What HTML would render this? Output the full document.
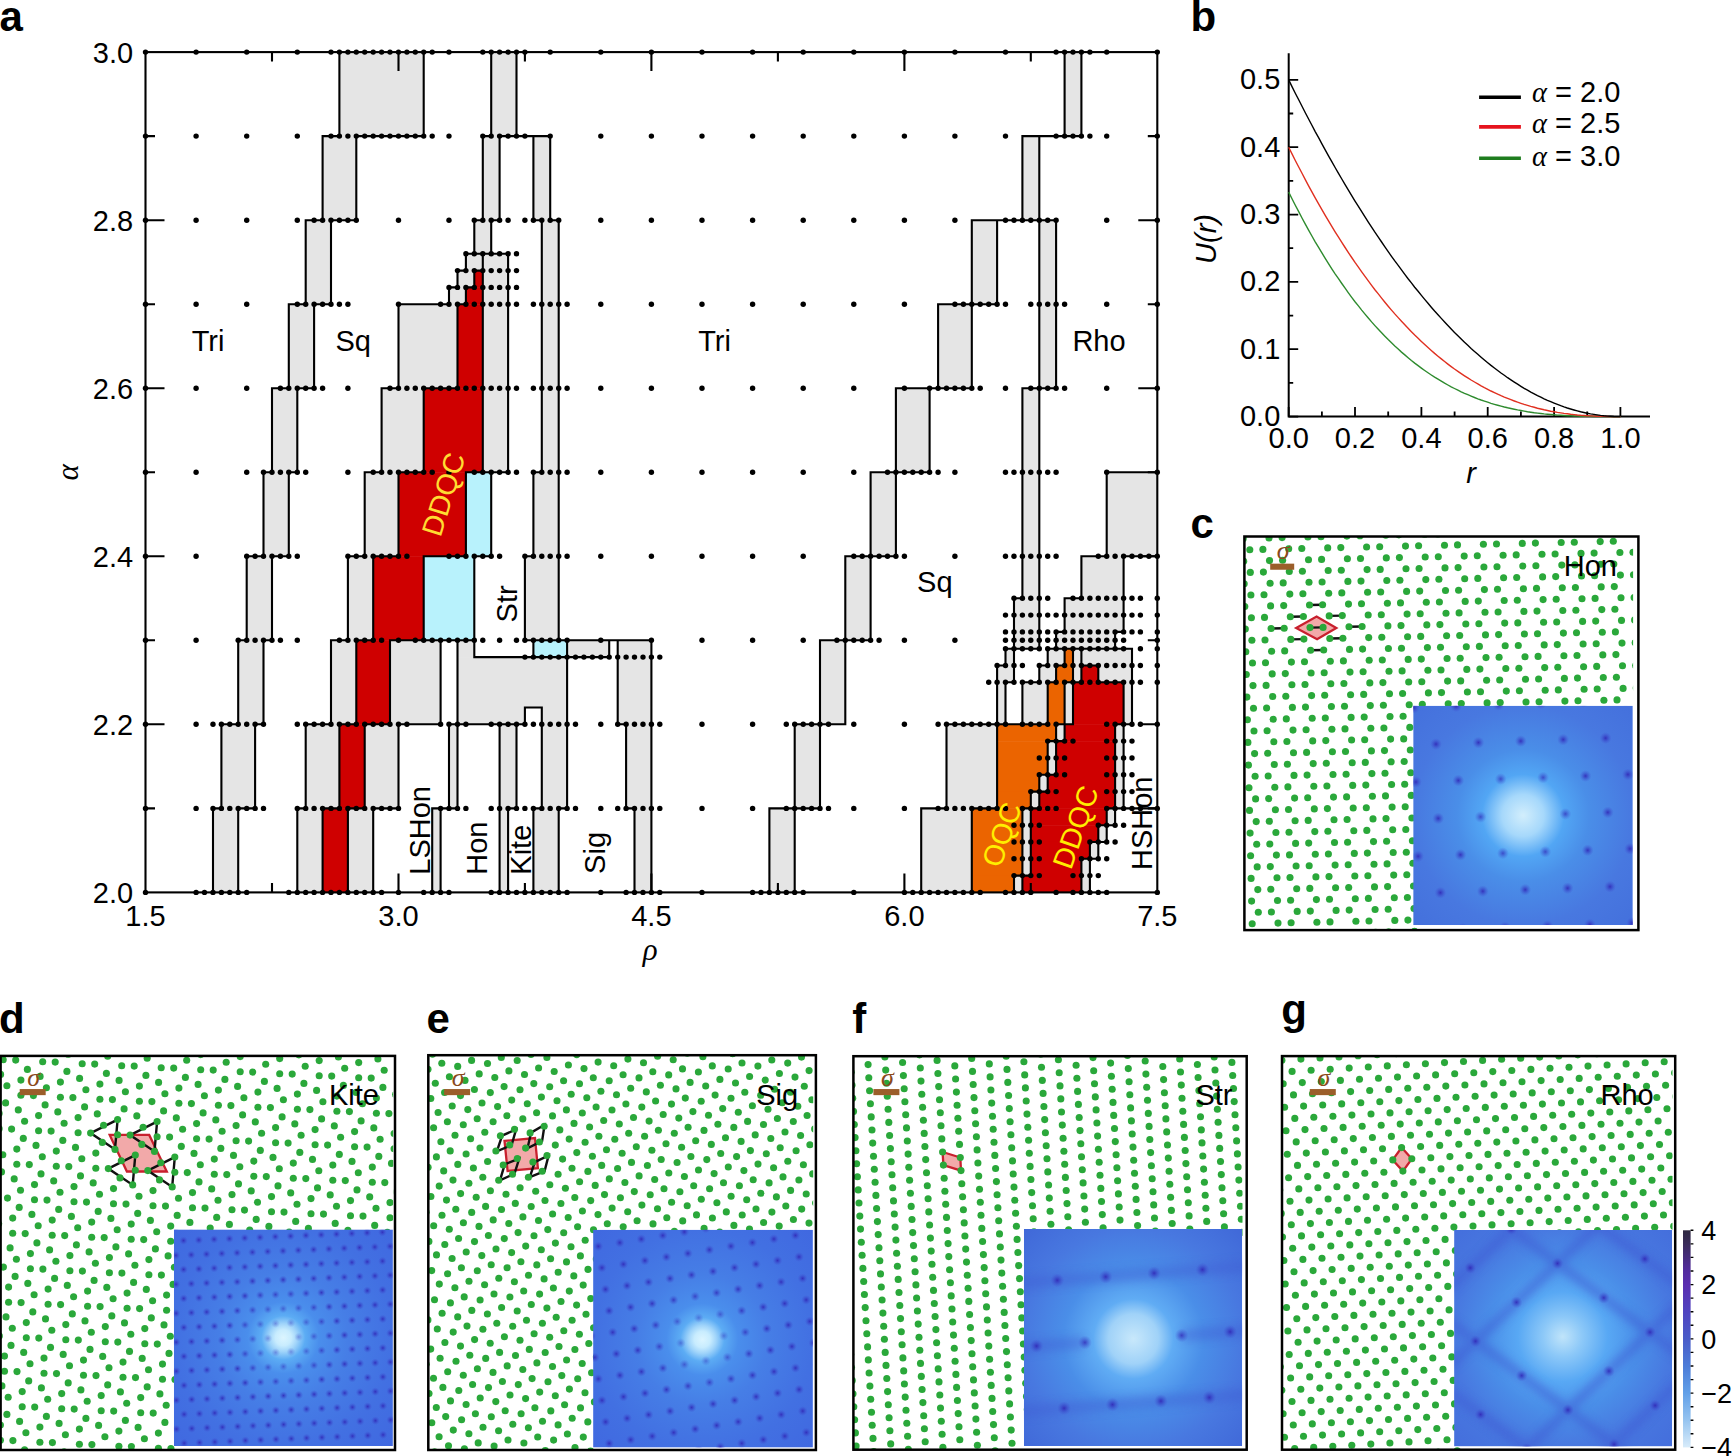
<!DOCTYPE html>
<html><head><meta charset="utf-8"><title>Figure</title>
<style>html,body{margin:0;padding:0;background:#fff;}body{width:1733px;height:1456px;overflow:hidden;}svg{display:block;}text{white-space:pre;}</style>
</head><body>
<svg width="1733" height="1456" viewBox="0 0 1733 1456"><defs><radialGradient id="spot"><stop offset="0" stop-color="#3024b4" stop-opacity="0.85"/><stop offset="0.4" stop-color="#3434c0" stop-opacity="0.5"/><stop offset="1" stop-color="#4050d0" stop-opacity="0"/></radialGradient><filter id="bl" x="-20%" y="-20%" width="140%" height="140%"><feGaussianBlur stdDeviation="4"/></filter><radialGradient id="rgc" gradientUnits="userSpaceOnUse" cx="1523" cy="815.4" r="155"><stop offset="0.000" stop-color="#d2eefc"/><stop offset="0.135" stop-color="#a6d8fb"/><stop offset="0.265" stop-color="#52a6f4"/><stop offset="0.426" stop-color="#4a8ee8"/><stop offset="0.710" stop-color="#4878e0"/><stop offset="1.000" stop-color="#4470dc"/></radialGradient><clipPath id="clc"><rect x="1244.4" y="536.5" width="388.6999999999998" height="393.6"/></clipPath><clipPath id="cic"><rect x="1413.2" y="705.7" width="219.5999999999999" height="219.29999999999995"/></clipPath><radialGradient id="rgd" gradientUnits="userSpaceOnUse" cx="283.3" cy="1337.7" r="155"><stop offset="0.000" stop-color="#dcf5ff"/><stop offset="0.052" stop-color="#c8ecfe"/><stop offset="0.090" stop-color="#a0d4fa"/><stop offset="0.142" stop-color="#5cacf4"/><stop offset="0.232" stop-color="#4a8eec"/><stop offset="0.419" stop-color="#467ee6"/><stop offset="0.710" stop-color="#4270e2"/><stop offset="1.000" stop-color="#4068e0"/></radialGradient><clipPath id="cld"><rect x="0.6" y="1055.9" width="392.59999999999997" height="394.0999999999999"/></clipPath><clipPath id="cid"><rect x="173.9" y="1229.4" width="218.99999999999997" height="216.5999999999999"/></clipPath><radialGradient id="rge" gradientUnits="userSpaceOnUse" cx="702.3" cy="1339.4" r="155"><stop offset="0.000" stop-color="#dcf5ff"/><stop offset="0.052" stop-color="#c8ecfe"/><stop offset="0.090" stop-color="#a0d4fa"/><stop offset="0.142" stop-color="#5cacf4"/><stop offset="0.232" stop-color="#4a8eec"/><stop offset="0.419" stop-color="#467ee6"/><stop offset="0.710" stop-color="#4270e2"/><stop offset="1.000" stop-color="#4068e0"/></radialGradient><clipPath id="cle"><rect x="428.3" y="1055.2" width="384.8999999999999" height="394.79999999999995"/></clipPath><clipPath id="cie"><rect x="593.1" y="1229.7" width="219.79999999999995" height="217.89999999999986"/></clipPath><radialGradient id="rgf" gradientUnits="userSpaceOnUse" cx="1133.3" cy="1338.9" r="155"><stop offset="0.000" stop-color="#c8e8fb"/><stop offset="0.161" stop-color="#a0d2f8"/><stop offset="0.258" stop-color="#60acf4"/><stop offset="0.452" stop-color="#4a8ee8"/><stop offset="0.710" stop-color="#4878e0"/><stop offset="1.000" stop-color="#4068d8"/></radialGradient><clipPath id="clf"><rect x="853.4" y="1056.2" width="389.1" height="393.5"/></clipPath><clipPath id="cif"><rect x="1023.9" y="1228.9" width="218.30000000000007" height="217.0999999999999"/></clipPath><radialGradient id="rgg" gradientUnits="userSpaceOnUse" cx="1562.7" cy="1336.7" r="155"><stop offset="0.000" stop-color="#c0e4fa"/><stop offset="0.129" stop-color="#8cc8f8"/><stop offset="0.290" stop-color="#58a8f4"/><stop offset="0.484" stop-color="#4a8ee8"/><stop offset="0.710" stop-color="#4878e0"/><stop offset="1.000" stop-color="#446edc"/></radialGradient><clipPath id="clg"><rect x="1282.0" y="1056.1" width="390.5" height="393.60000000000014"/></clipPath><clipPath id="cig"><rect x="1454.1" y="1230" width="218.10000000000014" height="216.4000000000001"/></clipPath><linearGradient id="cb" x1="0" y1="0" x2="0" y2="1"><stop offset="0" stop-color="#2e2840"/><stop offset="0.0625" stop-color="#3a2c5a"/><stop offset="0.18" stop-color="#522c9c"/><stop offset="0.25" stop-color="#5a2eb0"/><stop offset="0.375" stop-color="#5044c0"/><stop offset="0.5" stop-color="#4a5cc8"/><stop offset="0.625" stop-color="#4c7cd8"/><stop offset="0.75" stop-color="#62a0e8"/><stop offset="0.875" stop-color="#96c4f0"/><stop offset="1" stop-color="#d8ecfa"/></linearGradient></defs>
<g id="pa">
<rect x="339.43" y="52.10" width="84.32" height="84.53" fill="#e5e5e5"/>
<rect x="491.20" y="52.10" width="25.30" height="84.53" fill="#e5e5e5"/>
<rect x="1064.56" y="52.10" width="16.86" height="84.53" fill="#e5e5e5"/>
<rect x="322.57" y="136.13" width="33.73" height="84.53" fill="#e5e5e5"/>
<rect x="482.77" y="136.13" width="16.86" height="84.53" fill="#e5e5e5"/>
<rect x="533.36" y="136.13" width="16.86" height="84.53" fill="#e5e5e5"/>
<rect x="1022.40" y="136.13" width="16.86" height="84.53" fill="#e5e5e5"/>
<rect x="305.70" y="220.16" width="25.30" height="84.53" fill="#e5e5e5"/>
<rect x="474.34" y="220.16" width="16.86" height="34.11" fill="#e5e5e5"/>
<rect x="541.79" y="220.16" width="16.86" height="252.59" fill="#e5e5e5"/>
<rect x="971.81" y="220.16" width="25.30" height="84.53" fill="#e5e5e5"/>
<rect x="1039.26" y="220.16" width="16.86" height="168.56" fill="#e5e5e5"/>
<rect x="465.90" y="253.77" width="42.16" height="17.31" fill="#e5e5e5"/>
<rect x="457.47" y="270.58" width="16.86" height="17.31" fill="#e5e5e5"/>
<rect x="474.34" y="270.58" width="8.43" height="17.31" fill="#cf0000"/>
<rect x="482.77" y="270.58" width="25.30" height="202.17" fill="#e5e5e5"/>
<rect x="449.04" y="287.38" width="16.86" height="17.31" fill="#e5e5e5"/>
<rect x="465.90" y="287.38" width="16.86" height="17.31" fill="#cf0000"/>
<rect x="288.84" y="304.19" width="25.30" height="84.53" fill="#e5e5e5"/>
<rect x="398.45" y="304.19" width="59.02" height="84.53" fill="#e5e5e5"/>
<rect x="457.47" y="304.19" width="25.30" height="84.53" fill="#cf0000"/>
<rect x="938.08" y="304.19" width="33.73" height="84.53" fill="#e5e5e5"/>
<rect x="271.98" y="388.22" width="25.30" height="84.53" fill="#e5e5e5"/>
<rect x="381.59" y="388.22" width="42.16" height="84.53" fill="#e5e5e5"/>
<rect x="423.75" y="388.22" width="59.02" height="84.53" fill="#cf0000"/>
<rect x="895.92" y="388.22" width="33.73" height="84.53" fill="#e5e5e5"/>
<rect x="1022.40" y="388.22" width="16.86" height="210.58" fill="#e5e5e5"/>
<rect x="263.54" y="472.25" width="25.30" height="84.53" fill="#e5e5e5"/>
<rect x="364.72" y="472.25" width="33.73" height="84.53" fill="#e5e5e5"/>
<rect x="398.45" y="472.25" width="67.45" height="84.53" fill="#cf0000"/>
<rect x="465.90" y="472.25" width="25.30" height="84.53" fill="#b8f2fc"/>
<rect x="533.36" y="472.25" width="25.30" height="84.53" fill="#e5e5e5"/>
<rect x="870.63" y="472.25" width="25.30" height="84.53" fill="#e5e5e5"/>
<rect x="1106.71" y="472.25" width="50.59" height="84.53" fill="#e5e5e5"/>
<rect x="246.68" y="556.28" width="25.30" height="84.53" fill="#e5e5e5"/>
<rect x="347.86" y="556.28" width="25.30" height="84.53" fill="#e5e5e5"/>
<rect x="373.16" y="556.28" width="50.59" height="84.53" fill="#cf0000"/>
<rect x="423.75" y="556.28" width="50.59" height="84.53" fill="#b8f2fc"/>
<rect x="524.93" y="556.28" width="33.73" height="84.53" fill="#e5e5e5"/>
<rect x="845.33" y="556.28" width="25.30" height="84.53" fill="#e5e5e5"/>
<rect x="1081.42" y="556.28" width="42.16" height="42.52" fill="#e5e5e5"/>
<rect x="1013.97" y="598.30" width="25.30" height="50.92" fill="#e5e5e5"/>
<rect x="1064.56" y="598.30" width="59.02" height="34.11" fill="#e5e5e5"/>
<rect x="1056.12" y="631.91" width="59.02" height="17.31" fill="#e5e5e5"/>
<rect x="238.25" y="640.31" width="25.30" height="84.53" fill="#e5e5e5"/>
<rect x="331.00" y="640.31" width="25.30" height="84.53" fill="#e5e5e5"/>
<rect x="356.29" y="640.31" width="33.73" height="84.53" fill="#cf0000"/>
<rect x="390.02" y="640.31" width="50.59" height="84.53" fill="#e5e5e5"/>
<rect x="457.47" y="640.31" width="16.86" height="17.31" fill="#e5e5e5"/>
<rect x="533.36" y="640.31" width="33.73" height="17.31" fill="#b8f2fc"/>
<rect x="567.09" y="640.31" width="42.16" height="17.31" fill="#e5e5e5"/>
<rect x="617.68" y="640.31" width="33.73" height="84.53" fill="#e5e5e5"/>
<rect x="820.04" y="640.31" width="25.30" height="84.53" fill="#e5e5e5"/>
<rect x="1005.53" y="648.71" width="8.43" height="17.31" fill="#e5e5e5"/>
<rect x="1047.69" y="648.71" width="16.86" height="17.31" fill="#e5e5e5"/>
<rect x="1064.56" y="648.71" width="8.43" height="17.31" fill="#eb6400"/>
<rect x="1072.99" y="648.71" width="59.02" height="17.31" fill="#e5e5e5"/>
<rect x="457.47" y="657.12" width="109.61" height="50.92" fill="#e5e5e5"/>
<rect x="997.10" y="665.52" width="16.86" height="17.31" fill="#e5e5e5"/>
<rect x="1039.26" y="665.52" width="16.86" height="17.31" fill="#e5e5e5"/>
<rect x="1056.12" y="665.52" width="16.86" height="17.31" fill="#eb6400"/>
<rect x="1072.99" y="665.52" width="8.43" height="17.31" fill="#e5e5e5"/>
<rect x="1081.42" y="665.52" width="16.86" height="17.31" fill="#cf0000"/>
<rect x="1098.28" y="665.52" width="33.73" height="17.31" fill="#e5e5e5"/>
<rect x="997.10" y="682.33" width="8.43" height="42.52" fill="#e5e5e5"/>
<rect x="1022.40" y="682.33" width="25.30" height="42.52" fill="#e5e5e5"/>
<rect x="1047.69" y="682.33" width="16.86" height="42.52" fill="#eb6400"/>
<rect x="1064.56" y="682.33" width="8.43" height="42.52" fill="#e5e5e5"/>
<rect x="1072.99" y="682.33" width="50.59" height="42.52" fill="#cf0000"/>
<rect x="1123.58" y="682.33" width="8.43" height="42.52" fill="#e5e5e5"/>
<rect x="457.47" y="707.53" width="67.45" height="17.31" fill="#e5e5e5"/>
<rect x="541.79" y="707.53" width="25.30" height="101.34" fill="#e5e5e5"/>
<rect x="221.39" y="724.34" width="33.73" height="84.53" fill="#e5e5e5"/>
<rect x="305.70" y="724.34" width="33.73" height="84.53" fill="#e5e5e5"/>
<rect x="339.43" y="724.34" width="25.30" height="84.53" fill="#cf0000"/>
<rect x="364.72" y="724.34" width="33.73" height="84.53" fill="#e5e5e5"/>
<rect x="449.04" y="724.34" width="8.43" height="84.53" fill="#e5e5e5"/>
<rect x="499.63" y="724.34" width="16.86" height="84.53" fill="#e5e5e5"/>
<rect x="626.11" y="724.34" width="25.30" height="84.53" fill="#e5e5e5"/>
<rect x="794.74" y="724.34" width="25.30" height="84.53" fill="#e5e5e5"/>
<rect x="946.51" y="724.34" width="50.59" height="84.53" fill="#e5e5e5"/>
<rect x="997.10" y="724.34" width="59.02" height="17.31" fill="#eb6400"/>
<rect x="1056.12" y="724.34" width="8.43" height="17.31" fill="#e5e5e5"/>
<rect x="1064.56" y="724.34" width="50.59" height="17.31" fill="#cf0000"/>
<rect x="1115.15" y="724.34" width="8.43" height="84.53" fill="#e5e5e5"/>
<rect x="997.10" y="741.15" width="50.59" height="34.11" fill="#eb6400"/>
<rect x="1047.69" y="741.15" width="8.43" height="34.11" fill="#e5e5e5"/>
<rect x="1056.12" y="741.15" width="59.02" height="34.11" fill="#cf0000"/>
<rect x="997.10" y="774.76" width="42.16" height="17.31" fill="#eb6400"/>
<rect x="1039.26" y="774.76" width="8.43" height="17.31" fill="#e5e5e5"/>
<rect x="1047.69" y="774.76" width="67.45" height="17.31" fill="#cf0000"/>
<rect x="997.10" y="791.56" width="33.73" height="17.31" fill="#eb6400"/>
<rect x="1030.83" y="791.56" width="8.43" height="17.31" fill="#e5e5e5"/>
<rect x="1039.26" y="791.56" width="75.89" height="17.31" fill="#cf0000"/>
<rect x="212.95" y="808.37" width="25.30" height="84.53" fill="#e5e5e5"/>
<rect x="297.27" y="808.37" width="25.30" height="84.53" fill="#e5e5e5"/>
<rect x="322.57" y="808.37" width="25.30" height="84.53" fill="#cf0000"/>
<rect x="347.86" y="808.37" width="25.30" height="84.53" fill="#e5e5e5"/>
<rect x="432.18" y="808.37" width="8.43" height="84.53" fill="#e5e5e5"/>
<rect x="499.63" y="808.37" width="8.43" height="84.53" fill="#e5e5e5"/>
<rect x="533.36" y="808.37" width="25.30" height="84.53" fill="#e5e5e5"/>
<rect x="634.54" y="808.37" width="16.86" height="84.53" fill="#e5e5e5"/>
<rect x="769.45" y="808.37" width="25.30" height="84.53" fill="#e5e5e5"/>
<rect x="921.22" y="808.37" width="50.59" height="84.53" fill="#e5e5e5"/>
<rect x="971.81" y="808.37" width="50.59" height="67.72" fill="#eb6400"/>
<rect x="1022.40" y="808.37" width="8.43" height="67.72" fill="#e5e5e5"/>
<rect x="1030.83" y="808.37" width="75.89" height="17.31" fill="#cf0000"/>
<rect x="1106.71" y="808.37" width="8.43" height="17.31" fill="#e5e5e5"/>
<rect x="1030.83" y="825.18" width="67.45" height="17.31" fill="#cf0000"/>
<rect x="1098.28" y="825.18" width="8.43" height="17.31" fill="#e5e5e5"/>
<rect x="1030.83" y="841.98" width="59.02" height="17.31" fill="#cf0000"/>
<rect x="1089.85" y="841.98" width="8.43" height="17.31" fill="#e5e5e5"/>
<rect x="1030.83" y="858.79" width="50.59" height="17.31" fill="#cf0000"/>
<rect x="1081.42" y="858.79" width="8.43" height="34.11" fill="#e5e5e5"/>
<rect x="971.81" y="875.59" width="42.16" height="17.31" fill="#eb6400"/>
<rect x="1013.97" y="875.59" width="8.43" height="17.31" fill="#e5e5e5"/>
<rect x="1022.40" y="875.59" width="59.02" height="17.31" fill="#cf0000"/>
<path d="M213.0 808.4L213.0 892.4M221.4 724.3L221.4 808.4M238.2 640.3L238.2 724.3M238.2 808.4L238.2 892.4M246.7 556.3L246.7 640.3M255.1 724.3L255.1 808.4M263.5 472.3L263.5 556.3M263.5 640.3L263.5 724.3M272.0 388.2L272.0 472.3M272.0 556.3L272.0 640.3M288.8 304.2L288.8 388.2M288.8 472.3L288.8 556.3M297.3 388.2L297.3 472.3M297.3 808.4L297.3 892.4M305.7 220.2L305.7 304.2M305.7 724.3L305.7 808.4M314.1 304.2L314.1 388.2M322.6 136.1L322.6 220.2M322.6 808.4L322.6 892.4M331.0 220.2L331.0 304.2M331.0 640.3L331.0 724.3M339.4 52.1L339.4 136.1M339.4 724.3L339.4 808.4M347.9 556.3L347.9 640.3M347.9 808.4L347.9 892.4M356.3 136.1L356.3 220.2M356.3 640.3L356.3 724.3M364.7 472.3L364.7 556.3M364.7 724.3L364.7 808.4M373.2 556.3L373.2 640.3M373.2 808.4L373.2 892.4M381.6 388.2L381.6 472.3M390.0 640.3L390.0 724.3M398.5 304.2L398.5 388.2M398.5 472.3L398.5 556.3M398.5 724.3L398.5 808.4M423.7 52.1L423.7 136.1M423.7 388.2L423.7 472.3M423.7 556.3L423.7 640.3M432.2 808.4L432.2 892.4M440.6 640.3L440.6 724.3M440.6 808.4L440.6 892.4M449.0 287.4L449.0 304.2M449.0 724.3L449.0 808.4M457.5 270.6L457.5 287.4M457.5 304.2L457.5 388.2M457.5 640.3L457.5 808.4M465.9 253.8L465.9 270.6M465.9 287.4L465.9 304.2M465.9 472.3L465.9 556.3M474.3 220.2L474.3 253.8M474.3 270.6L474.3 287.4M474.3 556.3L474.3 657.1M482.8 136.1L482.8 220.2M482.8 253.8L482.8 472.3M491.2 52.1L491.2 136.1M491.2 220.2L491.2 253.8M491.2 472.3L491.2 556.3M499.6 136.1L499.6 220.2M499.6 724.3L499.6 892.4M508.1 253.8L508.1 472.3M508.1 808.4L508.1 892.4M516.5 52.1L516.5 136.1M516.5 724.3L516.5 808.4M524.9 556.3L524.9 640.3M524.9 707.5L524.9 724.3M533.4 136.1L533.4 220.2M533.4 472.3L533.4 556.3M533.4 640.3L533.4 657.1M533.4 808.4L533.4 892.4M541.8 220.2L541.8 472.3M541.8 707.5L541.8 808.4M550.2 136.1L550.2 220.2M558.7 220.2L558.7 640.3M558.7 808.4L558.7 892.4M567.1 640.3L567.1 808.4M609.2 640.3L609.2 657.1M617.7 640.3L617.7 724.3M626.1 724.3L626.1 808.4M634.5 808.4L634.5 892.4M651.4 640.3L651.4 892.4M769.4 808.4L769.4 892.4M794.7 724.3L794.7 892.4M820.0 640.3L820.0 808.4M845.3 556.3L845.3 724.3M870.6 472.3L870.6 640.3M895.9 388.2L895.9 556.3M921.2 808.4L921.2 892.4M929.6 388.2L929.6 472.3M938.1 304.2L938.1 388.2M946.5 724.3L946.5 808.4M971.8 220.2L971.8 388.2M971.8 808.4L971.8 892.4M997.1 220.2L997.1 304.2M997.1 665.5L997.1 808.4M1005.5 648.7L1005.5 665.5M1005.5 682.3L1005.5 724.3M1014.0 598.3L1014.0 682.3M1014.0 875.6L1014.0 892.4M1022.4 136.1L1022.4 220.2M1022.4 388.2L1022.4 598.3M1022.4 682.3L1022.4 724.3M1022.4 808.4L1022.4 892.4M1030.8 791.6L1030.8 875.6M1039.3 136.1L1039.3 648.7M1039.3 665.5L1039.3 682.3M1039.3 774.8L1039.3 808.4M1047.7 648.7L1047.7 665.5M1047.7 682.3L1047.7 724.3M1047.7 741.1L1047.7 791.6M1056.1 220.2L1056.1 388.2M1056.1 631.9L1056.1 648.7M1056.1 665.5L1056.1 682.3M1056.1 724.3L1056.1 774.8M1064.6 52.1L1064.6 136.1M1064.6 598.3L1064.6 631.9M1064.6 648.7L1064.6 665.5M1064.6 682.3L1064.6 741.1M1073.0 648.7L1073.0 724.3M1081.4 52.1L1081.4 136.1M1081.4 556.3L1081.4 598.3M1081.4 648.7L1081.4 682.3M1081.4 858.8L1081.4 892.4M1089.9 842.0L1089.9 892.4M1098.3 665.5L1098.3 682.3M1098.3 825.2L1098.3 858.8M1106.7 472.3L1106.7 556.3M1106.7 808.4L1106.7 842.0M1115.1 631.9L1115.1 648.7M1115.1 724.3L1115.1 825.2M1123.6 556.3L1123.6 631.9M1123.6 682.3L1123.6 808.4M1132.0 648.7L1132.0 724.3M322.6 136.1L339.4 136.1M356.3 136.1L423.7 136.1M482.8 136.1L491.2 136.1M499.6 136.1L550.2 136.1M1022.4 136.1L1081.4 136.1M305.7 220.2L322.6 220.2M331.0 220.2L356.3 220.2M474.3 220.2L482.8 220.2M491.2 220.2L499.6 220.2M533.4 220.2L541.8 220.2M550.2 220.2L558.7 220.2M971.8 220.2L1056.1 220.2M465.9 253.8L508.1 253.8M457.5 270.6L465.9 270.6M474.3 270.6L482.8 270.6M449.0 287.4L457.5 287.4M465.9 287.4L474.3 287.4M288.8 304.2L305.7 304.2M314.1 304.2L331.0 304.2M398.5 304.2L449.0 304.2M457.5 304.2L465.9 304.2M938.1 304.2L997.1 304.2M272.0 388.2L288.8 388.2M297.3 388.2L314.1 388.2M381.6 388.2L398.5 388.2M423.7 388.2L457.5 388.2M895.9 388.2L971.8 388.2M1022.4 388.2L1056.1 388.2M263.5 472.3L272.0 472.3M288.8 472.3L297.3 472.3M364.7 472.3L381.6 472.3M398.5 472.3L423.7 472.3M465.9 472.3L508.1 472.3M533.4 472.3L541.8 472.3M870.6 472.3L929.6 472.3M1106.7 472.3L1157.3 472.3M246.7 556.3L263.5 556.3M272.0 556.3L288.8 556.3M347.9 556.3L364.7 556.3M373.2 556.3L398.5 556.3M423.7 556.3L465.9 556.3M474.3 556.3L491.2 556.3M524.9 556.3L533.4 556.3M845.3 556.3L895.9 556.3M1081.4 556.3L1106.7 556.3M1123.6 556.3L1157.3 556.3M1014.0 598.3L1022.4 598.3M1064.6 598.3L1081.4 598.3M1056.1 631.9L1064.6 631.9M1115.1 631.9L1123.6 631.9M238.2 640.3L246.7 640.3M263.5 640.3L272.0 640.3M331.0 640.3L347.9 640.3M356.3 640.3L373.2 640.3M390.0 640.3L474.3 640.3M524.9 640.3L651.4 640.3M820.0 640.3L870.6 640.3M1005.5 648.7L1039.3 648.7M1047.7 648.7L1132.0 648.7M474.3 657.1L609.2 657.1M997.1 665.5L1005.5 665.5M1039.3 665.5L1047.7 665.5M1056.1 665.5L1064.6 665.5M1081.4 665.5L1098.3 665.5M1005.5 682.3L1014.0 682.3M1022.4 682.3L1039.3 682.3M1047.7 682.3L1056.1 682.3M1064.6 682.3L1081.4 682.3M1098.3 682.3L1123.6 682.3M524.9 707.5L541.8 707.5M221.4 724.3L238.2 724.3M255.1 724.3L263.5 724.3M305.7 724.3L331.0 724.3M339.4 724.3L356.3 724.3M364.7 724.3L390.0 724.3M398.5 724.3L440.6 724.3M449.0 724.3L524.9 724.3M617.7 724.3L626.1 724.3M794.7 724.3L845.3 724.3M946.5 724.3L1047.7 724.3M1056.1 724.3L1073.0 724.3M1115.1 724.3L1132.0 724.3M1047.7 741.1L1064.6 741.1M1039.3 774.8L1056.1 774.8M1030.8 791.6L1047.7 791.6M213.0 808.4L221.4 808.4M238.2 808.4L255.1 808.4M297.3 808.4L305.7 808.4M322.6 808.4L339.4 808.4M347.9 808.4L364.7 808.4M373.2 808.4L398.5 808.4M432.2 808.4L457.5 808.4M508.1 808.4L516.5 808.4M533.4 808.4L541.8 808.4M558.7 808.4L567.1 808.4M626.1 808.4L634.5 808.4M769.4 808.4L820.0 808.4M921.2 808.4L946.5 808.4M971.8 808.4L997.1 808.4M1022.4 808.4L1039.3 808.4M1106.7 808.4L1157.3 808.4M1098.3 825.2L1115.1 825.2M1089.9 842.0L1106.7 842.0M1081.4 858.8L1098.3 858.8M1014.0 875.6L1030.8 875.6" stroke="#000" stroke-width="2.1" fill="none" stroke-linecap="square"/>
<rect x="145.5" y="52.1" width="1011.8" height="840.3" fill="none" stroke="#000" stroke-width="2.1"/>
<path d="M272.0 52.1v9.5M272.0 892.4v-9.5M398.5 52.1v19M398.5 892.4v-19M524.9 52.1v9.5M524.9 892.4v-9.5M651.4 52.1v19M651.4 892.4v-19M777.9 52.1v9.5M777.9 892.4v-9.5M904.4 52.1v19M904.4 892.4v-19M1030.8 52.1v9.5M1030.8 892.4v-9.5M145.5 136.1h9.5M1157.3 136.1h-9.5M145.5 220.2h19M1157.3 220.2h-19M145.5 304.2h9.5M1157.3 304.2h-9.5M145.5 388.2h19M1157.3 388.2h-19M145.5 472.3h9.5M1157.3 472.3h-9.5M145.5 556.3h19M1157.3 556.3h-19M145.5 640.3h9.5M1157.3 640.3h-9.5M145.5 724.3h19M1157.3 724.3h-19M145.5 808.4h9.5M1157.3 808.4h-9.5" stroke="#000" stroke-width="2.1" fill="none"/>
<g fill="#000"><circle cx="145.5" cy="52.1" r="2.7"/><circle cx="196.1" cy="52.1" r="2.7"/><circle cx="246.7" cy="52.1" r="2.7"/><circle cx="297.3" cy="52.1" r="2.7"/><circle cx="331.0" cy="52.1" r="2.7"/><circle cx="339.4" cy="52.1" r="2.7"/><circle cx="347.9" cy="52.1" r="2.7"/><circle cx="356.3" cy="52.1" r="2.7"/><circle cx="364.7" cy="52.1" r="2.7"/><circle cx="373.2" cy="52.1" r="2.7"/><circle cx="381.6" cy="52.1" r="2.7"/><circle cx="390.0" cy="52.1" r="2.7"/><circle cx="398.5" cy="52.1" r="2.7"/><circle cx="406.9" cy="52.1" r="2.7"/><circle cx="415.3" cy="52.1" r="2.7"/><circle cx="423.7" cy="52.1" r="2.7"/><circle cx="432.2" cy="52.1" r="2.7"/><circle cx="449.0" cy="52.1" r="2.7"/><circle cx="482.8" cy="52.1" r="2.7"/><circle cx="491.2" cy="52.1" r="2.7"/><circle cx="499.6" cy="52.1" r="2.7"/><circle cx="508.1" cy="52.1" r="2.7"/><circle cx="516.5" cy="52.1" r="2.7"/><circle cx="524.9" cy="52.1" r="2.7"/><circle cx="550.2" cy="52.1" r="2.7"/><circle cx="600.8" cy="52.1" r="2.7"/><circle cx="651.4" cy="52.1" r="2.7"/><circle cx="702.0" cy="52.1" r="2.7"/><circle cx="752.6" cy="52.1" r="2.7"/><circle cx="803.2" cy="52.1" r="2.7"/><circle cx="853.8" cy="52.1" r="2.7"/><circle cx="904.4" cy="52.1" r="2.7"/><circle cx="954.9" cy="52.1" r="2.7"/><circle cx="1005.5" cy="52.1" r="2.7"/><circle cx="1056.1" cy="52.1" r="2.7"/><circle cx="1064.6" cy="52.1" r="2.7"/><circle cx="1073.0" cy="52.1" r="2.7"/><circle cx="1081.4" cy="52.1" r="2.7"/><circle cx="1089.9" cy="52.1" r="2.7"/><circle cx="1106.7" cy="52.1" r="2.7"/><circle cx="1157.3" cy="52.1" r="2.7"/><circle cx="145.5" cy="136.1" r="2.7"/><circle cx="196.1" cy="136.1" r="2.7"/><circle cx="246.7" cy="136.1" r="2.7"/><circle cx="297.3" cy="136.1" r="2.7"/><circle cx="331.0" cy="136.1" r="2.7"/><circle cx="339.4" cy="136.1" r="2.7"/><circle cx="347.9" cy="136.1" r="2.7"/><circle cx="356.3" cy="136.1" r="2.7"/><circle cx="364.7" cy="136.1" r="2.7"/><circle cx="373.2" cy="136.1" r="2.7"/><circle cx="381.6" cy="136.1" r="2.7"/><circle cx="390.0" cy="136.1" r="2.7"/><circle cx="398.5" cy="136.1" r="2.7"/><circle cx="406.9" cy="136.1" r="2.7"/><circle cx="415.3" cy="136.1" r="2.7"/><circle cx="423.7" cy="136.1" r="2.7"/><circle cx="432.2" cy="136.1" r="2.7"/><circle cx="449.0" cy="136.1" r="2.7"/><circle cx="482.8" cy="136.1" r="2.7"/><circle cx="491.2" cy="136.1" r="2.7"/><circle cx="499.6" cy="136.1" r="2.7"/><circle cx="508.1" cy="136.1" r="2.7"/><circle cx="516.5" cy="136.1" r="2.7"/><circle cx="524.9" cy="136.1" r="2.7"/><circle cx="550.2" cy="136.1" r="2.7"/><circle cx="600.8" cy="136.1" r="2.7"/><circle cx="651.4" cy="136.1" r="2.7"/><circle cx="702.0" cy="136.1" r="2.7"/><circle cx="752.6" cy="136.1" r="2.7"/><circle cx="803.2" cy="136.1" r="2.7"/><circle cx="853.8" cy="136.1" r="2.7"/><circle cx="904.4" cy="136.1" r="2.7"/><circle cx="954.9" cy="136.1" r="2.7"/><circle cx="1005.5" cy="136.1" r="2.7"/><circle cx="1056.1" cy="136.1" r="2.7"/><circle cx="1064.6" cy="136.1" r="2.7"/><circle cx="1073.0" cy="136.1" r="2.7"/><circle cx="1081.4" cy="136.1" r="2.7"/><circle cx="1089.9" cy="136.1" r="2.7"/><circle cx="1106.7" cy="136.1" r="2.7"/><circle cx="1157.3" cy="136.1" r="2.7"/><circle cx="145.5" cy="220.2" r="2.7"/><circle cx="196.1" cy="220.2" r="2.7"/><circle cx="246.7" cy="220.2" r="2.7"/><circle cx="297.3" cy="220.2" r="2.7"/><circle cx="314.1" cy="220.2" r="2.7"/><circle cx="322.6" cy="220.2" r="2.7"/><circle cx="331.0" cy="220.2" r="2.7"/><circle cx="339.4" cy="220.2" r="2.7"/><circle cx="347.9" cy="220.2" r="2.7"/><circle cx="356.3" cy="220.2" r="2.7"/><circle cx="398.5" cy="220.2" r="2.7"/><circle cx="449.0" cy="220.2" r="2.7"/><circle cx="474.3" cy="220.2" r="2.7"/><circle cx="482.8" cy="220.2" r="2.7"/><circle cx="491.2" cy="220.2" r="2.7"/><circle cx="499.6" cy="220.2" r="2.7"/><circle cx="508.1" cy="220.2" r="2.7"/><circle cx="524.9" cy="220.2" r="2.7"/><circle cx="533.4" cy="220.2" r="2.7"/><circle cx="541.8" cy="220.2" r="2.7"/><circle cx="550.2" cy="220.2" r="2.7"/><circle cx="558.7" cy="220.2" r="2.7"/><circle cx="600.8" cy="220.2" r="2.7"/><circle cx="651.4" cy="220.2" r="2.7"/><circle cx="702.0" cy="220.2" r="2.7"/><circle cx="752.6" cy="220.2" r="2.7"/><circle cx="803.2" cy="220.2" r="2.7"/><circle cx="853.8" cy="220.2" r="2.7"/><circle cx="904.4" cy="220.2" r="2.7"/><circle cx="954.9" cy="220.2" r="2.7"/><circle cx="1005.5" cy="220.2" r="2.7"/><circle cx="1014.0" cy="220.2" r="2.7"/><circle cx="1022.4" cy="220.2" r="2.7"/><circle cx="1030.8" cy="220.2" r="2.7"/><circle cx="1039.3" cy="220.2" r="2.7"/><circle cx="1047.7" cy="220.2" r="2.7"/><circle cx="1056.1" cy="220.2" r="2.7"/><circle cx="1106.7" cy="220.2" r="2.7"/><circle cx="1157.3" cy="220.2" r="2.7"/><circle cx="145.5" cy="304.2" r="2.7"/><circle cx="196.1" cy="304.2" r="2.7"/><circle cx="246.7" cy="304.2" r="2.7"/><circle cx="297.3" cy="304.2" r="2.7"/><circle cx="305.7" cy="304.2" r="2.7"/><circle cx="314.1" cy="304.2" r="2.7"/><circle cx="322.6" cy="304.2" r="2.7"/><circle cx="331.0" cy="304.2" r="2.7"/><circle cx="339.4" cy="304.2" r="2.7"/><circle cx="347.9" cy="304.2" r="2.7"/><circle cx="398.5" cy="304.2" r="2.7"/><circle cx="440.6" cy="304.2" r="2.7"/><circle cx="449.0" cy="304.2" r="2.7"/><circle cx="457.5" cy="304.2" r="2.7"/><circle cx="465.9" cy="304.2" r="2.7"/><circle cx="474.3" cy="304.2" r="2.7"/><circle cx="482.8" cy="304.2" r="2.7"/><circle cx="491.2" cy="304.2" r="2.7"/><circle cx="499.6" cy="304.2" r="2.7"/><circle cx="508.1" cy="304.2" r="2.7"/><circle cx="516.5" cy="304.2" r="2.7"/><circle cx="533.4" cy="304.2" r="2.7"/><circle cx="541.8" cy="304.2" r="2.7"/><circle cx="550.2" cy="304.2" r="2.7"/><circle cx="558.7" cy="304.2" r="2.7"/><circle cx="567.1" cy="304.2" r="2.7"/><circle cx="600.8" cy="304.2" r="2.7"/><circle cx="651.4" cy="304.2" r="2.7"/><circle cx="702.0" cy="304.2" r="2.7"/><circle cx="752.6" cy="304.2" r="2.7"/><circle cx="803.2" cy="304.2" r="2.7"/><circle cx="853.8" cy="304.2" r="2.7"/><circle cx="904.4" cy="304.2" r="2.7"/><circle cx="954.9" cy="304.2" r="2.7"/><circle cx="963.4" cy="304.2" r="2.7"/><circle cx="971.8" cy="304.2" r="2.7"/><circle cx="980.2" cy="304.2" r="2.7"/><circle cx="988.7" cy="304.2" r="2.7"/><circle cx="997.1" cy="304.2" r="2.7"/><circle cx="1005.5" cy="304.2" r="2.7"/><circle cx="1030.8" cy="304.2" r="2.7"/><circle cx="1039.3" cy="304.2" r="2.7"/><circle cx="1047.7" cy="304.2" r="2.7"/><circle cx="1056.1" cy="304.2" r="2.7"/><circle cx="1064.6" cy="304.2" r="2.7"/><circle cx="1106.7" cy="304.2" r="2.7"/><circle cx="1157.3" cy="304.2" r="2.7"/><circle cx="145.5" cy="388.2" r="2.7"/><circle cx="196.1" cy="388.2" r="2.7"/><circle cx="246.7" cy="388.2" r="2.7"/><circle cx="280.4" cy="388.2" r="2.7"/><circle cx="288.8" cy="388.2" r="2.7"/><circle cx="297.3" cy="388.2" r="2.7"/><circle cx="305.7" cy="388.2" r="2.7"/><circle cx="314.1" cy="388.2" r="2.7"/><circle cx="322.6" cy="388.2" r="2.7"/><circle cx="347.9" cy="388.2" r="2.7"/><circle cx="390.0" cy="388.2" r="2.7"/><circle cx="398.5" cy="388.2" r="2.7"/><circle cx="406.9" cy="388.2" r="2.7"/><circle cx="415.3" cy="388.2" r="2.7"/><circle cx="423.7" cy="388.2" r="2.7"/><circle cx="432.2" cy="388.2" r="2.7"/><circle cx="440.6" cy="388.2" r="2.7"/><circle cx="449.0" cy="388.2" r="2.7"/><circle cx="457.5" cy="388.2" r="2.7"/><circle cx="465.9" cy="388.2" r="2.7"/><circle cx="474.3" cy="388.2" r="2.7"/><circle cx="482.8" cy="388.2" r="2.7"/><circle cx="491.2" cy="388.2" r="2.7"/><circle cx="499.6" cy="388.2" r="2.7"/><circle cx="508.1" cy="388.2" r="2.7"/><circle cx="516.5" cy="388.2" r="2.7"/><circle cx="533.4" cy="388.2" r="2.7"/><circle cx="541.8" cy="388.2" r="2.7"/><circle cx="550.2" cy="388.2" r="2.7"/><circle cx="558.7" cy="388.2" r="2.7"/><circle cx="567.1" cy="388.2" r="2.7"/><circle cx="600.8" cy="388.2" r="2.7"/><circle cx="651.4" cy="388.2" r="2.7"/><circle cx="702.0" cy="388.2" r="2.7"/><circle cx="752.6" cy="388.2" r="2.7"/><circle cx="803.2" cy="388.2" r="2.7"/><circle cx="853.8" cy="388.2" r="2.7"/><circle cx="904.4" cy="388.2" r="2.7"/><circle cx="929.6" cy="388.2" r="2.7"/><circle cx="938.1" cy="388.2" r="2.7"/><circle cx="946.5" cy="388.2" r="2.7"/><circle cx="954.9" cy="388.2" r="2.7"/><circle cx="963.4" cy="388.2" r="2.7"/><circle cx="971.8" cy="388.2" r="2.7"/><circle cx="980.2" cy="388.2" r="2.7"/><circle cx="1005.5" cy="388.2" r="2.7"/><circle cx="1030.8" cy="388.2" r="2.7"/><circle cx="1039.3" cy="388.2" r="2.7"/><circle cx="1047.7" cy="388.2" r="2.7"/><circle cx="1056.1" cy="388.2" r="2.7"/><circle cx="1064.6" cy="388.2" r="2.7"/><circle cx="1106.7" cy="388.2" r="2.7"/><circle cx="1157.3" cy="388.2" r="2.7"/><circle cx="145.5" cy="472.3" r="2.7"/><circle cx="196.1" cy="472.3" r="2.7"/><circle cx="246.7" cy="472.3" r="2.7"/><circle cx="263.5" cy="472.3" r="2.7"/><circle cx="272.0" cy="472.3" r="2.7"/><circle cx="280.4" cy="472.3" r="2.7"/><circle cx="288.8" cy="472.3" r="2.7"/><circle cx="297.3" cy="472.3" r="2.7"/><circle cx="305.7" cy="472.3" r="2.7"/><circle cx="347.9" cy="472.3" r="2.7"/><circle cx="373.2" cy="472.3" r="2.7"/><circle cx="381.6" cy="472.3" r="2.7"/><circle cx="390.0" cy="472.3" r="2.7"/><circle cx="398.5" cy="472.3" r="2.7"/><circle cx="406.9" cy="472.3" r="2.7"/><circle cx="415.3" cy="472.3" r="2.7"/><circle cx="423.7" cy="472.3" r="2.7"/><circle cx="432.2" cy="472.3" r="2.7"/><circle cx="449.0" cy="472.3" r="2.7"/><circle cx="474.3" cy="472.3" r="2.7"/><circle cx="482.8" cy="472.3" r="2.7"/><circle cx="491.2" cy="472.3" r="2.7"/><circle cx="499.6" cy="472.3" r="2.7"/><circle cx="508.1" cy="472.3" r="2.7"/><circle cx="516.5" cy="472.3" r="2.7"/><circle cx="533.4" cy="472.3" r="2.7"/><circle cx="541.8" cy="472.3" r="2.7"/><circle cx="550.2" cy="472.3" r="2.7"/><circle cx="558.7" cy="472.3" r="2.7"/><circle cx="567.1" cy="472.3" r="2.7"/><circle cx="600.8" cy="472.3" r="2.7"/><circle cx="651.4" cy="472.3" r="2.7"/><circle cx="702.0" cy="472.3" r="2.7"/><circle cx="752.6" cy="472.3" r="2.7"/><circle cx="803.2" cy="472.3" r="2.7"/><circle cx="853.8" cy="472.3" r="2.7"/><circle cx="887.5" cy="472.3" r="2.7"/><circle cx="895.9" cy="472.3" r="2.7"/><circle cx="904.4" cy="472.3" r="2.7"/><circle cx="912.8" cy="472.3" r="2.7"/><circle cx="921.2" cy="472.3" r="2.7"/><circle cx="929.6" cy="472.3" r="2.7"/><circle cx="938.1" cy="472.3" r="2.7"/><circle cx="954.9" cy="472.3" r="2.7"/><circle cx="1005.5" cy="472.3" r="2.7"/><circle cx="1014.0" cy="472.3" r="2.7"/><circle cx="1022.4" cy="472.3" r="2.7"/><circle cx="1030.8" cy="472.3" r="2.7"/><circle cx="1039.3" cy="472.3" r="2.7"/><circle cx="1047.7" cy="472.3" r="2.7"/><circle cx="1056.1" cy="472.3" r="2.7"/><circle cx="1106.7" cy="472.3" r="2.7"/><circle cx="1157.3" cy="472.3" r="2.7"/><circle cx="145.5" cy="556.3" r="2.7"/><circle cx="196.1" cy="556.3" r="2.7"/><circle cx="246.7" cy="556.3" r="2.7"/><circle cx="255.1" cy="556.3" r="2.7"/><circle cx="263.5" cy="556.3" r="2.7"/><circle cx="272.0" cy="556.3" r="2.7"/><circle cx="280.4" cy="556.3" r="2.7"/><circle cx="288.8" cy="556.3" r="2.7"/><circle cx="297.3" cy="556.3" r="2.7"/><circle cx="347.9" cy="556.3" r="2.7"/><circle cx="356.3" cy="556.3" r="2.7"/><circle cx="364.7" cy="556.3" r="2.7"/><circle cx="373.2" cy="556.3" r="2.7"/><circle cx="381.6" cy="556.3" r="2.7"/><circle cx="390.0" cy="556.3" r="2.7"/><circle cx="398.5" cy="556.3" r="2.7"/><circle cx="406.9" cy="556.3" r="2.7"/><circle cx="449.0" cy="556.3" r="2.7"/><circle cx="457.5" cy="556.3" r="2.7"/><circle cx="465.9" cy="556.3" r="2.7"/><circle cx="474.3" cy="556.3" r="2.7"/><circle cx="482.8" cy="556.3" r="2.7"/><circle cx="491.2" cy="556.3" r="2.7"/><circle cx="499.6" cy="556.3" r="2.7"/><circle cx="524.9" cy="556.3" r="2.7"/><circle cx="533.4" cy="556.3" r="2.7"/><circle cx="541.8" cy="556.3" r="2.7"/><circle cx="550.2" cy="556.3" r="2.7"/><circle cx="558.7" cy="556.3" r="2.7"/><circle cx="567.1" cy="556.3" r="2.7"/><circle cx="600.8" cy="556.3" r="2.7"/><circle cx="651.4" cy="556.3" r="2.7"/><circle cx="702.0" cy="556.3" r="2.7"/><circle cx="752.6" cy="556.3" r="2.7"/><circle cx="803.2" cy="556.3" r="2.7"/><circle cx="853.8" cy="556.3" r="2.7"/><circle cx="862.2" cy="556.3" r="2.7"/><circle cx="870.6" cy="556.3" r="2.7"/><circle cx="879.1" cy="556.3" r="2.7"/><circle cx="887.5" cy="556.3" r="2.7"/><circle cx="895.9" cy="556.3" r="2.7"/><circle cx="904.4" cy="556.3" r="2.7"/><circle cx="954.9" cy="556.3" r="2.7"/><circle cx="1005.5" cy="556.3" r="2.7"/><circle cx="1014.0" cy="556.3" r="2.7"/><circle cx="1022.4" cy="556.3" r="2.7"/><circle cx="1030.8" cy="556.3" r="2.7"/><circle cx="1039.3" cy="556.3" r="2.7"/><circle cx="1047.7" cy="556.3" r="2.7"/><circle cx="1056.1" cy="556.3" r="2.7"/><circle cx="1098.3" cy="556.3" r="2.7"/><circle cx="1106.7" cy="556.3" r="2.7"/><circle cx="1115.1" cy="556.3" r="2.7"/><circle cx="1123.6" cy="556.3" r="2.7"/><circle cx="1132.0" cy="556.3" r="2.7"/><circle cx="1140.4" cy="556.3" r="2.7"/><circle cx="1148.9" cy="556.3" r="2.7"/><circle cx="1157.3" cy="556.3" r="2.7"/><circle cx="145.5" cy="640.3" r="2.7"/><circle cx="196.1" cy="640.3" r="2.7"/><circle cx="238.2" cy="640.3" r="2.7"/><circle cx="246.7" cy="640.3" r="2.7"/><circle cx="255.1" cy="640.3" r="2.7"/><circle cx="263.5" cy="640.3" r="2.7"/><circle cx="272.0" cy="640.3" r="2.7"/><circle cx="280.4" cy="640.3" r="2.7"/><circle cx="297.3" cy="640.3" r="2.7"/><circle cx="339.4" cy="640.3" r="2.7"/><circle cx="347.9" cy="640.3" r="2.7"/><circle cx="356.3" cy="640.3" r="2.7"/><circle cx="364.7" cy="640.3" r="2.7"/><circle cx="373.2" cy="640.3" r="2.7"/><circle cx="381.6" cy="640.3" r="2.7"/><circle cx="398.5" cy="640.3" r="2.7"/><circle cx="415.3" cy="640.3" r="2.7"/><circle cx="423.7" cy="640.3" r="2.7"/><circle cx="432.2" cy="640.3" r="2.7"/><circle cx="440.6" cy="640.3" r="2.7"/><circle cx="449.0" cy="640.3" r="2.7"/><circle cx="457.5" cy="640.3" r="2.7"/><circle cx="465.9" cy="640.3" r="2.7"/><circle cx="474.3" cy="640.3" r="2.7"/><circle cx="482.8" cy="640.3" r="2.7"/><circle cx="499.6" cy="640.3" r="2.7"/><circle cx="516.5" cy="640.3" r="2.7"/><circle cx="524.9" cy="640.3" r="2.7"/><circle cx="533.4" cy="640.3" r="2.7"/><circle cx="541.8" cy="640.3" r="2.7"/><circle cx="550.2" cy="640.3" r="2.7"/><circle cx="558.7" cy="640.3" r="2.7"/><circle cx="567.1" cy="640.3" r="2.7"/><circle cx="600.8" cy="640.3" r="2.7"/><circle cx="651.4" cy="640.3" r="2.7"/><circle cx="702.0" cy="640.3" r="2.7"/><circle cx="752.6" cy="640.3" r="2.7"/><circle cx="803.2" cy="640.3" r="2.7"/><circle cx="836.9" cy="640.3" r="2.7"/><circle cx="845.3" cy="640.3" r="2.7"/><circle cx="853.8" cy="640.3" r="2.7"/><circle cx="862.2" cy="640.3" r="2.7"/><circle cx="870.6" cy="640.3" r="2.7"/><circle cx="879.1" cy="640.3" r="2.7"/><circle cx="904.4" cy="640.3" r="2.7"/><circle cx="954.9" cy="640.3" r="2.7"/><circle cx="1005.5" cy="640.3" r="2.7"/><circle cx="1014.0" cy="640.3" r="2.7"/><circle cx="1022.4" cy="640.3" r="2.7"/><circle cx="1030.8" cy="640.3" r="2.7"/><circle cx="1039.3" cy="640.3" r="2.7"/><circle cx="1047.7" cy="640.3" r="2.7"/><circle cx="1056.1" cy="640.3" r="2.7"/><circle cx="1064.6" cy="640.3" r="2.7"/><circle cx="1073.0" cy="640.3" r="2.7"/><circle cx="1081.4" cy="640.3" r="2.7"/><circle cx="1089.9" cy="640.3" r="2.7"/><circle cx="1098.3" cy="640.3" r="2.7"/><circle cx="1106.7" cy="640.3" r="2.7"/><circle cx="1115.1" cy="640.3" r="2.7"/><circle cx="1123.6" cy="640.3" r="2.7"/><circle cx="1157.3" cy="640.3" r="2.7"/><circle cx="145.5" cy="724.3" r="2.7"/><circle cx="196.1" cy="724.3" r="2.7"/><circle cx="213.0" cy="724.3" r="2.7"/><circle cx="221.4" cy="724.3" r="2.7"/><circle cx="229.8" cy="724.3" r="2.7"/><circle cx="238.2" cy="724.3" r="2.7"/><circle cx="246.7" cy="724.3" r="2.7"/><circle cx="255.1" cy="724.3" r="2.7"/><circle cx="263.5" cy="724.3" r="2.7"/><circle cx="297.3" cy="724.3" r="2.7"/><circle cx="305.7" cy="724.3" r="2.7"/><circle cx="314.1" cy="724.3" r="2.7"/><circle cx="322.6" cy="724.3" r="2.7"/><circle cx="331.0" cy="724.3" r="2.7"/><circle cx="339.4" cy="724.3" r="2.7"/><circle cx="347.9" cy="724.3" r="2.7"/><circle cx="356.3" cy="724.3" r="2.7"/><circle cx="364.7" cy="724.3" r="2.7"/><circle cx="373.2" cy="724.3" r="2.7"/><circle cx="381.6" cy="724.3" r="2.7"/><circle cx="390.0" cy="724.3" r="2.7"/><circle cx="398.5" cy="724.3" r="2.7"/><circle cx="406.9" cy="724.3" r="2.7"/><circle cx="440.6" cy="724.3" r="2.7"/><circle cx="449.0" cy="724.3" r="2.7"/><circle cx="457.5" cy="724.3" r="2.7"/><circle cx="465.9" cy="724.3" r="2.7"/><circle cx="491.2" cy="724.3" r="2.7"/><circle cx="499.6" cy="724.3" r="2.7"/><circle cx="508.1" cy="724.3" r="2.7"/><circle cx="516.5" cy="724.3" r="2.7"/><circle cx="524.9" cy="724.3" r="2.7"/><circle cx="533.4" cy="724.3" r="2.7"/><circle cx="541.8" cy="724.3" r="2.7"/><circle cx="550.2" cy="724.3" r="2.7"/><circle cx="558.7" cy="724.3" r="2.7"/><circle cx="567.1" cy="724.3" r="2.7"/><circle cx="575.5" cy="724.3" r="2.7"/><circle cx="600.8" cy="724.3" r="2.7"/><circle cx="617.7" cy="724.3" r="2.7"/><circle cx="626.1" cy="724.3" r="2.7"/><circle cx="634.5" cy="724.3" r="2.7"/><circle cx="643.0" cy="724.3" r="2.7"/><circle cx="651.4" cy="724.3" r="2.7"/><circle cx="659.8" cy="724.3" r="2.7"/><circle cx="702.0" cy="724.3" r="2.7"/><circle cx="752.6" cy="724.3" r="2.7"/><circle cx="786.3" cy="724.3" r="2.7"/><circle cx="794.7" cy="724.3" r="2.7"/><circle cx="803.2" cy="724.3" r="2.7"/><circle cx="811.6" cy="724.3" r="2.7"/><circle cx="820.0" cy="724.3" r="2.7"/><circle cx="828.5" cy="724.3" r="2.7"/><circle cx="853.8" cy="724.3" r="2.7"/><circle cx="904.4" cy="724.3" r="2.7"/><circle cx="938.1" cy="724.3" r="2.7"/><circle cx="946.5" cy="724.3" r="2.7"/><circle cx="954.9" cy="724.3" r="2.7"/><circle cx="963.4" cy="724.3" r="2.7"/><circle cx="971.8" cy="724.3" r="2.7"/><circle cx="980.2" cy="724.3" r="2.7"/><circle cx="988.7" cy="724.3" r="2.7"/><circle cx="997.1" cy="724.3" r="2.7"/><circle cx="1005.5" cy="724.3" r="2.7"/><circle cx="1022.4" cy="724.3" r="2.7"/><circle cx="1030.8" cy="724.3" r="2.7"/><circle cx="1039.3" cy="724.3" r="2.7"/><circle cx="1047.7" cy="724.3" r="2.7"/><circle cx="1056.1" cy="724.3" r="2.7"/><circle cx="1106.7" cy="724.3" r="2.7"/><circle cx="1115.1" cy="724.3" r="2.7"/><circle cx="1123.6" cy="724.3" r="2.7"/><circle cx="1132.0" cy="724.3" r="2.7"/><circle cx="1140.4" cy="724.3" r="2.7"/><circle cx="1157.3" cy="724.3" r="2.7"/><circle cx="145.5" cy="808.4" r="2.7"/><circle cx="196.1" cy="808.4" r="2.7"/><circle cx="213.0" cy="808.4" r="2.7"/><circle cx="221.4" cy="808.4" r="2.7"/><circle cx="229.8" cy="808.4" r="2.7"/><circle cx="238.2" cy="808.4" r="2.7"/><circle cx="246.7" cy="808.4" r="2.7"/><circle cx="255.1" cy="808.4" r="2.7"/><circle cx="263.5" cy="808.4" r="2.7"/><circle cx="297.3" cy="808.4" r="2.7"/><circle cx="305.7" cy="808.4" r="2.7"/><circle cx="314.1" cy="808.4" r="2.7"/><circle cx="322.6" cy="808.4" r="2.7"/><circle cx="331.0" cy="808.4" r="2.7"/><circle cx="339.4" cy="808.4" r="2.7"/><circle cx="347.9" cy="808.4" r="2.7"/><circle cx="356.3" cy="808.4" r="2.7"/><circle cx="364.7" cy="808.4" r="2.7"/><circle cx="373.2" cy="808.4" r="2.7"/><circle cx="381.6" cy="808.4" r="2.7"/><circle cx="390.0" cy="808.4" r="2.7"/><circle cx="398.5" cy="808.4" r="2.7"/><circle cx="440.6" cy="808.4" r="2.7"/><circle cx="449.0" cy="808.4" r="2.7"/><circle cx="457.5" cy="808.4" r="2.7"/><circle cx="465.9" cy="808.4" r="2.7"/><circle cx="491.2" cy="808.4" r="2.7"/><circle cx="499.6" cy="808.4" r="2.7"/><circle cx="508.1" cy="808.4" r="2.7"/><circle cx="516.5" cy="808.4" r="2.7"/><circle cx="524.9" cy="808.4" r="2.7"/><circle cx="533.4" cy="808.4" r="2.7"/><circle cx="541.8" cy="808.4" r="2.7"/><circle cx="550.2" cy="808.4" r="2.7"/><circle cx="558.7" cy="808.4" r="2.7"/><circle cx="567.1" cy="808.4" r="2.7"/><circle cx="575.5" cy="808.4" r="2.7"/><circle cx="600.8" cy="808.4" r="2.7"/><circle cx="617.7" cy="808.4" r="2.7"/><circle cx="626.1" cy="808.4" r="2.7"/><circle cx="634.5" cy="808.4" r="2.7"/><circle cx="643.0" cy="808.4" r="2.7"/><circle cx="651.4" cy="808.4" r="2.7"/><circle cx="659.8" cy="808.4" r="2.7"/><circle cx="702.0" cy="808.4" r="2.7"/><circle cx="752.6" cy="808.4" r="2.7"/><circle cx="786.3" cy="808.4" r="2.7"/><circle cx="794.7" cy="808.4" r="2.7"/><circle cx="803.2" cy="808.4" r="2.7"/><circle cx="811.6" cy="808.4" r="2.7"/><circle cx="820.0" cy="808.4" r="2.7"/><circle cx="828.5" cy="808.4" r="2.7"/><circle cx="853.8" cy="808.4" r="2.7"/><circle cx="904.4" cy="808.4" r="2.7"/><circle cx="938.1" cy="808.4" r="2.7"/><circle cx="946.5" cy="808.4" r="2.7"/><circle cx="954.9" cy="808.4" r="2.7"/><circle cx="963.4" cy="808.4" r="2.7"/><circle cx="971.8" cy="808.4" r="2.7"/><circle cx="980.2" cy="808.4" r="2.7"/><circle cx="988.7" cy="808.4" r="2.7"/><circle cx="997.1" cy="808.4" r="2.7"/><circle cx="1005.5" cy="808.4" r="2.7"/><circle cx="1022.4" cy="808.4" r="2.7"/><circle cx="1030.8" cy="808.4" r="2.7"/><circle cx="1039.3" cy="808.4" r="2.7"/><circle cx="1047.7" cy="808.4" r="2.7"/><circle cx="1056.1" cy="808.4" r="2.7"/><circle cx="1106.7" cy="808.4" r="2.7"/><circle cx="1115.1" cy="808.4" r="2.7"/><circle cx="1123.6" cy="808.4" r="2.7"/><circle cx="1132.0" cy="808.4" r="2.7"/><circle cx="1140.4" cy="808.4" r="2.7"/><circle cx="1157.3" cy="808.4" r="2.7"/><circle cx="145.5" cy="892.4" r="2.7"/><circle cx="196.1" cy="892.4" r="2.7"/><circle cx="204.5" cy="892.4" r="2.7"/><circle cx="213.0" cy="892.4" r="2.7"/><circle cx="221.4" cy="892.4" r="2.7"/><circle cx="229.8" cy="892.4" r="2.7"/><circle cx="238.2" cy="892.4" r="2.7"/><circle cx="246.7" cy="892.4" r="2.7"/><circle cx="288.8" cy="892.4" r="2.7"/><circle cx="297.3" cy="892.4" r="2.7"/><circle cx="305.7" cy="892.4" r="2.7"/><circle cx="314.1" cy="892.4" r="2.7"/><circle cx="322.6" cy="892.4" r="2.7"/><circle cx="331.0" cy="892.4" r="2.7"/><circle cx="339.4" cy="892.4" r="2.7"/><circle cx="347.9" cy="892.4" r="2.7"/><circle cx="356.3" cy="892.4" r="2.7"/><circle cx="364.7" cy="892.4" r="2.7"/><circle cx="373.2" cy="892.4" r="2.7"/><circle cx="381.6" cy="892.4" r="2.7"/><circle cx="398.5" cy="892.4" r="2.7"/><circle cx="423.7" cy="892.4" r="2.7"/><circle cx="432.2" cy="892.4" r="2.7"/><circle cx="440.6" cy="892.4" r="2.7"/><circle cx="449.0" cy="892.4" r="2.7"/><circle cx="491.2" cy="892.4" r="2.7"/><circle cx="499.6" cy="892.4" r="2.7"/><circle cx="508.1" cy="892.4" r="2.7"/><circle cx="516.5" cy="892.4" r="2.7"/><circle cx="524.9" cy="892.4" r="2.7"/><circle cx="533.4" cy="892.4" r="2.7"/><circle cx="541.8" cy="892.4" r="2.7"/><circle cx="550.2" cy="892.4" r="2.7"/><circle cx="558.7" cy="892.4" r="2.7"/><circle cx="567.1" cy="892.4" r="2.7"/><circle cx="600.8" cy="892.4" r="2.7"/><circle cx="626.1" cy="892.4" r="2.7"/><circle cx="634.5" cy="892.4" r="2.7"/><circle cx="643.0" cy="892.4" r="2.7"/><circle cx="651.4" cy="892.4" r="2.7"/><circle cx="659.8" cy="892.4" r="2.7"/><circle cx="702.0" cy="892.4" r="2.7"/><circle cx="752.6" cy="892.4" r="2.7"/><circle cx="761.0" cy="892.4" r="2.7"/><circle cx="769.4" cy="892.4" r="2.7"/><circle cx="777.9" cy="892.4" r="2.7"/><circle cx="786.3" cy="892.4" r="2.7"/><circle cx="794.7" cy="892.4" r="2.7"/><circle cx="803.2" cy="892.4" r="2.7"/><circle cx="853.8" cy="892.4" r="2.7"/><circle cx="904.4" cy="892.4" r="2.7"/><circle cx="912.8" cy="892.4" r="2.7"/><circle cx="921.2" cy="892.4" r="2.7"/><circle cx="929.6" cy="892.4" r="2.7"/><circle cx="938.1" cy="892.4" r="2.7"/><circle cx="946.5" cy="892.4" r="2.7"/><circle cx="954.9" cy="892.4" r="2.7"/><circle cx="963.4" cy="892.4" r="2.7"/><circle cx="971.8" cy="892.4" r="2.7"/><circle cx="980.2" cy="892.4" r="2.7"/><circle cx="1005.5" cy="892.4" r="2.7"/><circle cx="1014.0" cy="892.4" r="2.7"/><circle cx="1022.4" cy="892.4" r="2.7"/><circle cx="1030.8" cy="892.4" r="2.7"/><circle cx="1056.1" cy="892.4" r="2.7"/><circle cx="1073.0" cy="892.4" r="2.7"/><circle cx="1081.4" cy="892.4" r="2.7"/><circle cx="1089.9" cy="892.4" r="2.7"/><circle cx="1098.3" cy="892.4" r="2.7"/><circle cx="1106.7" cy="892.4" r="2.7"/><circle cx="1157.3" cy="892.4" r="2.7"/><circle cx="465.9" cy="253.8" r="2.7"/><circle cx="474.3" cy="253.8" r="2.7"/><circle cx="482.8" cy="253.8" r="2.7"/><circle cx="491.2" cy="253.8" r="2.7"/><circle cx="499.6" cy="253.8" r="2.7"/><circle cx="508.1" cy="253.8" r="2.7"/><circle cx="516.5" cy="253.8" r="2.7"/><circle cx="457.5" cy="270.6" r="2.7"/><circle cx="465.9" cy="270.6" r="2.7"/><circle cx="474.3" cy="270.6" r="2.7"/><circle cx="482.8" cy="270.6" r="2.7"/><circle cx="491.2" cy="270.6" r="2.7"/><circle cx="499.6" cy="270.6" r="2.7"/><circle cx="508.1" cy="270.6" r="2.7"/><circle cx="516.5" cy="270.6" r="2.7"/><circle cx="449.0" cy="287.4" r="2.7"/><circle cx="457.5" cy="287.4" r="2.7"/><circle cx="465.9" cy="287.4" r="2.7"/><circle cx="474.3" cy="287.4" r="2.7"/><circle cx="482.8" cy="287.4" r="2.7"/><circle cx="491.2" cy="287.4" r="2.7"/><circle cx="499.6" cy="287.4" r="2.7"/><circle cx="508.1" cy="287.4" r="2.7"/><circle cx="516.5" cy="287.4" r="2.7"/><circle cx="1014.0" cy="598.3" r="2.7"/><circle cx="1022.4" cy="598.3" r="2.7"/><circle cx="1030.8" cy="598.3" r="2.7"/><circle cx="1039.3" cy="598.3" r="2.7"/><circle cx="1047.7" cy="598.3" r="2.7"/><circle cx="1073.0" cy="598.3" r="2.7"/><circle cx="1081.4" cy="598.3" r="2.7"/><circle cx="1089.9" cy="598.3" r="2.7"/><circle cx="1098.3" cy="598.3" r="2.7"/><circle cx="1106.7" cy="598.3" r="2.7"/><circle cx="1115.1" cy="598.3" r="2.7"/><circle cx="1123.6" cy="598.3" r="2.7"/><circle cx="1132.0" cy="598.3" r="2.7"/><circle cx="1140.4" cy="598.3" r="2.7"/><circle cx="1157.3" cy="598.3" r="2.7"/><circle cx="1005.5" cy="615.1" r="2.7"/><circle cx="1014.0" cy="615.1" r="2.7"/><circle cx="1022.4" cy="615.1" r="2.7"/><circle cx="1030.8" cy="615.1" r="2.7"/><circle cx="1039.3" cy="615.1" r="2.7"/><circle cx="1047.7" cy="615.1" r="2.7"/><circle cx="1056.1" cy="615.1" r="2.7"/><circle cx="1064.6" cy="615.1" r="2.7"/><circle cx="1073.0" cy="615.1" r="2.7"/><circle cx="1081.4" cy="615.1" r="2.7"/><circle cx="1089.9" cy="615.1" r="2.7"/><circle cx="1098.3" cy="615.1" r="2.7"/><circle cx="1106.7" cy="615.1" r="2.7"/><circle cx="1115.1" cy="615.1" r="2.7"/><circle cx="1123.6" cy="615.1" r="2.7"/><circle cx="1132.0" cy="615.1" r="2.7"/><circle cx="1140.4" cy="615.1" r="2.7"/><circle cx="1157.3" cy="615.1" r="2.7"/><circle cx="1005.5" cy="631.9" r="2.7"/><circle cx="1014.0" cy="631.9" r="2.7"/><circle cx="1022.4" cy="631.9" r="2.7"/><circle cx="1030.8" cy="631.9" r="2.7"/><circle cx="1039.3" cy="631.9" r="2.7"/><circle cx="1047.7" cy="631.9" r="2.7"/><circle cx="1056.1" cy="631.9" r="2.7"/><circle cx="1064.6" cy="631.9" r="2.7"/><circle cx="1073.0" cy="631.9" r="2.7"/><circle cx="1081.4" cy="631.9" r="2.7"/><circle cx="1089.9" cy="631.9" r="2.7"/><circle cx="1098.3" cy="631.9" r="2.7"/><circle cx="1106.7" cy="631.9" r="2.7"/><circle cx="1115.1" cy="631.9" r="2.7"/><circle cx="1123.6" cy="631.9" r="2.7"/><circle cx="1132.0" cy="631.9" r="2.7"/><circle cx="1140.4" cy="631.9" r="2.7"/><circle cx="1157.3" cy="631.9" r="2.7"/><circle cx="1005.5" cy="648.7" r="2.7"/><circle cx="1014.0" cy="648.7" r="2.7"/><circle cx="1022.4" cy="648.7" r="2.7"/><circle cx="1030.8" cy="648.7" r="2.7"/><circle cx="1039.3" cy="648.7" r="2.7"/><circle cx="1047.7" cy="648.7" r="2.7"/><circle cx="1056.1" cy="648.7" r="2.7"/><circle cx="1064.6" cy="648.7" r="2.7"/><circle cx="1073.0" cy="648.7" r="2.7"/><circle cx="1081.4" cy="648.7" r="2.7"/><circle cx="1089.9" cy="648.7" r="2.7"/><circle cx="1098.3" cy="648.7" r="2.7"/><circle cx="1106.7" cy="648.7" r="2.7"/><circle cx="1115.1" cy="648.7" r="2.7"/><circle cx="1123.6" cy="648.7" r="2.7"/><circle cx="1140.4" cy="648.7" r="2.7"/><circle cx="1157.3" cy="648.7" r="2.7"/><circle cx="524.9" cy="657.1" r="2.7"/><circle cx="533.4" cy="657.1" r="2.7"/><circle cx="541.8" cy="657.1" r="2.7"/><circle cx="550.2" cy="657.1" r="2.7"/><circle cx="558.7" cy="657.1" r="2.7"/><circle cx="567.1" cy="657.1" r="2.7"/><circle cx="575.5" cy="657.1" r="2.7"/><circle cx="583.9" cy="657.1" r="2.7"/><circle cx="592.4" cy="657.1" r="2.7"/><circle cx="600.8" cy="657.1" r="2.7"/><circle cx="609.2" cy="657.1" r="2.7"/><circle cx="617.7" cy="657.1" r="2.7"/><circle cx="626.1" cy="657.1" r="2.7"/><circle cx="634.5" cy="657.1" r="2.7"/><circle cx="643.0" cy="657.1" r="2.7"/><circle cx="651.4" cy="657.1" r="2.7"/><circle cx="659.8" cy="657.1" r="2.7"/><circle cx="997.1" cy="665.5" r="2.7"/><circle cx="1005.5" cy="665.5" r="2.7"/><circle cx="1014.0" cy="665.5" r="2.7"/><circle cx="1022.4" cy="665.5" r="2.7"/><circle cx="1039.3" cy="665.5" r="2.7"/><circle cx="1047.7" cy="665.5" r="2.7"/><circle cx="1056.1" cy="665.5" r="2.7"/><circle cx="1064.6" cy="665.5" r="2.7"/><circle cx="1073.0" cy="665.5" r="2.7"/><circle cx="1081.4" cy="665.5" r="2.7"/><circle cx="1089.9" cy="665.5" r="2.7"/><circle cx="1098.3" cy="665.5" r="2.7"/><circle cx="1106.7" cy="665.5" r="2.7"/><circle cx="1115.1" cy="665.5" r="2.7"/><circle cx="1123.6" cy="665.5" r="2.7"/><circle cx="1132.0" cy="665.5" r="2.7"/><circle cx="1140.4" cy="665.5" r="2.7"/><circle cx="1157.3" cy="665.5" r="2.7"/><circle cx="988.7" cy="682.3" r="2.7"/><circle cx="997.1" cy="682.3" r="2.7"/><circle cx="1005.5" cy="682.3" r="2.7"/><circle cx="1014.0" cy="682.3" r="2.7"/><circle cx="1022.4" cy="682.3" r="2.7"/><circle cx="1030.8" cy="682.3" r="2.7"/><circle cx="1039.3" cy="682.3" r="2.7"/><circle cx="1047.7" cy="682.3" r="2.7"/><circle cx="1056.1" cy="682.3" r="2.7"/><circle cx="1064.6" cy="682.3" r="2.7"/><circle cx="1073.0" cy="682.3" r="2.7"/><circle cx="1081.4" cy="682.3" r="2.7"/><circle cx="1089.9" cy="682.3" r="2.7"/><circle cx="1098.3" cy="682.3" r="2.7"/><circle cx="1106.7" cy="682.3" r="2.7"/><circle cx="1115.1" cy="682.3" r="2.7"/><circle cx="1123.6" cy="682.3" r="2.7"/><circle cx="1132.0" cy="682.3" r="2.7"/><circle cx="1140.4" cy="682.3" r="2.7"/><circle cx="1157.3" cy="682.3" r="2.7"/><circle cx="1047.7" cy="741.1" r="2.7"/><circle cx="1056.1" cy="741.1" r="2.7"/><circle cx="1064.6" cy="741.1" r="2.7"/><circle cx="1073.0" cy="741.1" r="2.7"/><circle cx="1106.7" cy="741.1" r="2.7"/><circle cx="1115.1" cy="741.1" r="2.7"/><circle cx="1123.6" cy="741.1" r="2.7"/><circle cx="1132.0" cy="741.1" r="2.7"/><circle cx="1039.3" cy="758.0" r="2.7"/><circle cx="1047.7" cy="758.0" r="2.7"/><circle cx="1056.1" cy="758.0" r="2.7"/><circle cx="1064.6" cy="758.0" r="2.7"/><circle cx="1106.7" cy="758.0" r="2.7"/><circle cx="1115.1" cy="758.0" r="2.7"/><circle cx="1123.6" cy="758.0" r="2.7"/><circle cx="1132.0" cy="758.0" r="2.7"/><circle cx="1039.3" cy="774.8" r="2.7"/><circle cx="1047.7" cy="774.8" r="2.7"/><circle cx="1056.1" cy="774.8" r="2.7"/><circle cx="1064.6" cy="774.8" r="2.7"/><circle cx="1106.7" cy="774.8" r="2.7"/><circle cx="1115.1" cy="774.8" r="2.7"/><circle cx="1123.6" cy="774.8" r="2.7"/><circle cx="1132.0" cy="774.8" r="2.7"/><circle cx="1030.8" cy="791.6" r="2.7"/><circle cx="1039.3" cy="791.6" r="2.7"/><circle cx="1047.7" cy="791.6" r="2.7"/><circle cx="1056.1" cy="791.6" r="2.7"/><circle cx="1106.7" cy="791.6" r="2.7"/><circle cx="1115.1" cy="791.6" r="2.7"/><circle cx="1123.6" cy="791.6" r="2.7"/><circle cx="1132.0" cy="791.6" r="2.7"/><circle cx="1014.0" cy="825.2" r="2.7"/><circle cx="1022.4" cy="825.2" r="2.7"/><circle cx="1030.8" cy="825.2" r="2.7"/><circle cx="1039.3" cy="825.2" r="2.7"/><circle cx="1098.3" cy="825.2" r="2.7"/><circle cx="1106.7" cy="825.2" r="2.7"/><circle cx="1115.1" cy="825.2" r="2.7"/><circle cx="1123.6" cy="825.2" r="2.7"/><circle cx="1014.0" cy="842.0" r="2.7"/><circle cx="1022.4" cy="842.0" r="2.7"/><circle cx="1030.8" cy="842.0" r="2.7"/><circle cx="1039.3" cy="842.0" r="2.7"/><circle cx="1089.9" cy="842.0" r="2.7"/><circle cx="1098.3" cy="842.0" r="2.7"/><circle cx="1106.7" cy="842.0" r="2.7"/><circle cx="1115.1" cy="842.0" r="2.7"/><circle cx="1014.0" cy="858.8" r="2.7"/><circle cx="1022.4" cy="858.8" r="2.7"/><circle cx="1030.8" cy="858.8" r="2.7"/><circle cx="1039.3" cy="858.8" r="2.7"/><circle cx="1081.4" cy="858.8" r="2.7"/><circle cx="1089.9" cy="858.8" r="2.7"/><circle cx="1098.3" cy="858.8" r="2.7"/><circle cx="1106.7" cy="858.8" r="2.7"/><circle cx="1014.0" cy="875.6" r="2.7"/><circle cx="1022.4" cy="875.6" r="2.7"/><circle cx="1030.8" cy="875.6" r="2.7"/><circle cx="1039.3" cy="875.6" r="2.7"/><circle cx="1073.0" cy="875.6" r="2.7"/><circle cx="1081.4" cy="875.6" r="2.7"/><circle cx="1089.9" cy="875.6" r="2.7"/><circle cx="1098.3" cy="875.6" r="2.7"/></g>
<text x="133.1" y="62.6" font-size="29" text-anchor="end" font-weight="normal" font-style="normal" fill="#000" font-family="'Liberation Sans', sans-serif">3.0</text>
<text x="133.1" y="230.7" font-size="29" text-anchor="end" font-weight="normal" font-style="normal" fill="#000" font-family="'Liberation Sans', sans-serif">2.8</text>
<text x="133.1" y="398.7" font-size="29" text-anchor="end" font-weight="normal" font-style="normal" fill="#000" font-family="'Liberation Sans', sans-serif">2.6</text>
<text x="133.1" y="566.8" font-size="29" text-anchor="end" font-weight="normal" font-style="normal" fill="#000" font-family="'Liberation Sans', sans-serif">2.4</text>
<text x="133.1" y="734.8" font-size="29" text-anchor="end" font-weight="normal" font-style="normal" fill="#000" font-family="'Liberation Sans', sans-serif">2.2</text>
<text x="133.1" y="902.9" font-size="29" text-anchor="end" font-weight="normal" font-style="normal" fill="#000" font-family="'Liberation Sans', sans-serif">2.0</text>
<text x="145.5" y="926.0" font-size="29" text-anchor="middle" font-weight="normal" font-style="normal" fill="#000" font-family="'Liberation Sans', sans-serif">1.5</text>
<text x="398.5" y="926.0" font-size="29" text-anchor="middle" font-weight="normal" font-style="normal" fill="#000" font-family="'Liberation Sans', sans-serif">3.0</text>
<text x="651.4" y="926.0" font-size="29" text-anchor="middle" font-weight="normal" font-style="normal" fill="#000" font-family="'Liberation Sans', sans-serif">4.5</text>
<text x="904.4" y="926.0" font-size="29" text-anchor="middle" font-weight="normal" font-style="normal" fill="#000" font-family="'Liberation Sans', sans-serif">6.0</text>
<text x="1157.3" y="926.0" font-size="29" text-anchor="middle" font-weight="normal" font-style="normal" fill="#000" font-family="'Liberation Sans', sans-serif">7.5</text>
<text x="650.1" y="959.8" font-size="31" text-anchor="middle" font-weight="normal" font-style="italic" fill="#000" font-family="'Liberation Serif', 'DejaVu Serif', serif">ρ</text>
<text x="78.2" y="472.4" font-size="31" text-anchor="middle" font-weight="normal" font-style="italic" fill="#000" font-family="'Liberation Serif', 'DejaVu Serif', serif" transform="rotate(-90 78.2 472.4)">α</text>
<text x="191.7" y="350.6" font-size="29" text-anchor="start" font-weight="normal" font-style="normal" fill="#000" font-family="'Liberation Sans', sans-serif">Tri</text>
<text x="335.4" y="350.6" font-size="29" text-anchor="start" font-weight="normal" font-style="normal" fill="#000" font-family="'Liberation Sans', sans-serif">Sq</text>
<text x="698.2" y="350.6" font-size="29" text-anchor="start" font-weight="normal" font-style="normal" fill="#000" font-family="'Liberation Sans', sans-serif">Tri</text>
<text x="1072.4" y="350.6" font-size="29" text-anchor="start" font-weight="normal" font-style="normal" fill="#000" font-family="'Liberation Sans', sans-serif">Rho</text>
<text x="917.1" y="592.3" font-size="29" text-anchor="start" font-weight="normal" font-style="normal" fill="#000" font-family="'Liberation Sans', sans-serif">Sq</text>
<text x="430.0" y="874.7" font-size="29" text-anchor="start" font-weight="normal" font-style="normal" fill="#000" font-family="'Liberation Sans', sans-serif" transform="rotate(-90 430.0 874.7)">LSHon</text>
<text x="487.5" y="874.8" font-size="29" text-anchor="start" font-weight="normal" font-style="normal" fill="#000" font-family="'Liberation Sans', sans-serif" transform="rotate(-90 487.5 874.8)">Hon</text>
<text x="531.5" y="874.7" font-size="29" text-anchor="start" font-weight="normal" font-style="normal" fill="#000" font-family="'Liberation Sans', sans-serif" transform="rotate(-90 531.5 874.7)">Kite</text>
<text x="605.0" y="873.9" font-size="29" text-anchor="start" font-weight="normal" font-style="normal" fill="#000" font-family="'Liberation Sans', sans-serif" transform="rotate(-90 605.0 873.9)">Sig</text>
<text x="516.8" y="622.4" font-size="29" text-anchor="start" font-weight="normal" font-style="normal" fill="#000" font-family="'Liberation Sans', sans-serif" transform="rotate(-90 516.8 622.4)">Str</text>
<text x="1152.2" y="870.0" font-size="29" text-anchor="start" font-weight="normal" font-style="normal" fill="#000" font-family="'Liberation Sans', sans-serif" transform="rotate(-90 1152.2 870.0)">HSHon</text>
<text x="440.5" y="538.1" font-size="29" text-anchor="start" font-weight="normal" font-style="normal" fill="#ffdc32" font-family="'Liberation Sans', sans-serif" transform="rotate(-72.8 440.5 538.1)">DDQC</text>
<text x="1000.3" y="869.1" font-size="29" text-anchor="start" font-weight="normal" font-style="normal" fill="#ffee00" font-family="'Liberation Sans', sans-serif" transform="rotate(-70.5 1000.3 869.1)">OQC</text>
<text x="1070.9" y="870.8" font-size="29" text-anchor="start" font-weight="normal" font-style="normal" fill="#ffee00" font-family="'Liberation Sans', sans-serif" transform="rotate(-70.6 1070.9 870.8)">DDQC</text>
</g>
<text x="-0.6" y="30.9" font-size="42" text-anchor="start" font-weight="bold" font-style="normal" fill="#000" font-family="'Liberation Sans', sans-serif">a</text>
<text x="1190.6" y="30.9" font-size="42" text-anchor="start" font-weight="bold" font-style="normal" fill="#000" font-family="'Liberation Sans', sans-serif">b</text>
<text x="1190.4" y="537.5" font-size="42" text-anchor="start" font-weight="bold" font-style="normal" fill="#000" font-family="'Liberation Sans', sans-serif">c</text>
<text x="-1.1" y="1032.8" font-size="42" text-anchor="start" font-weight="bold" font-style="normal" fill="#000" font-family="'Liberation Sans', sans-serif">d</text>
<text x="426.5" y="1032.8" font-size="42" text-anchor="start" font-weight="bold" font-style="normal" fill="#000" font-family="'Liberation Sans', sans-serif">e</text>
<text x="852.3" y="1032.8" font-size="42" text-anchor="start" font-weight="bold" font-style="normal" fill="#000" font-family="'Liberation Sans', sans-serif">f</text>
<text x="1281.2" y="1023.8" font-size="42" text-anchor="start" font-weight="bold" font-style="normal" fill="#000" font-family="'Liberation Sans', sans-serif">g</text>
<g id="pb">
<path d="M1288.7 53.2V416.6H1650" stroke="#000" stroke-width="2" fill="none"/>
<path d="M1288.7 416.6v-9.5M1321.9 416.6v-5M1355.0 416.6v-9.5M1388.2 416.6v-5M1421.4 416.6v-9.5M1454.6 416.6v-5M1487.7 416.6v-9.5M1520.9 416.6v-5M1554.1 416.6v-9.5M1587.2 416.6v-5M1620.4 416.6v-9.5M1288.7 416.6h9.5M1288.7 382.9h4.5M1288.7 349.2h9.5M1288.7 315.6h4.5M1288.7 281.9h9.5M1288.7 248.2h4.5M1288.7 214.6h9.5M1288.7 180.9h4.5M1288.7 147.2h9.5M1288.7 113.5h4.5M1288.7 79.8h9.5" stroke="#000" stroke-width="1.8" fill="none"/>
<path d="M1288.7 192.1L1292.0 198.8L1295.3 205.3L1298.7 211.7L1302.0 218.0L1305.3 224.1L1308.6 230.1L1311.9 236.0L1315.2 241.8L1318.6 247.4L1321.9 252.9L1325.2 258.3L1328.5 263.6L1331.8 268.8L1335.1 273.8L1338.5 278.7L1341.8 283.5L1345.1 288.2L1348.4 292.8L1351.7 297.3L1355.0 301.7L1358.4 305.9L1361.7 310.1L1365.0 314.1L1368.3 318.0L1371.6 321.9L1374.9 325.6L1378.3 329.3L1381.6 332.8L1384.9 336.2L1388.2 339.6L1391.5 342.8L1394.8 346.0L1398.2 349.1L1401.5 352.1L1404.8 354.9L1408.1 357.7L1411.4 360.5L1414.7 363.1L1418.1 365.6L1421.4 368.1L1424.7 370.5L1428.0 372.8L1431.3 375.0L1434.6 377.2L1438.0 379.2L1441.3 381.2L1444.6 383.2L1447.9 385.0L1451.2 386.8L1454.5 388.5L1457.9 390.2L1461.2 391.8L1464.5 393.3L1467.8 394.7L1471.1 396.1L1474.5 397.5L1477.8 398.8L1481.1 400.0L1484.4 401.1L1487.7 402.2L1491.0 403.3L1494.4 404.3L1497.7 405.2L1501.0 406.1L1504.3 407.0L1507.6 407.8L1510.9 408.5L1514.3 409.2L1517.6 409.9L1520.9 410.5L1524.2 411.1L1527.5 411.7L1530.8 412.2L1534.2 412.7L1537.5 413.1L1540.8 413.5L1544.1 413.9L1547.4 414.2L1550.7 414.5L1554.1 414.8L1557.4 415.1L1560.7 415.3L1564.0 415.5L1567.3 415.7L1570.6 415.8L1574.0 416.0L1577.3 416.1L1580.6 416.2L1583.9 416.3L1587.2 416.4L1590.5 416.4L1593.9 416.5L1597.2 416.5L1600.5 416.6L1603.8 416.6L1607.1 416.6L1610.4 416.6L1613.8 416.6L1617.1 416.6L1620.4 416.6" stroke="#2e8b2e" stroke-width="1.4" fill="none"/>
<path d="M1288.7 147.2L1292.0 153.9L1295.3 160.5L1298.7 167.0L1302.0 173.3L1305.3 179.6L1308.6 185.8L1311.9 191.9L1315.2 197.9L1318.6 203.8L1321.9 209.6L1325.2 215.3L1328.5 220.9L1331.8 226.4L1335.1 231.8L1338.5 237.1L1341.8 242.4L1345.1 247.5L1348.4 252.6L1351.7 257.5L1355.0 262.4L1358.4 267.2L1361.7 271.8L1365.0 276.4L1368.3 280.9L1371.6 285.4L1374.9 289.7L1378.3 293.9L1381.6 298.1L1384.9 302.2L1388.2 306.2L1391.5 310.1L1394.8 313.9L1398.2 317.6L1401.5 321.3L1404.8 324.8L1408.1 328.3L1411.4 331.7L1414.7 335.1L1418.1 338.3L1421.4 341.5L1424.7 344.6L1428.0 347.6L1431.3 350.5L1434.6 353.4L1438.0 356.2L1441.3 358.9L1444.6 361.5L1447.9 364.1L1451.2 366.6L1454.5 369.0L1457.9 371.3L1461.2 373.6L1464.5 375.8L1467.8 377.9L1471.1 380.0L1474.5 382.0L1477.8 383.9L1481.1 385.8L1484.4 387.6L1487.7 389.3L1491.0 391.0L1494.4 392.6L1497.7 394.2L1501.0 395.7L1504.3 397.1L1507.6 398.4L1510.9 399.7L1514.3 401.0L1517.6 402.2L1520.9 403.3L1524.2 404.4L1527.5 405.4L1530.8 406.4L1534.2 407.3L1537.5 408.2L1540.8 409.0L1544.1 409.8L1547.4 410.5L1550.7 411.2L1554.1 411.8L1557.4 412.4L1560.7 412.9L1564.0 413.4L1567.3 413.8L1570.6 414.3L1574.0 414.6L1577.3 415.0L1580.6 415.3L1583.9 415.5L1587.2 415.7L1590.5 415.9L1593.9 416.1L1597.2 416.3L1600.5 416.4L1603.8 416.4L1607.1 416.5L1610.4 416.6L1613.8 416.6L1617.1 416.6L1620.4 416.6" stroke="#e03020" stroke-width="1.4" fill="none"/>
<path d="M1288.7 79.9L1292.0 86.6L1295.3 93.2L1298.7 99.8L1302.0 106.3L1305.3 112.7L1308.6 119.0L1311.9 125.3L1315.2 131.6L1318.6 137.7L1321.9 143.8L1325.2 149.9L1328.5 155.8L1331.8 161.7L1335.1 167.5L1338.5 173.3L1341.8 179.0L1345.1 184.6L1348.4 190.2L1351.7 195.7L1355.0 201.1L1358.4 206.4L1361.7 211.7L1365.0 216.9L1368.3 222.1L1371.6 227.2L1374.9 232.2L1378.3 237.1L1381.6 242.0L1384.9 246.8L1388.2 251.6L1391.5 256.3L1394.8 260.9L1398.2 265.4L1401.5 269.9L1404.8 274.3L1408.1 278.7L1411.4 282.9L1414.7 287.2L1418.1 291.3L1421.4 295.4L1424.7 299.4L1428.0 303.3L1431.3 307.2L1434.6 311.0L1438.0 314.7L1441.3 318.4L1444.6 322.0L1447.9 325.5L1451.2 329.0L1454.5 332.4L1457.9 335.7L1461.2 339.0L1464.5 342.2L1467.8 345.3L1471.1 348.4L1474.5 351.4L1477.8 354.3L1481.1 357.2L1484.4 360.0L1487.7 362.7L1491.0 365.4L1494.4 368.0L1497.7 370.5L1501.0 373.0L1504.3 375.3L1507.6 377.7L1510.9 379.9L1514.3 382.1L1517.6 384.2L1520.9 386.3L1524.2 388.3L1527.5 390.2L1530.8 392.1L1534.2 393.8L1537.5 395.6L1540.8 397.2L1544.1 398.8L1547.4 400.3L1550.7 401.7L1554.1 403.1L1557.4 404.4L1560.7 405.7L1564.0 406.9L1567.3 408.0L1570.6 409.0L1574.0 410.0L1577.3 410.9L1580.6 411.8L1583.9 412.5L1587.2 413.2L1590.5 413.9L1593.9 414.4L1597.2 414.9L1600.5 415.4L1603.8 415.8L1607.1 416.1L1610.4 416.3L1613.8 416.5L1617.1 416.6L1620.4 416.6" stroke="#000" stroke-width="1.4" fill="none"/>
<text x="1280.3" y="426.0" font-size="29" text-anchor="end" font-weight="normal" font-style="normal" fill="#000" font-family="'Liberation Sans', sans-serif">0.0</text>
<text x="1280.3" y="358.6" font-size="29" text-anchor="end" font-weight="normal" font-style="normal" fill="#000" font-family="'Liberation Sans', sans-serif">0.1</text>
<text x="1280.3" y="291.3" font-size="29" text-anchor="end" font-weight="normal" font-style="normal" fill="#000" font-family="'Liberation Sans', sans-serif">0.2</text>
<text x="1280.3" y="224.0" font-size="29" text-anchor="end" font-weight="normal" font-style="normal" fill="#000" font-family="'Liberation Sans', sans-serif">0.3</text>
<text x="1280.3" y="156.6" font-size="29" text-anchor="end" font-weight="normal" font-style="normal" fill="#000" font-family="'Liberation Sans', sans-serif">0.4</text>
<text x="1280.3" y="89.2" font-size="29" text-anchor="end" font-weight="normal" font-style="normal" fill="#000" font-family="'Liberation Sans', sans-serif">0.5</text>
<text x="1288.7" y="448.0" font-size="29" text-anchor="middle" font-weight="normal" font-style="normal" fill="#000" font-family="'Liberation Sans', sans-serif">0.0</text>
<text x="1355.0" y="448.0" font-size="29" text-anchor="middle" font-weight="normal" font-style="normal" fill="#000" font-family="'Liberation Sans', sans-serif">0.2</text>
<text x="1421.4" y="448.0" font-size="29" text-anchor="middle" font-weight="normal" font-style="normal" fill="#000" font-family="'Liberation Sans', sans-serif">0.4</text>
<text x="1487.7" y="448.0" font-size="29" text-anchor="middle" font-weight="normal" font-style="normal" fill="#000" font-family="'Liberation Sans', sans-serif">0.6</text>
<text x="1554.1" y="448.0" font-size="29" text-anchor="middle" font-weight="normal" font-style="normal" fill="#000" font-family="'Liberation Sans', sans-serif">0.8</text>
<text x="1620.4" y="448.0" font-size="29" text-anchor="middle" font-weight="normal" font-style="normal" fill="#000" font-family="'Liberation Sans', sans-serif">1.0</text>
<text x="1471.0" y="483.0" font-size="29" text-anchor="middle" font-weight="normal" font-style="italic" fill="#000" font-family="'Liberation Sans', sans-serif">r</text>
<text x="1215.5" y="239.0" font-size="29" text-anchor="middle" font-weight="normal" font-style="italic" fill="#000" font-family="'Liberation Sans', sans-serif" transform="rotate(-90 1215.5 239.0)">U(r)</text>
<path d="M1479.1 97.3H1520.9" stroke="#000" stroke-width="3.6"/>
<text x="1532" y="101.5" font-size="29" font-family="'Liberation Sans', sans-serif"><tspan font-family="'Liberation Serif', 'DejaVu Serif', serif" font-style="italic" font-size="28.5">α</tspan> = 2.0</text>
<path d="M1479.1 126.9H1520.9" stroke="#e6141e" stroke-width="3.6"/>
<text x="1532" y="133.4" font-size="29" font-family="'Liberation Sans', sans-serif"><tspan font-family="'Liberation Serif', 'DejaVu Serif', serif" font-style="italic" font-size="28.5">α</tspan> = 2.5</text>
<path d="M1479.1 158.3H1520.9" stroke="#1e7d1e" stroke-width="3.6"/>
<text x="1532" y="165.9" font-size="29" font-family="'Liberation Sans', sans-serif"><tspan font-family="'Liberation Serif', 'DejaVu Serif', serif" font-style="italic" font-size="28.5">α</tspan> = 3.0</text>
</g>
<g id="pc">
<rect x="1244.4" y="536.5" width="394.0" height="393.6" fill="#fff"/>
<path d="M1296.2 627.9 L1316.6 616.5 L1336.3 627.9 L1317.1 639.3Z" fill="#f2a9a9" stroke="#c8202e" stroke-width="2.3" stroke-linejoin="miter"/>
<path d="M1310.1 627.6L1323.1 627.4M1349.0 626.8L1362.0 626.5M1271.2 628.5L1284.2 628.2M1329.3 615.9L1342.3 615.6M1290.9 639.4L1303.9 639.1M1290.4 616.8L1303.4 616.5M1329.8 638.5L1342.8 638.2M1309.6 605.0L1322.6 604.7M1310.6 650.3L1323.6 650.0" stroke="#111" stroke-width="2.4" fill="none"/>
<g fill="#2aa83a" clip-path="url(#clc)"><circle cx="1243.2" cy="538.5" r="3.55"/><circle cx="1243.7" cy="561.2" r="3.55"/><circle cx="1249.8" cy="549.7" r="3.55"/><circle cx="1262.9" cy="549.4" r="3.55"/><circle cx="1269.0" cy="537.9" r="3.55"/><circle cx="1282.1" cy="537.6" r="3.55"/><circle cx="1244.2" cy="583.8" r="3.55"/><circle cx="1250.3" cy="572.4" r="3.55"/><circle cx="1263.4" cy="572.1" r="3.55"/><circle cx="1269.5" cy="560.6" r="3.55"/><circle cx="1282.6" cy="560.3" r="3.55"/><circle cx="1288.7" cy="548.8" r="3.55"/><circle cx="1301.8" cy="548.5" r="3.55"/><circle cx="1307.9" cy="537.0" r="3.55"/><circle cx="1321.0" cy="536.7" r="3.55"/><circle cx="1244.8" cy="606.5" r="3.55"/><circle cx="1250.9" cy="595.0" r="3.55"/><circle cx="1264.0" cy="594.7" r="3.55"/><circle cx="1270.1" cy="583.2" r="3.55"/><circle cx="1283.2" cy="582.9" r="3.55"/><circle cx="1289.3" cy="571.5" r="3.55"/><circle cx="1302.4" cy="571.2" r="3.55"/><circle cx="1308.5" cy="559.7" r="3.55"/><circle cx="1321.6" cy="559.4" r="3.55"/><circle cx="1327.7" cy="547.9" r="3.55"/><circle cx="1340.8" cy="547.6" r="3.55"/><circle cx="1346.9" cy="536.1" r="3.55"/><circle cx="1360.0" cy="535.8" r="3.55"/><circle cx="1245.3" cy="629.1" r="3.55"/><circle cx="1251.4" cy="617.7" r="3.55"/><circle cx="1264.5" cy="617.4" r="3.55"/><circle cx="1270.6" cy="605.9" r="3.55"/><circle cx="1283.7" cy="605.6" r="3.55"/><circle cx="1289.8" cy="594.1" r="3.55"/><circle cx="1302.9" cy="593.8" r="3.55"/><circle cx="1309.0" cy="582.3" r="3.55"/><circle cx="1322.1" cy="582.0" r="3.55"/><circle cx="1328.2" cy="570.5" r="3.55"/><circle cx="1341.3" cy="570.2" r="3.55"/><circle cx="1347.4" cy="558.8" r="3.55"/><circle cx="1360.5" cy="558.5" r="3.55"/><circle cx="1366.6" cy="547.0" r="3.55"/><circle cx="1379.7" cy="546.7" r="3.55"/><circle cx="1385.8" cy="535.2" r="3.55"/><circle cx="1398.9" cy="534.9" r="3.55"/><circle cx="1245.8" cy="651.8" r="3.55"/><circle cx="1251.9" cy="640.3" r="3.55"/><circle cx="1265.0" cy="640.0" r="3.55"/><circle cx="1271.1" cy="628.5" r="3.55"/><circle cx="1284.2" cy="628.2" r="3.55"/><circle cx="1290.3" cy="616.8" r="3.55"/><circle cx="1303.4" cy="616.5" r="3.55"/><circle cx="1309.5" cy="605.0" r="3.55"/><circle cx="1322.6" cy="604.7" r="3.55"/><circle cx="1328.7" cy="593.2" r="3.55"/><circle cx="1341.8" cy="592.9" r="3.55"/><circle cx="1347.9" cy="581.4" r="3.55"/><circle cx="1361.0" cy="581.1" r="3.55"/><circle cx="1367.1" cy="569.6" r="3.55"/><circle cx="1380.2" cy="569.4" r="3.55"/><circle cx="1386.3" cy="557.9" r="3.55"/><circle cx="1399.4" cy="557.6" r="3.55"/><circle cx="1405.5" cy="546.1" r="3.55"/><circle cx="1418.6" cy="545.8" r="3.55"/><circle cx="1424.7" cy="534.3" r="3.55"/><circle cx="1437.8" cy="534.0" r="3.55"/><circle cx="1246.3" cy="674.5" r="3.55"/><circle cx="1252.5" cy="663.0" r="3.55"/><circle cx="1265.5" cy="662.7" r="3.55"/><circle cx="1271.6" cy="651.2" r="3.55"/><circle cx="1284.7" cy="650.9" r="3.55"/><circle cx="1290.8" cy="639.4" r="3.55"/><circle cx="1303.9" cy="639.1" r="3.55"/><circle cx="1310.0" cy="627.6" r="3.55"/><circle cx="1323.1" cy="627.4" r="3.55"/><circle cx="1329.2" cy="615.9" r="3.55"/><circle cx="1342.3" cy="615.6" r="3.55"/><circle cx="1348.5" cy="604.1" r="3.55"/><circle cx="1361.5" cy="603.8" r="3.55"/><circle cx="1367.6" cy="592.3" r="3.55"/><circle cx="1380.7" cy="592.0" r="3.55"/><circle cx="1386.8" cy="580.5" r="3.55"/><circle cx="1399.9" cy="580.2" r="3.55"/><circle cx="1406.0" cy="568.8" r="3.55"/><circle cx="1419.1" cy="568.5" r="3.55"/><circle cx="1425.2" cy="557.0" r="3.55"/><circle cx="1438.3" cy="556.7" r="3.55"/><circle cx="1444.5" cy="545.2" r="3.55"/><circle cx="1457.5" cy="544.9" r="3.55"/><circle cx="1463.6" cy="533.4" r="3.55"/><circle cx="1476.7" cy="533.1" r="3.55"/><circle cx="1246.9" cy="697.1" r="3.55"/><circle cx="1253.0" cy="685.6" r="3.55"/><circle cx="1266.1" cy="685.4" r="3.55"/><circle cx="1272.2" cy="673.9" r="3.55"/><circle cx="1285.3" cy="673.6" r="3.55"/><circle cx="1291.4" cy="662.1" r="3.55"/><circle cx="1304.5" cy="661.8" r="3.55"/><circle cx="1310.6" cy="650.3" r="3.55"/><circle cx="1323.7" cy="650.0" r="3.55"/><circle cx="1329.8" cy="638.5" r="3.55"/><circle cx="1342.9" cy="638.2" r="3.55"/><circle cx="1349.0" cy="626.8" r="3.55"/><circle cx="1362.1" cy="626.5" r="3.55"/><circle cx="1368.2" cy="615.0" r="3.55"/><circle cx="1381.3" cy="614.7" r="3.55"/><circle cx="1387.4" cy="603.2" r="3.55"/><circle cx="1400.5" cy="602.9" r="3.55"/><circle cx="1406.6" cy="591.4" r="3.55"/><circle cx="1419.7" cy="591.1" r="3.55"/><circle cx="1425.8" cy="579.6" r="3.55"/><circle cx="1438.9" cy="579.3" r="3.55"/><circle cx="1445.0" cy="567.9" r="3.55"/><circle cx="1458.1" cy="567.6" r="3.55"/><circle cx="1464.2" cy="556.1" r="3.55"/><circle cx="1477.3" cy="555.8" r="3.55"/><circle cx="1483.4" cy="544.3" r="3.55"/><circle cx="1496.5" cy="544.0" r="3.55"/><circle cx="1247.4" cy="719.8" r="3.55"/><circle cx="1253.5" cy="708.3" r="3.55"/><circle cx="1266.6" cy="708.0" r="3.55"/><circle cx="1272.7" cy="696.5" r="3.55"/><circle cx="1285.8" cy="696.2" r="3.55"/><circle cx="1291.9" cy="684.8" r="3.55"/><circle cx="1305.0" cy="684.5" r="3.55"/><circle cx="1311.1" cy="673.0" r="3.55"/><circle cx="1324.2" cy="672.7" r="3.55"/><circle cx="1330.3" cy="661.2" r="3.55"/><circle cx="1343.4" cy="660.9" r="3.55"/><circle cx="1349.5" cy="649.4" r="3.55"/><circle cx="1362.6" cy="649.1" r="3.55"/><circle cx="1368.7" cy="637.6" r="3.55"/><circle cx="1381.8" cy="637.3" r="3.55"/><circle cx="1387.9" cy="625.9" r="3.55"/><circle cx="1401.0" cy="625.6" r="3.55"/><circle cx="1407.1" cy="614.1" r="3.55"/><circle cx="1420.2" cy="613.8" r="3.55"/><circle cx="1426.3" cy="602.3" r="3.55"/><circle cx="1439.4" cy="602.0" r="3.55"/><circle cx="1445.5" cy="590.5" r="3.55"/><circle cx="1458.6" cy="590.2" r="3.55"/><circle cx="1464.7" cy="578.7" r="3.55"/><circle cx="1477.8" cy="578.4" r="3.55"/><circle cx="1483.9" cy="567.0" r="3.55"/><circle cx="1497.0" cy="566.7" r="3.55"/><circle cx="1503.1" cy="555.2" r="3.55"/><circle cx="1516.2" cy="554.9" r="3.55"/><circle cx="1522.3" cy="543.4" r="3.55"/><circle cx="1535.4" cy="543.1" r="3.55"/><circle cx="1247.9" cy="742.4" r="3.55"/><circle cx="1254.0" cy="731.0" r="3.55"/><circle cx="1267.1" cy="730.7" r="3.55"/><circle cx="1273.2" cy="719.2" r="3.55"/><circle cx="1286.3" cy="718.9" r="3.55"/><circle cx="1292.4" cy="707.4" r="3.55"/><circle cx="1305.5" cy="707.1" r="3.55"/><circle cx="1311.6" cy="695.6" r="3.55"/><circle cx="1324.7" cy="695.3" r="3.55"/><circle cx="1330.8" cy="683.8" r="3.55"/><circle cx="1343.9" cy="683.5" r="3.55"/><circle cx="1350.0" cy="672.1" r="3.55"/><circle cx="1363.1" cy="671.8" r="3.55"/><circle cx="1369.2" cy="660.3" r="3.55"/><circle cx="1382.3" cy="660.0" r="3.55"/><circle cx="1388.4" cy="648.5" r="3.55"/><circle cx="1401.5" cy="648.2" r="3.55"/><circle cx="1407.6" cy="636.7" r="3.55"/><circle cx="1420.7" cy="636.4" r="3.55"/><circle cx="1426.8" cy="624.9" r="3.55"/><circle cx="1439.9" cy="624.6" r="3.55"/><circle cx="1446.0" cy="613.2" r="3.55"/><circle cx="1459.1" cy="612.9" r="3.55"/><circle cx="1465.2" cy="601.4" r="3.55"/><circle cx="1478.3" cy="601.1" r="3.55"/><circle cx="1484.4" cy="589.6" r="3.55"/><circle cx="1497.5" cy="589.3" r="3.55"/><circle cx="1503.6" cy="577.8" r="3.55"/><circle cx="1516.7" cy="577.5" r="3.55"/><circle cx="1522.8" cy="566.0" r="3.55"/><circle cx="1535.9" cy="565.8" r="3.55"/><circle cx="1542.0" cy="554.3" r="3.55"/><circle cx="1555.1" cy="554.0" r="3.55"/><circle cx="1561.2" cy="542.5" r="3.55"/><circle cx="1574.3" cy="542.2" r="3.55"/><circle cx="1248.5" cy="765.1" r="3.55"/><circle cx="1254.6" cy="753.6" r="3.55"/><circle cx="1267.7" cy="753.3" r="3.55"/><circle cx="1273.8" cy="741.8" r="3.55"/><circle cx="1286.9" cy="741.5" r="3.55"/><circle cx="1293.0" cy="730.1" r="3.55"/><circle cx="1306.1" cy="729.8" r="3.55"/><circle cx="1312.2" cy="718.3" r="3.55"/><circle cx="1325.3" cy="718.0" r="3.55"/><circle cx="1331.4" cy="706.5" r="3.55"/><circle cx="1344.5" cy="706.2" r="3.55"/><circle cx="1350.6" cy="694.7" r="3.55"/><circle cx="1363.7" cy="694.4" r="3.55"/><circle cx="1369.8" cy="682.9" r="3.55"/><circle cx="1382.9" cy="682.6" r="3.55"/><circle cx="1389.0" cy="671.2" r="3.55"/><circle cx="1402.1" cy="670.9" r="3.55"/><circle cx="1408.2" cy="659.4" r="3.55"/><circle cx="1421.3" cy="659.1" r="3.55"/><circle cx="1427.4" cy="647.6" r="3.55"/><circle cx="1440.5" cy="647.3" r="3.55"/><circle cx="1446.6" cy="635.8" r="3.55"/><circle cx="1459.7" cy="635.5" r="3.55"/><circle cx="1465.8" cy="624.0" r="3.55"/><circle cx="1478.9" cy="623.8" r="3.55"/><circle cx="1485.0" cy="612.3" r="3.55"/><circle cx="1498.1" cy="612.0" r="3.55"/><circle cx="1504.2" cy="600.5" r="3.55"/><circle cx="1517.3" cy="600.2" r="3.55"/><circle cx="1523.4" cy="588.7" r="3.55"/><circle cx="1536.5" cy="588.4" r="3.55"/><circle cx="1542.6" cy="576.9" r="3.55"/><circle cx="1555.7" cy="576.6" r="3.55"/><circle cx="1561.8" cy="565.1" r="3.55"/><circle cx="1574.9" cy="564.9" r="3.55"/><circle cx="1581.0" cy="553.4" r="3.55"/><circle cx="1594.1" cy="553.1" r="3.55"/><circle cx="1600.2" cy="541.6" r="3.55"/><circle cx="1613.3" cy="541.3" r="3.55"/><circle cx="1249.0" cy="787.8" r="3.55"/><circle cx="1255.1" cy="776.3" r="3.55"/><circle cx="1268.2" cy="776.0" r="3.55"/><circle cx="1274.3" cy="764.5" r="3.55"/><circle cx="1287.4" cy="764.2" r="3.55"/><circle cx="1293.5" cy="752.7" r="3.55"/><circle cx="1306.6" cy="752.4" r="3.55"/><circle cx="1312.7" cy="740.9" r="3.55"/><circle cx="1325.8" cy="740.6" r="3.55"/><circle cx="1331.9" cy="729.2" r="3.55"/><circle cx="1345.0" cy="728.9" r="3.55"/><circle cx="1351.1" cy="717.4" r="3.55"/><circle cx="1364.2" cy="717.1" r="3.55"/><circle cx="1370.3" cy="705.6" r="3.55"/><circle cx="1383.4" cy="705.3" r="3.55"/><circle cx="1389.5" cy="693.8" r="3.55"/><circle cx="1402.6" cy="693.5" r="3.55"/><circle cx="1408.7" cy="682.0" r="3.55"/><circle cx="1421.8" cy="681.8" r="3.55"/><circle cx="1427.9" cy="670.3" r="3.55"/><circle cx="1441.0" cy="670.0" r="3.55"/><circle cx="1447.1" cy="658.5" r="3.55"/><circle cx="1460.2" cy="658.2" r="3.55"/><circle cx="1466.3" cy="646.7" r="3.55"/><circle cx="1479.4" cy="646.4" r="3.55"/><circle cx="1485.5" cy="634.9" r="3.55"/><circle cx="1498.6" cy="634.6" r="3.55"/><circle cx="1504.7" cy="623.1" r="3.55"/><circle cx="1517.8" cy="622.9" r="3.55"/><circle cx="1523.9" cy="611.4" r="3.55"/><circle cx="1537.0" cy="611.1" r="3.55"/><circle cx="1543.1" cy="599.6" r="3.55"/><circle cx="1556.2" cy="599.3" r="3.55"/><circle cx="1562.3" cy="587.8" r="3.55"/><circle cx="1575.4" cy="587.5" r="3.55"/><circle cx="1581.5" cy="576.0" r="3.55"/><circle cx="1594.6" cy="575.7" r="3.55"/><circle cx="1600.7" cy="564.2" r="3.55"/><circle cx="1613.8" cy="564.0" r="3.55"/><circle cx="1619.9" cy="552.5" r="3.55"/><circle cx="1633.0" cy="552.2" r="3.55"/><circle cx="1639.1" cy="540.7" r="3.55"/><circle cx="1249.5" cy="810.4" r="3.55"/><circle cx="1255.6" cy="798.9" r="3.55"/><circle cx="1268.7" cy="798.6" r="3.55"/><circle cx="1274.8" cy="787.2" r="3.55"/><circle cx="1287.9" cy="786.9" r="3.55"/><circle cx="1294.0" cy="775.4" r="3.55"/><circle cx="1307.1" cy="775.1" r="3.55"/><circle cx="1313.2" cy="763.6" r="3.55"/><circle cx="1326.3" cy="763.3" r="3.55"/><circle cx="1332.4" cy="751.8" r="3.55"/><circle cx="1345.5" cy="751.5" r="3.55"/><circle cx="1351.6" cy="740.0" r="3.55"/><circle cx="1364.7" cy="739.8" r="3.55"/><circle cx="1370.8" cy="728.3" r="3.55"/><circle cx="1383.9" cy="728.0" r="3.55"/><circle cx="1390.0" cy="716.5" r="3.55"/><circle cx="1403.1" cy="716.2" r="3.55"/><circle cx="1409.2" cy="704.7" r="3.55"/><circle cx="1422.3" cy="704.4" r="3.55"/><circle cx="1428.4" cy="692.9" r="3.55"/><circle cx="1441.5" cy="692.6" r="3.55"/><circle cx="1447.6" cy="681.1" r="3.55"/><circle cx="1460.7" cy="680.9" r="3.55"/><circle cx="1466.8" cy="669.4" r="3.55"/><circle cx="1479.9" cy="669.1" r="3.55"/><circle cx="1486.0" cy="657.6" r="3.55"/><circle cx="1499.1" cy="657.3" r="3.55"/><circle cx="1505.2" cy="645.8" r="3.55"/><circle cx="1518.3" cy="645.5" r="3.55"/><circle cx="1524.4" cy="634.0" r="3.55"/><circle cx="1537.5" cy="633.7" r="3.55"/><circle cx="1543.6" cy="622.2" r="3.55"/><circle cx="1556.7" cy="622.0" r="3.55"/><circle cx="1562.8" cy="610.5" r="3.55"/><circle cx="1575.9" cy="610.2" r="3.55"/><circle cx="1582.0" cy="598.7" r="3.55"/><circle cx="1595.1" cy="598.4" r="3.55"/><circle cx="1601.2" cy="586.9" r="3.55"/><circle cx="1614.3" cy="586.6" r="3.55"/><circle cx="1620.4" cy="575.1" r="3.55"/><circle cx="1633.5" cy="574.8" r="3.55"/><circle cx="1639.6" cy="563.4" r="3.55"/><circle cx="1250.1" cy="833.1" r="3.55"/><circle cx="1256.2" cy="821.6" r="3.55"/><circle cx="1269.3" cy="821.3" r="3.55"/><circle cx="1275.4" cy="809.8" r="3.55"/><circle cx="1288.5" cy="809.5" r="3.55"/><circle cx="1294.6" cy="798.1" r="3.55"/><circle cx="1307.7" cy="797.8" r="3.55"/><circle cx="1313.8" cy="786.3" r="3.55"/><circle cx="1326.9" cy="786.0" r="3.55"/><circle cx="1333.0" cy="774.5" r="3.55"/><circle cx="1346.1" cy="774.2" r="3.55"/><circle cx="1352.2" cy="762.7" r="3.55"/><circle cx="1365.3" cy="762.4" r="3.55"/><circle cx="1371.4" cy="750.9" r="3.55"/><circle cx="1384.5" cy="750.6" r="3.55"/><circle cx="1390.6" cy="739.1" r="3.55"/><circle cx="1403.7" cy="738.9" r="3.55"/><circle cx="1409.8" cy="727.4" r="3.55"/><circle cx="1448.2" cy="703.8" r="3.55"/><circle cx="1461.3" cy="703.5" r="3.55"/><circle cx="1467.4" cy="692.0" r="3.55"/><circle cx="1480.5" cy="691.7" r="3.55"/><circle cx="1486.6" cy="680.2" r="3.55"/><circle cx="1499.7" cy="680.0" r="3.55"/><circle cx="1505.8" cy="668.5" r="3.55"/><circle cx="1518.9" cy="668.2" r="3.55"/><circle cx="1525.0" cy="656.7" r="3.55"/><circle cx="1538.1" cy="656.4" r="3.55"/><circle cx="1544.2" cy="644.9" r="3.55"/><circle cx="1557.3" cy="644.6" r="3.55"/><circle cx="1563.4" cy="633.1" r="3.55"/><circle cx="1576.5" cy="632.8" r="3.55"/><circle cx="1582.6" cy="621.4" r="3.55"/><circle cx="1595.7" cy="621.1" r="3.55"/><circle cx="1601.8" cy="609.6" r="3.55"/><circle cx="1614.9" cy="609.3" r="3.55"/><circle cx="1621.0" cy="597.8" r="3.55"/><circle cx="1634.1" cy="597.5" r="3.55"/><circle cx="1640.2" cy="586.0" r="3.55"/><circle cx="1250.6" cy="855.8" r="3.55"/><circle cx="1256.7" cy="844.3" r="3.55"/><circle cx="1269.8" cy="844.0" r="3.55"/><circle cx="1275.9" cy="832.5" r="3.55"/><circle cx="1289.0" cy="832.2" r="3.55"/><circle cx="1295.1" cy="820.7" r="3.55"/><circle cx="1308.2" cy="820.4" r="3.55"/><circle cx="1314.3" cy="808.9" r="3.55"/><circle cx="1327.4" cy="808.6" r="3.55"/><circle cx="1333.5" cy="797.1" r="3.55"/><circle cx="1346.6" cy="796.9" r="3.55"/><circle cx="1352.7" cy="785.4" r="3.55"/><circle cx="1365.8" cy="785.1" r="3.55"/><circle cx="1371.9" cy="773.6" r="3.55"/><circle cx="1385.0" cy="773.3" r="3.55"/><circle cx="1391.1" cy="761.8" r="3.55"/><circle cx="1404.2" cy="761.5" r="3.55"/><circle cx="1410.3" cy="750.0" r="3.55"/><circle cx="1487.1" cy="702.9" r="3.55"/><circle cx="1500.2" cy="702.6" r="3.55"/><circle cx="1506.3" cy="691.1" r="3.55"/><circle cx="1519.4" cy="690.8" r="3.55"/><circle cx="1525.5" cy="679.3" r="3.55"/><circle cx="1538.6" cy="679.0" r="3.55"/><circle cx="1544.7" cy="667.6" r="3.55"/><circle cx="1557.8" cy="667.3" r="3.55"/><circle cx="1563.9" cy="655.8" r="3.55"/><circle cx="1577.0" cy="655.5" r="3.55"/><circle cx="1583.1" cy="644.0" r="3.55"/><circle cx="1596.2" cy="643.7" r="3.55"/><circle cx="1602.3" cy="632.2" r="3.55"/><circle cx="1615.4" cy="631.9" r="3.55"/><circle cx="1621.5" cy="620.4" r="3.55"/><circle cx="1634.6" cy="620.1" r="3.55"/><circle cx="1640.7" cy="608.7" r="3.55"/><circle cx="1251.1" cy="878.4" r="3.55"/><circle cx="1257.2" cy="866.9" r="3.55"/><circle cx="1270.3" cy="866.6" r="3.55"/><circle cx="1276.4" cy="855.1" r="3.55"/><circle cx="1289.5" cy="854.9" r="3.55"/><circle cx="1295.6" cy="843.4" r="3.55"/><circle cx="1308.7" cy="843.1" r="3.55"/><circle cx="1314.8" cy="831.6" r="3.55"/><circle cx="1327.9" cy="831.3" r="3.55"/><circle cx="1334.0" cy="819.8" r="3.55"/><circle cx="1347.1" cy="819.5" r="3.55"/><circle cx="1353.2" cy="808.0" r="3.55"/><circle cx="1366.3" cy="807.7" r="3.55"/><circle cx="1372.4" cy="796.2" r="3.55"/><circle cx="1385.5" cy="795.9" r="3.55"/><circle cx="1391.6" cy="784.5" r="3.55"/><circle cx="1404.7" cy="784.2" r="3.55"/><circle cx="1410.8" cy="772.7" r="3.55"/><circle cx="1526.0" cy="702.0" r="3.55"/><circle cx="1539.1" cy="701.7" r="3.55"/><circle cx="1545.2" cy="690.2" r="3.55"/><circle cx="1558.3" cy="689.9" r="3.55"/><circle cx="1564.4" cy="678.4" r="3.55"/><circle cx="1577.5" cy="678.1" r="3.55"/><circle cx="1583.6" cy="666.7" r="3.55"/><circle cx="1596.7" cy="666.4" r="3.55"/><circle cx="1602.8" cy="654.9" r="3.55"/><circle cx="1615.9" cy="654.6" r="3.55"/><circle cx="1622.0" cy="643.1" r="3.55"/><circle cx="1635.1" cy="642.8" r="3.55"/><circle cx="1641.2" cy="631.3" r="3.55"/><circle cx="1251.6" cy="901.1" r="3.55"/><circle cx="1257.8" cy="889.6" r="3.55"/><circle cx="1270.8" cy="889.3" r="3.55"/><circle cx="1277.0" cy="877.8" r="3.55"/><circle cx="1290.0" cy="877.5" r="3.55"/><circle cx="1296.1" cy="866.0" r="3.55"/><circle cx="1309.2" cy="865.7" r="3.55"/><circle cx="1315.3" cy="854.2" r="3.55"/><circle cx="1328.4" cy="854.0" r="3.55"/><circle cx="1334.5" cy="842.5" r="3.55"/><circle cx="1347.6" cy="842.2" r="3.55"/><circle cx="1353.8" cy="830.7" r="3.55"/><circle cx="1366.8" cy="830.4" r="3.55"/><circle cx="1373.0" cy="818.9" r="3.55"/><circle cx="1386.0" cy="818.6" r="3.55"/><circle cx="1392.1" cy="807.1" r="3.55"/><circle cx="1405.2" cy="806.8" r="3.55"/><circle cx="1411.3" cy="795.4" r="3.55"/><circle cx="1564.9" cy="701.1" r="3.55"/><circle cx="1578.0" cy="700.8" r="3.55"/><circle cx="1584.1" cy="689.3" r="3.55"/><circle cx="1597.2" cy="689.0" r="3.55"/><circle cx="1603.3" cy="677.5" r="3.55"/><circle cx="1616.4" cy="677.2" r="3.55"/><circle cx="1622.5" cy="665.8" r="3.55"/><circle cx="1635.6" cy="665.5" r="3.55"/><circle cx="1641.8" cy="654.0" r="3.55"/><circle cx="1252.2" cy="923.7" r="3.55"/><circle cx="1258.3" cy="912.2" r="3.55"/><circle cx="1271.4" cy="912.0" r="3.55"/><circle cx="1277.5" cy="900.5" r="3.55"/><circle cx="1290.6" cy="900.2" r="3.55"/><circle cx="1296.7" cy="888.7" r="3.55"/><circle cx="1309.8" cy="888.4" r="3.55"/><circle cx="1315.9" cy="876.9" r="3.55"/><circle cx="1329.0" cy="876.6" r="3.55"/><circle cx="1335.1" cy="865.1" r="3.55"/><circle cx="1348.2" cy="864.8" r="3.55"/><circle cx="1354.3" cy="853.4" r="3.55"/><circle cx="1367.4" cy="853.1" r="3.55"/><circle cx="1373.5" cy="841.6" r="3.55"/><circle cx="1386.6" cy="841.3" r="3.55"/><circle cx="1392.7" cy="829.8" r="3.55"/><circle cx="1405.8" cy="829.5" r="3.55"/><circle cx="1411.9" cy="818.0" r="3.55"/><circle cx="1603.9" cy="700.2" r="3.55"/><circle cx="1617.0" cy="699.9" r="3.55"/><circle cx="1623.1" cy="688.4" r="3.55"/><circle cx="1636.2" cy="688.1" r="3.55"/><circle cx="1278.0" cy="923.1" r="3.55"/><circle cx="1291.1" cy="922.8" r="3.55"/><circle cx="1297.2" cy="911.4" r="3.55"/><circle cx="1310.3" cy="911.1" r="3.55"/><circle cx="1316.4" cy="899.6" r="3.55"/><circle cx="1329.5" cy="899.3" r="3.55"/><circle cx="1335.6" cy="887.8" r="3.55"/><circle cx="1348.7" cy="887.5" r="3.55"/><circle cx="1354.8" cy="876.0" r="3.55"/><circle cx="1367.9" cy="875.7" r="3.55"/><circle cx="1374.0" cy="864.2" r="3.55"/><circle cx="1387.1" cy="863.9" r="3.55"/><circle cx="1393.2" cy="852.5" r="3.55"/><circle cx="1406.3" cy="852.2" r="3.55"/><circle cx="1412.4" cy="840.7" r="3.55"/><circle cx="1316.9" cy="922.2" r="3.55"/><circle cx="1330.0" cy="921.9" r="3.55"/><circle cx="1336.1" cy="910.4" r="3.55"/><circle cx="1349.2" cy="910.1" r="3.55"/><circle cx="1355.3" cy="898.7" r="3.55"/><circle cx="1368.4" cy="898.4" r="3.55"/><circle cx="1374.5" cy="886.9" r="3.55"/><circle cx="1387.6" cy="886.6" r="3.55"/><circle cx="1393.7" cy="875.1" r="3.55"/><circle cx="1406.8" cy="874.8" r="3.55"/><circle cx="1412.9" cy="863.3" r="3.55"/><circle cx="1336.7" cy="933.1" r="3.55"/><circle cx="1349.8" cy="932.8" r="3.55"/><circle cx="1355.9" cy="921.3" r="3.55"/><circle cx="1369.0" cy="921.0" r="3.55"/><circle cx="1375.1" cy="909.5" r="3.55"/><circle cx="1388.2" cy="909.2" r="3.55"/><circle cx="1394.3" cy="897.8" r="3.55"/><circle cx="1407.4" cy="897.5" r="3.55"/><circle cx="1413.5" cy="886.0" r="3.55"/><circle cx="1375.6" cy="932.2" r="3.55"/><circle cx="1388.7" cy="931.9" r="3.55"/><circle cx="1394.8" cy="920.4" r="3.55"/><circle cx="1407.9" cy="920.1" r="3.55"/><circle cx="1414.0" cy="908.6" r="3.55"/><circle cx="1414.5" cy="931.3" r="3.55"/></g>
<g clip-path="url(#cic)">
<rect x="1413.2" y="705.7" width="219.5999999999999" height="219.29999999999995" fill="url(#rgc)"/>
<g fill="url(#spot)"><circle cx="1413.7" cy="707.7" r="6" opacity="1.00"/><circle cx="1415.9" cy="782.0" r="6" opacity="1.00"/><circle cx="1436.0" cy="744.1" r="6" opacity="1.00"/><circle cx="1456.1" cy="706.2" r="6" opacity="1.00"/><circle cx="1418.1" cy="856.3" r="6" opacity="1.00"/><circle cx="1438.2" cy="818.4" r="6" opacity="1.00"/><circle cx="1458.3" cy="780.5" r="6" opacity="1.00"/><circle cx="1478.4" cy="742.6" r="6" opacity="1.00"/><circle cx="1498.5" cy="704.7" r="6" opacity="1.00"/><circle cx="1420.3" cy="930.6" r="6" opacity="1.00"/><circle cx="1440.4" cy="892.7" r="6" opacity="1.00"/><circle cx="1460.5" cy="854.8" r="6" opacity="1.00"/><circle cx="1480.6" cy="816.9" r="6" opacity="0.81"/><circle cx="1500.7" cy="779.0" r="6" opacity="0.81"/><circle cx="1520.8" cy="741.1" r="6" opacity="1.00"/><circle cx="1540.9" cy="703.2" r="6" opacity="1.00"/><circle cx="1462.7" cy="929.1" r="6" opacity="1.00"/><circle cx="1482.8" cy="891.2" r="6" opacity="1.00"/><circle cx="1502.9" cy="853.3" r="6" opacity="0.81"/><circle cx="1543.1" cy="777.5" r="6" opacity="0.81"/><circle cx="1563.2" cy="739.6" r="6" opacity="1.00"/><circle cx="1583.3" cy="701.7" r="6" opacity="1.00"/><circle cx="1505.1" cy="927.6" r="6" opacity="1.00"/><circle cx="1525.2" cy="889.7" r="6" opacity="1.00"/><circle cx="1545.3" cy="851.8" r="6" opacity="0.81"/><circle cx="1565.4" cy="813.9" r="6" opacity="0.81"/><circle cx="1585.5" cy="776.0" r="6" opacity="1.00"/><circle cx="1605.6" cy="738.1" r="6" opacity="1.00"/><circle cx="1625.7" cy="700.2" r="6" opacity="1.00"/><circle cx="1547.5" cy="926.1" r="6" opacity="1.00"/><circle cx="1567.6" cy="888.2" r="6" opacity="1.00"/><circle cx="1587.7" cy="850.3" r="6" opacity="1.00"/><circle cx="1607.8" cy="812.4" r="6" opacity="1.00"/><circle cx="1627.9" cy="774.5" r="6" opacity="1.00"/><circle cx="1589.9" cy="924.6" r="6" opacity="1.00"/><circle cx="1610.0" cy="886.7" r="6" opacity="1.00"/><circle cx="1630.1" cy="848.8" r="6" opacity="1.00"/><circle cx="1632.3" cy="923.1" r="6" opacity="1.00"/></g>
</g>
<rect x="1244.4" y="536.5" width="394.0" height="393.6" fill="none" stroke="#000" stroke-width="2.5"/>
<rect x="1270.2" y="563.6500000000001" width="24" height="6.1" fill="#9b5e2a"/>
<text x="1283.2" y="558.5" font-size="26" text-anchor="middle" font-weight="normal" font-style="italic" fill="#8a4a1c" font-family="'Liberation Serif', 'DejaVu Serif', serif">σ</text>
<text x="1563.7" y="576.2" font-size="29" text-anchor="start" font-weight="normal" font-style="normal" fill="#000" font-family="'Liberation Sans', sans-serif">Hon</text>
</g>
<g id="pd">
<rect x="0.6" y="1055.9" width="394.4" height="394.0999999999999" fill="#fff"/>
<path d="M109.7 1134.9 L149.2 1134.9 L166.8 1171.5 L126.9 1171.5Z" fill="#f2a9a9" stroke="#c8202e" stroke-width="2.3" stroke-linejoin="miter"/>
<path d="M90.6 1133.1L117.6 1119.6L115.0 1149.4ZM130.1 1135.1L157.1 1121.6L154.5 1151.4ZM108.3 1168.6L135.3 1155.1L132.7 1184.9ZM147.8 1170.6L174.8 1157.1L172.2 1186.9ZM130.1 1135.1" stroke="#111" stroke-width="2.4" fill="none"/>
<g fill="#2aa83a" clip-path="url(#cld)"><circle cx="0.4" cy="1425.1" r="3.55"/><circle cx="0.4" cy="1440.2" r="3.55"/><circle cx="4.5" cy="1356.1" r="3.55"/><circle cx="4.5" cy="1371.2" r="3.55"/><circle cx="1.9" cy="1385.9" r="3.55"/><circle cx="8.2" cy="1397.3" r="3.55"/><circle cx="22.2" cy="1391.6" r="3.55"/><circle cx="22.2" cy="1406.7" r="3.55"/><circle cx="19.6" cy="1421.4" r="3.55"/><circle cx="6.9" cy="1414.4" r="3.55"/><circle cx="12.9" cy="1440.6" r="3.55"/><circle cx="25.9" cy="1432.8" r="3.55"/><circle cx="39.9" cy="1427.1" r="3.55"/><circle cx="39.9" cy="1442.2" r="3.55"/><circle cx="24.6" cy="1449.9" r="3.55"/><circle cx="8.6" cy="1287.1" r="3.55"/><circle cx="8.6" cy="1302.2" r="3.55"/><circle cx="6.0" cy="1316.9" r="3.55"/><circle cx="-0.7" cy="1336.1" r="3.55"/><circle cx="12.3" cy="1328.3" r="3.55"/><circle cx="26.3" cy="1322.6" r="3.55"/><circle cx="26.3" cy="1337.7" r="3.55"/><circle cx="23.7" cy="1352.4" r="3.55"/><circle cx="11.0" cy="1345.4" r="3.55"/><circle cx="17.0" cy="1371.6" r="3.55"/><circle cx="30.0" cy="1363.8" r="3.55"/><circle cx="44.0" cy="1358.1" r="3.55"/><circle cx="44.0" cy="1373.2" r="3.55"/><circle cx="41.4" cy="1387.9" r="3.55"/><circle cx="28.7" cy="1380.9" r="3.55"/><circle cx="34.7" cy="1407.1" r="3.55"/><circle cx="47.7" cy="1399.3" r="3.55"/><circle cx="61.7" cy="1393.6" r="3.55"/><circle cx="61.7" cy="1408.7" r="3.55"/><circle cx="59.1" cy="1423.4" r="3.55"/><circle cx="46.4" cy="1416.4" r="3.55"/><circle cx="52.4" cy="1442.6" r="3.55"/><circle cx="65.4" cy="1434.8" r="3.55"/><circle cx="79.4" cy="1429.1" r="3.55"/><circle cx="79.4" cy="1444.2" r="3.55"/><circle cx="64.1" cy="1451.9" r="3.55"/><circle cx="-1.3" cy="1223.8" r="3.55"/><circle cx="12.7" cy="1218.1" r="3.55"/><circle cx="12.7" cy="1233.2" r="3.55"/><circle cx="10.1" cy="1247.9" r="3.55"/><circle cx="-2.6" cy="1240.9" r="3.55"/><circle cx="3.4" cy="1267.1" r="3.55"/><circle cx="16.4" cy="1259.3" r="3.55"/><circle cx="30.4" cy="1253.6" r="3.55"/><circle cx="30.4" cy="1268.7" r="3.55"/><circle cx="27.8" cy="1283.4" r="3.55"/><circle cx="15.1" cy="1276.4" r="3.55"/><circle cx="21.1" cy="1302.6" r="3.55"/><circle cx="34.1" cy="1294.8" r="3.55"/><circle cx="48.1" cy="1289.1" r="3.55"/><circle cx="48.1" cy="1304.2" r="3.55"/><circle cx="45.5" cy="1318.9" r="3.55"/><circle cx="32.8" cy="1311.9" r="3.55"/><circle cx="38.8" cy="1338.1" r="3.55"/><circle cx="51.8" cy="1330.3" r="3.55"/><circle cx="65.8" cy="1324.6" r="3.55"/><circle cx="65.8" cy="1339.7" r="3.55"/><circle cx="63.2" cy="1354.4" r="3.55"/><circle cx="50.5" cy="1347.4" r="3.55"/><circle cx="56.5" cy="1373.6" r="3.55"/><circle cx="69.5" cy="1365.8" r="3.55"/><circle cx="83.5" cy="1360.1" r="3.55"/><circle cx="83.5" cy="1375.2" r="3.55"/><circle cx="80.9" cy="1389.9" r="3.55"/><circle cx="68.2" cy="1382.9" r="3.55"/><circle cx="74.2" cy="1409.1" r="3.55"/><circle cx="87.2" cy="1401.3" r="3.55"/><circle cx="101.2" cy="1395.6" r="3.55"/><circle cx="101.2" cy="1410.7" r="3.55"/><circle cx="98.6" cy="1425.4" r="3.55"/><circle cx="85.9" cy="1418.4" r="3.55"/><circle cx="91.9" cy="1444.6" r="3.55"/><circle cx="104.9" cy="1436.8" r="3.55"/><circle cx="118.9" cy="1431.1" r="3.55"/><circle cx="118.9" cy="1446.2" r="3.55"/><circle cx="-0.9" cy="1113.6" r="3.55"/><circle cx="-0.9" cy="1128.7" r="3.55"/><circle cx="2.8" cy="1154.8" r="3.55"/><circle cx="16.8" cy="1149.1" r="3.55"/><circle cx="16.8" cy="1164.2" r="3.55"/><circle cx="14.2" cy="1178.9" r="3.55"/><circle cx="1.5" cy="1171.9" r="3.55"/><circle cx="7.5" cy="1198.1" r="3.55"/><circle cx="20.5" cy="1190.3" r="3.55"/><circle cx="34.5" cy="1184.6" r="3.55"/><circle cx="34.5" cy="1199.7" r="3.55"/><circle cx="31.9" cy="1214.4" r="3.55"/><circle cx="19.2" cy="1207.4" r="3.55"/><circle cx="25.2" cy="1233.6" r="3.55"/><circle cx="38.2" cy="1225.8" r="3.55"/><circle cx="52.2" cy="1220.1" r="3.55"/><circle cx="52.2" cy="1235.2" r="3.55"/><circle cx="49.6" cy="1249.9" r="3.55"/><circle cx="36.9" cy="1242.9" r="3.55"/><circle cx="42.9" cy="1269.1" r="3.55"/><circle cx="55.9" cy="1261.3" r="3.55"/><circle cx="69.9" cy="1255.6" r="3.55"/><circle cx="69.9" cy="1270.7" r="3.55"/><circle cx="67.3" cy="1285.4" r="3.55"/><circle cx="54.6" cy="1278.4" r="3.55"/><circle cx="60.6" cy="1304.6" r="3.55"/><circle cx="73.6" cy="1296.8" r="3.55"/><circle cx="87.6" cy="1291.1" r="3.55"/><circle cx="87.6" cy="1306.2" r="3.55"/><circle cx="85.0" cy="1320.9" r="3.55"/><circle cx="72.3" cy="1313.9" r="3.55"/><circle cx="78.3" cy="1340.1" r="3.55"/><circle cx="91.3" cy="1332.3" r="3.55"/><circle cx="105.3" cy="1326.6" r="3.55"/><circle cx="105.3" cy="1341.7" r="3.55"/><circle cx="102.7" cy="1356.4" r="3.55"/><circle cx="90.0" cy="1349.4" r="3.55"/><circle cx="96.0" cy="1375.6" r="3.55"/><circle cx="109.0" cy="1367.8" r="3.55"/><circle cx="123.0" cy="1362.1" r="3.55"/><circle cx="123.0" cy="1377.2" r="3.55"/><circle cx="120.4" cy="1391.9" r="3.55"/><circle cx="107.7" cy="1384.9" r="3.55"/><circle cx="113.7" cy="1411.1" r="3.55"/><circle cx="126.7" cy="1403.3" r="3.55"/><circle cx="140.7" cy="1397.6" r="3.55"/><circle cx="140.7" cy="1412.7" r="3.55"/><circle cx="138.1" cy="1427.4" r="3.55"/><circle cx="125.4" cy="1420.4" r="3.55"/><circle cx="131.4" cy="1446.6" r="3.55"/><circle cx="144.4" cy="1438.8" r="3.55"/><circle cx="158.4" cy="1433.1" r="3.55"/><circle cx="158.4" cy="1448.2" r="3.55"/><circle cx="3.2" cy="1059.7" r="3.55"/><circle cx="0.6" cy="1074.4" r="3.55"/><circle cx="6.9" cy="1085.8" r="3.55"/><circle cx="20.9" cy="1080.1" r="3.55"/><circle cx="20.9" cy="1095.2" r="3.55"/><circle cx="18.3" cy="1109.9" r="3.55"/><circle cx="5.6" cy="1102.9" r="3.55"/><circle cx="11.6" cy="1129.1" r="3.55"/><circle cx="24.6" cy="1121.3" r="3.55"/><circle cx="38.6" cy="1115.6" r="3.55"/><circle cx="38.6" cy="1130.7" r="3.55"/><circle cx="36.0" cy="1145.4" r="3.55"/><circle cx="23.3" cy="1138.4" r="3.55"/><circle cx="29.3" cy="1164.6" r="3.55"/><circle cx="42.3" cy="1156.8" r="3.55"/><circle cx="56.3" cy="1151.1" r="3.55"/><circle cx="56.3" cy="1166.2" r="3.55"/><circle cx="53.7" cy="1180.9" r="3.55"/><circle cx="41.0" cy="1173.9" r="3.55"/><circle cx="47.0" cy="1200.1" r="3.55"/><circle cx="60.0" cy="1192.3" r="3.55"/><circle cx="74.0" cy="1186.6" r="3.55"/><circle cx="74.0" cy="1201.7" r="3.55"/><circle cx="71.4" cy="1216.4" r="3.55"/><circle cx="58.7" cy="1209.4" r="3.55"/><circle cx="64.7" cy="1235.6" r="3.55"/><circle cx="77.7" cy="1227.8" r="3.55"/><circle cx="91.7" cy="1222.1" r="3.55"/><circle cx="91.7" cy="1237.2" r="3.55"/><circle cx="89.1" cy="1251.9" r="3.55"/><circle cx="76.4" cy="1244.9" r="3.55"/><circle cx="82.4" cy="1271.1" r="3.55"/><circle cx="95.4" cy="1263.3" r="3.55"/><circle cx="109.4" cy="1257.6" r="3.55"/><circle cx="109.4" cy="1272.7" r="3.55"/><circle cx="106.8" cy="1287.4" r="3.55"/><circle cx="94.1" cy="1280.4" r="3.55"/><circle cx="100.1" cy="1306.6" r="3.55"/><circle cx="113.1" cy="1298.8" r="3.55"/><circle cx="127.1" cy="1293.1" r="3.55"/><circle cx="127.1" cy="1308.2" r="3.55"/><circle cx="124.5" cy="1322.9" r="3.55"/><circle cx="111.8" cy="1315.9" r="3.55"/><circle cx="117.8" cy="1342.1" r="3.55"/><circle cx="130.8" cy="1334.3" r="3.55"/><circle cx="144.8" cy="1328.6" r="3.55"/><circle cx="144.8" cy="1343.7" r="3.55"/><circle cx="142.2" cy="1358.4" r="3.55"/><circle cx="129.5" cy="1351.4" r="3.55"/><circle cx="135.5" cy="1377.6" r="3.55"/><circle cx="148.5" cy="1369.8" r="3.55"/><circle cx="162.5" cy="1364.1" r="3.55"/><circle cx="162.5" cy="1379.2" r="3.55"/><circle cx="159.9" cy="1393.9" r="3.55"/><circle cx="147.2" cy="1386.9" r="3.55"/><circle cx="153.2" cy="1413.1" r="3.55"/><circle cx="166.2" cy="1405.3" r="3.55"/><circle cx="164.9" cy="1422.4" r="3.55"/><circle cx="170.9" cy="1448.6" r="3.55"/><circle cx="15.7" cy="1060.1" r="3.55"/><circle cx="42.7" cy="1061.7" r="3.55"/><circle cx="40.1" cy="1076.4" r="3.55"/><circle cx="27.4" cy="1069.4" r="3.55"/><circle cx="33.4" cy="1095.6" r="3.55"/><circle cx="46.4" cy="1087.8" r="3.55"/><circle cx="60.4" cy="1082.1" r="3.55"/><circle cx="60.4" cy="1097.2" r="3.55"/><circle cx="57.8" cy="1111.9" r="3.55"/><circle cx="45.1" cy="1104.9" r="3.55"/><circle cx="51.1" cy="1131.1" r="3.55"/><circle cx="64.1" cy="1123.3" r="3.55"/><circle cx="78.1" cy="1117.6" r="3.55"/><circle cx="78.1" cy="1132.7" r="3.55"/><circle cx="75.5" cy="1147.4" r="3.55"/><circle cx="62.8" cy="1140.4" r="3.55"/><circle cx="68.8" cy="1166.6" r="3.55"/><circle cx="81.8" cy="1158.8" r="3.55"/><circle cx="95.8" cy="1153.1" r="3.55"/><circle cx="95.8" cy="1168.2" r="3.55"/><circle cx="93.2" cy="1182.9" r="3.55"/><circle cx="80.5" cy="1175.9" r="3.55"/><circle cx="86.5" cy="1202.1" r="3.55"/><circle cx="99.5" cy="1194.3" r="3.55"/><circle cx="113.5" cy="1188.6" r="3.55"/><circle cx="113.5" cy="1203.7" r="3.55"/><circle cx="110.9" cy="1218.4" r="3.55"/><circle cx="98.2" cy="1211.4" r="3.55"/><circle cx="104.2" cy="1237.6" r="3.55"/><circle cx="117.2" cy="1229.8" r="3.55"/><circle cx="131.2" cy="1224.1" r="3.55"/><circle cx="131.2" cy="1239.2" r="3.55"/><circle cx="128.6" cy="1253.9" r="3.55"/><circle cx="115.9" cy="1246.9" r="3.55"/><circle cx="121.9" cy="1273.1" r="3.55"/><circle cx="134.9" cy="1265.3" r="3.55"/><circle cx="148.9" cy="1259.6" r="3.55"/><circle cx="148.9" cy="1274.7" r="3.55"/><circle cx="146.3" cy="1289.4" r="3.55"/><circle cx="133.6" cy="1282.4" r="3.55"/><circle cx="139.6" cy="1308.6" r="3.55"/><circle cx="152.6" cy="1300.8" r="3.55"/><circle cx="166.6" cy="1295.1" r="3.55"/><circle cx="166.6" cy="1310.2" r="3.55"/><circle cx="164.0" cy="1324.9" r="3.55"/><circle cx="151.3" cy="1317.9" r="3.55"/><circle cx="157.3" cy="1344.1" r="3.55"/><circle cx="170.3" cy="1336.3" r="3.55"/><circle cx="169.0" cy="1353.4" r="3.55"/><circle cx="175.0" cy="1379.6" r="3.55"/><circle cx="55.2" cy="1062.1" r="3.55"/><circle cx="68.2" cy="1054.3" r="3.55"/><circle cx="82.2" cy="1063.7" r="3.55"/><circle cx="79.6" cy="1078.4" r="3.55"/><circle cx="66.9" cy="1071.4" r="3.55"/><circle cx="72.9" cy="1097.6" r="3.55"/><circle cx="85.9" cy="1089.8" r="3.55"/><circle cx="99.9" cy="1084.1" r="3.55"/><circle cx="99.9" cy="1099.2" r="3.55"/><circle cx="97.3" cy="1113.9" r="3.55"/><circle cx="84.6" cy="1106.9" r="3.55"/><circle cx="90.6" cy="1133.1" r="3.55"/><circle cx="103.6" cy="1125.3" r="3.55"/><circle cx="117.6" cy="1119.6" r="3.55"/><circle cx="117.6" cy="1134.7" r="3.55"/><circle cx="115.0" cy="1149.4" r="3.55"/><circle cx="102.3" cy="1142.4" r="3.55"/><circle cx="108.3" cy="1168.6" r="3.55"/><circle cx="121.3" cy="1160.8" r="3.55"/><circle cx="135.3" cy="1155.1" r="3.55"/><circle cx="135.3" cy="1170.2" r="3.55"/><circle cx="132.7" cy="1184.9" r="3.55"/><circle cx="120.0" cy="1177.9" r="3.55"/><circle cx="126.0" cy="1204.1" r="3.55"/><circle cx="139.0" cy="1196.3" r="3.55"/><circle cx="153.0" cy="1190.6" r="3.55"/><circle cx="153.0" cy="1205.7" r="3.55"/><circle cx="150.4" cy="1220.4" r="3.55"/><circle cx="137.7" cy="1213.4" r="3.55"/><circle cx="143.7" cy="1239.6" r="3.55"/><circle cx="156.7" cy="1231.8" r="3.55"/><circle cx="170.7" cy="1226.1" r="3.55"/><circle cx="170.7" cy="1241.2" r="3.55"/><circle cx="168.1" cy="1255.9" r="3.55"/><circle cx="155.4" cy="1248.9" r="3.55"/><circle cx="161.4" cy="1275.1" r="3.55"/><circle cx="174.4" cy="1267.3" r="3.55"/><circle cx="173.1" cy="1284.4" r="3.55"/><circle cx="94.7" cy="1064.1" r="3.55"/><circle cx="107.7" cy="1056.3" r="3.55"/><circle cx="121.7" cy="1065.7" r="3.55"/><circle cx="119.1" cy="1080.4" r="3.55"/><circle cx="106.4" cy="1073.4" r="3.55"/><circle cx="112.4" cy="1099.6" r="3.55"/><circle cx="125.4" cy="1091.8" r="3.55"/><circle cx="139.4" cy="1086.1" r="3.55"/><circle cx="139.4" cy="1101.2" r="3.55"/><circle cx="136.8" cy="1115.9" r="3.55"/><circle cx="124.1" cy="1108.9" r="3.55"/><circle cx="130.1" cy="1135.1" r="3.55"/><circle cx="143.1" cy="1127.3" r="3.55"/><circle cx="157.1" cy="1121.6" r="3.55"/><circle cx="157.1" cy="1136.7" r="3.55"/><circle cx="154.5" cy="1151.4" r="3.55"/><circle cx="141.8" cy="1144.4" r="3.55"/><circle cx="147.8" cy="1170.6" r="3.55"/><circle cx="160.8" cy="1162.8" r="3.55"/><circle cx="174.8" cy="1157.1" r="3.55"/><circle cx="174.8" cy="1172.2" r="3.55"/><circle cx="172.2" cy="1186.9" r="3.55"/><circle cx="159.5" cy="1179.9" r="3.55"/><circle cx="165.5" cy="1206.1" r="3.55"/><circle cx="178.5" cy="1198.3" r="3.55"/><circle cx="192.5" cy="1192.6" r="3.55"/><circle cx="192.5" cy="1207.7" r="3.55"/><circle cx="189.9" cy="1222.4" r="3.55"/><circle cx="177.2" cy="1215.4" r="3.55"/><circle cx="210.2" cy="1228.1" r="3.55"/><circle cx="134.2" cy="1066.1" r="3.55"/><circle cx="147.2" cy="1058.3" r="3.55"/><circle cx="161.2" cy="1052.6" r="3.55"/><circle cx="161.2" cy="1067.7" r="3.55"/><circle cx="158.6" cy="1082.4" r="3.55"/><circle cx="145.9" cy="1075.4" r="3.55"/><circle cx="151.9" cy="1101.6" r="3.55"/><circle cx="164.9" cy="1093.8" r="3.55"/><circle cx="178.9" cy="1088.1" r="3.55"/><circle cx="178.9" cy="1103.2" r="3.55"/><circle cx="176.3" cy="1117.9" r="3.55"/><circle cx="163.6" cy="1110.9" r="3.55"/><circle cx="169.6" cy="1137.1" r="3.55"/><circle cx="182.6" cy="1129.3" r="3.55"/><circle cx="196.6" cy="1123.6" r="3.55"/><circle cx="196.6" cy="1138.7" r="3.55"/><circle cx="194.0" cy="1153.4" r="3.55"/><circle cx="181.3" cy="1146.4" r="3.55"/><circle cx="187.3" cy="1172.6" r="3.55"/><circle cx="200.3" cy="1164.8" r="3.55"/><circle cx="214.3" cy="1159.1" r="3.55"/><circle cx="214.3" cy="1174.2" r="3.55"/><circle cx="211.7" cy="1188.9" r="3.55"/><circle cx="199.0" cy="1181.9" r="3.55"/><circle cx="205.0" cy="1208.1" r="3.55"/><circle cx="218.0" cy="1200.3" r="3.55"/><circle cx="232.0" cy="1194.6" r="3.55"/><circle cx="232.0" cy="1209.7" r="3.55"/><circle cx="229.4" cy="1224.4" r="3.55"/><circle cx="216.7" cy="1217.4" r="3.55"/><circle cx="249.7" cy="1230.1" r="3.55"/><circle cx="173.7" cy="1068.1" r="3.55"/><circle cx="186.7" cy="1060.3" r="3.55"/><circle cx="200.7" cy="1054.6" r="3.55"/><circle cx="200.7" cy="1069.7" r="3.55"/><circle cx="198.1" cy="1084.4" r="3.55"/><circle cx="185.4" cy="1077.4" r="3.55"/><circle cx="191.4" cy="1103.6" r="3.55"/><circle cx="204.4" cy="1095.8" r="3.55"/><circle cx="218.4" cy="1090.1" r="3.55"/><circle cx="218.4" cy="1105.2" r="3.55"/><circle cx="215.8" cy="1119.9" r="3.55"/><circle cx="203.1" cy="1112.9" r="3.55"/><circle cx="209.1" cy="1139.1" r="3.55"/><circle cx="222.1" cy="1131.3" r="3.55"/><circle cx="236.1" cy="1125.6" r="3.55"/><circle cx="236.1" cy="1140.7" r="3.55"/><circle cx="233.5" cy="1155.4" r="3.55"/><circle cx="220.8" cy="1148.4" r="3.55"/><circle cx="226.8" cy="1174.6" r="3.55"/><circle cx="239.8" cy="1166.8" r="3.55"/><circle cx="253.8" cy="1161.1" r="3.55"/><circle cx="253.8" cy="1176.2" r="3.55"/><circle cx="251.2" cy="1190.9" r="3.55"/><circle cx="238.5" cy="1183.9" r="3.55"/><circle cx="244.5" cy="1210.1" r="3.55"/><circle cx="257.5" cy="1202.3" r="3.55"/><circle cx="271.5" cy="1196.6" r="3.55"/><circle cx="271.5" cy="1211.7" r="3.55"/><circle cx="268.9" cy="1226.4" r="3.55"/><circle cx="256.2" cy="1219.4" r="3.55"/><circle cx="289.2" cy="1232.1" r="3.55"/><circle cx="213.2" cy="1070.1" r="3.55"/><circle cx="226.2" cy="1062.3" r="3.55"/><circle cx="240.2" cy="1056.6" r="3.55"/><circle cx="240.2" cy="1071.7" r="3.55"/><circle cx="237.6" cy="1086.4" r="3.55"/><circle cx="224.9" cy="1079.4" r="3.55"/><circle cx="230.9" cy="1105.6" r="3.55"/><circle cx="243.9" cy="1097.8" r="3.55"/><circle cx="257.9" cy="1092.1" r="3.55"/><circle cx="257.9" cy="1107.2" r="3.55"/><circle cx="255.3" cy="1121.9" r="3.55"/><circle cx="242.6" cy="1114.9" r="3.55"/><circle cx="248.6" cy="1141.1" r="3.55"/><circle cx="261.6" cy="1133.3" r="3.55"/><circle cx="275.6" cy="1127.6" r="3.55"/><circle cx="275.6" cy="1142.7" r="3.55"/><circle cx="273.0" cy="1157.4" r="3.55"/><circle cx="260.3" cy="1150.4" r="3.55"/><circle cx="266.3" cy="1176.6" r="3.55"/><circle cx="279.3" cy="1168.8" r="3.55"/><circle cx="293.3" cy="1163.1" r="3.55"/><circle cx="293.3" cy="1178.2" r="3.55"/><circle cx="290.7" cy="1192.9" r="3.55"/><circle cx="278.0" cy="1185.9" r="3.55"/><circle cx="284.0" cy="1212.1" r="3.55"/><circle cx="297.0" cy="1204.3" r="3.55"/><circle cx="311.0" cy="1198.6" r="3.55"/><circle cx="311.0" cy="1213.7" r="3.55"/><circle cx="308.4" cy="1228.4" r="3.55"/><circle cx="295.7" cy="1221.4" r="3.55"/><circle cx="259.4" cy="1052.9" r="3.55"/><circle cx="252.7" cy="1072.1" r="3.55"/><circle cx="265.7" cy="1064.3" r="3.55"/><circle cx="279.7" cy="1058.6" r="3.55"/><circle cx="279.7" cy="1073.7" r="3.55"/><circle cx="277.1" cy="1088.4" r="3.55"/><circle cx="264.4" cy="1081.4" r="3.55"/><circle cx="270.4" cy="1107.6" r="3.55"/><circle cx="283.4" cy="1099.8" r="3.55"/><circle cx="297.4" cy="1094.1" r="3.55"/><circle cx="297.4" cy="1109.2" r="3.55"/><circle cx="294.8" cy="1123.9" r="3.55"/><circle cx="282.1" cy="1116.9" r="3.55"/><circle cx="288.1" cy="1143.1" r="3.55"/><circle cx="301.1" cy="1135.3" r="3.55"/><circle cx="315.1" cy="1129.6" r="3.55"/><circle cx="315.1" cy="1144.7" r="3.55"/><circle cx="312.5" cy="1159.4" r="3.55"/><circle cx="299.8" cy="1152.4" r="3.55"/><circle cx="305.8" cy="1178.6" r="3.55"/><circle cx="318.8" cy="1170.8" r="3.55"/><circle cx="332.8" cy="1165.1" r="3.55"/><circle cx="332.8" cy="1180.2" r="3.55"/><circle cx="330.2" cy="1194.9" r="3.55"/><circle cx="317.5" cy="1187.9" r="3.55"/><circle cx="323.5" cy="1214.1" r="3.55"/><circle cx="336.5" cy="1206.3" r="3.55"/><circle cx="350.5" cy="1200.6" r="3.55"/><circle cx="350.5" cy="1215.7" r="3.55"/><circle cx="347.9" cy="1230.4" r="3.55"/><circle cx="335.2" cy="1223.4" r="3.55"/><circle cx="298.9" cy="1054.9" r="3.55"/><circle cx="292.2" cy="1074.1" r="3.55"/><circle cx="305.2" cy="1066.3" r="3.55"/><circle cx="319.2" cy="1060.6" r="3.55"/><circle cx="319.2" cy="1075.7" r="3.55"/><circle cx="316.6" cy="1090.4" r="3.55"/><circle cx="303.9" cy="1083.4" r="3.55"/><circle cx="309.9" cy="1109.6" r="3.55"/><circle cx="322.9" cy="1101.8" r="3.55"/><circle cx="336.9" cy="1096.1" r="3.55"/><circle cx="336.9" cy="1111.2" r="3.55"/><circle cx="334.3" cy="1125.9" r="3.55"/><circle cx="321.6" cy="1118.9" r="3.55"/><circle cx="327.6" cy="1145.1" r="3.55"/><circle cx="340.6" cy="1137.3" r="3.55"/><circle cx="354.6" cy="1131.6" r="3.55"/><circle cx="354.6" cy="1146.7" r="3.55"/><circle cx="352.0" cy="1161.4" r="3.55"/><circle cx="339.3" cy="1154.4" r="3.55"/><circle cx="345.3" cy="1180.6" r="3.55"/><circle cx="358.3" cy="1172.8" r="3.55"/><circle cx="372.3" cy="1167.1" r="3.55"/><circle cx="372.3" cy="1182.2" r="3.55"/><circle cx="369.7" cy="1196.9" r="3.55"/><circle cx="357.0" cy="1189.9" r="3.55"/><circle cx="363.0" cy="1216.1" r="3.55"/><circle cx="376.0" cy="1208.3" r="3.55"/><circle cx="390.0" cy="1202.6" r="3.55"/><circle cx="390.0" cy="1217.7" r="3.55"/><circle cx="387.4" cy="1232.4" r="3.55"/><circle cx="374.7" cy="1225.4" r="3.55"/><circle cx="338.4" cy="1056.9" r="3.55"/><circle cx="331.7" cy="1076.1" r="3.55"/><circle cx="344.7" cy="1068.3" r="3.55"/><circle cx="358.7" cy="1062.6" r="3.55"/><circle cx="358.7" cy="1077.7" r="3.55"/><circle cx="356.1" cy="1092.4" r="3.55"/><circle cx="343.4" cy="1085.4" r="3.55"/><circle cx="349.4" cy="1111.6" r="3.55"/><circle cx="362.4" cy="1103.8" r="3.55"/><circle cx="376.4" cy="1098.1" r="3.55"/><circle cx="376.4" cy="1113.2" r="3.55"/><circle cx="373.8" cy="1127.9" r="3.55"/><circle cx="361.1" cy="1120.9" r="3.55"/><circle cx="367.1" cy="1147.1" r="3.55"/><circle cx="380.1" cy="1139.3" r="3.55"/><circle cx="394.1" cy="1133.6" r="3.55"/><circle cx="394.1" cy="1148.7" r="3.55"/><circle cx="391.5" cy="1163.4" r="3.55"/><circle cx="378.8" cy="1156.4" r="3.55"/><circle cx="384.8" cy="1182.6" r="3.55"/><circle cx="397.8" cy="1174.8" r="3.55"/><circle cx="396.5" cy="1191.9" r="3.55"/><circle cx="377.9" cy="1058.9" r="3.55"/><circle cx="371.2" cy="1078.1" r="3.55"/><circle cx="384.2" cy="1070.3" r="3.55"/><circle cx="398.2" cy="1064.6" r="3.55"/><circle cx="398.2" cy="1079.7" r="3.55"/><circle cx="395.6" cy="1094.4" r="3.55"/><circle cx="382.9" cy="1087.4" r="3.55"/><circle cx="388.9" cy="1113.6" r="3.55"/></g>
<g clip-path="url(#cid)">
<rect x="173.9" y="1229.4" width="218.99999999999997" height="216.5999999999999" fill="url(#rgd)"/>
<g fill="url(#spot)"><circle cx="175.8" cy="1226.5" r="4.4" opacity="1.00"/><circle cx="175.9" cy="1255.4" r="4.4" opacity="1.00"/><circle cx="183.5" cy="1240.6" r="4.4" opacity="1.00"/><circle cx="191.1" cy="1225.8" r="4.4" opacity="1.00"/><circle cx="176.0" cy="1284.3" r="4.4" opacity="1.00"/><circle cx="183.6" cy="1269.5" r="4.4" opacity="1.00"/><circle cx="191.2" cy="1254.8" r="4.4" opacity="1.00"/><circle cx="198.8" cy="1240.0" r="4.4" opacity="1.00"/><circle cx="206.4" cy="1225.1" r="4.4" opacity="1.00"/><circle cx="176.1" cy="1313.3" r="4.4" opacity="1.00"/><circle cx="183.7" cy="1298.5" r="4.4" opacity="1.00"/><circle cx="191.3" cy="1283.7" r="4.4" opacity="1.00"/><circle cx="198.9" cy="1268.9" r="4.4" opacity="1.00"/><circle cx="206.5" cy="1254.1" r="4.4" opacity="1.00"/><circle cx="214.1" cy="1239.3" r="4.4" opacity="1.00"/><circle cx="176.2" cy="1342.2" r="4.4" opacity="1.00"/><circle cx="183.8" cy="1327.5" r="4.4" opacity="1.00"/><circle cx="191.4" cy="1312.7" r="4.4" opacity="1.00"/><circle cx="199.0" cy="1297.8" r="4.4" opacity="1.00"/><circle cx="206.6" cy="1283.0" r="4.4" opacity="1.00"/><circle cx="214.2" cy="1268.2" r="4.4" opacity="1.00"/><circle cx="221.8" cy="1253.5" r="4.4" opacity="1.00"/><circle cx="229.4" cy="1238.7" r="4.4" opacity="1.00"/><circle cx="176.3" cy="1371.2" r="4.4" opacity="1.00"/><circle cx="183.9" cy="1356.4" r="4.4" opacity="1.00"/><circle cx="191.5" cy="1341.6" r="4.4" opacity="1.00"/><circle cx="199.1" cy="1326.8" r="4.4" opacity="1.00"/><circle cx="206.7" cy="1312.0" r="4.4" opacity="1.00"/><circle cx="214.3" cy="1297.2" r="4.4" opacity="1.00"/><circle cx="221.9" cy="1282.4" r="4.4" opacity="1.00"/><circle cx="229.5" cy="1267.6" r="4.4" opacity="1.00"/><circle cx="237.1" cy="1252.8" r="4.4" opacity="1.00"/><circle cx="244.7" cy="1238.0" r="4.4" opacity="1.00"/><circle cx="176.4" cy="1400.2" r="4.4" opacity="1.00"/><circle cx="184.0" cy="1385.4" r="4.4" opacity="1.00"/><circle cx="191.6" cy="1370.5" r="4.4" opacity="1.00"/><circle cx="199.2" cy="1355.8" r="4.4" opacity="1.00"/><circle cx="206.8" cy="1341.0" r="4.4" opacity="1.00"/><circle cx="214.4" cy="1326.2" r="4.4" opacity="1.00"/><circle cx="222.0" cy="1311.4" r="4.4" opacity="1.00"/><circle cx="229.6" cy="1296.5" r="4.4" opacity="1.00"/><circle cx="237.2" cy="1281.8" r="4.4" opacity="1.00"/><circle cx="244.8" cy="1267.0" r="4.4" opacity="1.00"/><circle cx="252.4" cy="1252.2" r="4.4" opacity="1.00"/><circle cx="260.0" cy="1237.4" r="4.4" opacity="1.00"/><circle cx="176.5" cy="1429.1" r="4.4" opacity="1.00"/><circle cx="184.1" cy="1414.3" r="4.4" opacity="1.00"/><circle cx="191.7" cy="1399.5" r="4.4" opacity="1.00"/><circle cx="199.3" cy="1384.7" r="4.4" opacity="1.00"/><circle cx="206.9" cy="1369.9" r="4.4" opacity="1.00"/><circle cx="214.5" cy="1355.1" r="4.4" opacity="1.00"/><circle cx="222.1" cy="1340.3" r="4.4" opacity="1.00"/><circle cx="229.7" cy="1325.5" r="4.4" opacity="0.99"/><circle cx="237.3" cy="1310.7" r="4.4" opacity="0.96"/><circle cx="244.9" cy="1295.9" r="4.4" opacity="1.00"/><circle cx="252.5" cy="1281.1" r="4.4" opacity="1.00"/><circle cx="260.1" cy="1266.3" r="4.4" opacity="1.00"/><circle cx="267.7" cy="1251.5" r="4.4" opacity="1.00"/><circle cx="275.3" cy="1236.7" r="4.4" opacity="1.00"/><circle cx="184.2" cy="1443.2" r="4.4" opacity="1.00"/><circle cx="191.8" cy="1428.5" r="4.4" opacity="1.00"/><circle cx="199.4" cy="1413.7" r="4.4" opacity="1.00"/><circle cx="207.0" cy="1398.9" r="4.4" opacity="1.00"/><circle cx="214.6" cy="1384.1" r="4.4" opacity="1.00"/><circle cx="222.2" cy="1369.2" r="4.4" opacity="1.00"/><circle cx="229.8" cy="1354.5" r="4.4" opacity="1.00"/><circle cx="237.4" cy="1339.7" r="4.4" opacity="0.86"/><circle cx="245.0" cy="1324.9" r="4.4" opacity="0.78"/><circle cx="252.6" cy="1310.1" r="4.4" opacity="0.79"/><circle cx="260.2" cy="1295.2" r="4.4" opacity="0.89"/><circle cx="267.8" cy="1280.5" r="4.4" opacity="1.00"/><circle cx="275.4" cy="1265.7" r="4.4" opacity="1.00"/><circle cx="283.0" cy="1250.9" r="4.4" opacity="1.00"/><circle cx="290.6" cy="1236.1" r="4.4" opacity="1.00"/><circle cx="199.5" cy="1442.6" r="4.4" opacity="1.00"/><circle cx="207.1" cy="1427.8" r="4.4" opacity="1.00"/><circle cx="214.7" cy="1413.0" r="4.4" opacity="1.00"/><circle cx="222.3" cy="1398.2" r="4.4" opacity="1.00"/><circle cx="229.9" cy="1383.4" r="4.4" opacity="1.00"/><circle cx="237.5" cy="1368.6" r="4.4" opacity="0.99"/><circle cx="245.1" cy="1353.8" r="4.4" opacity="0.79"/><circle cx="252.7" cy="1339.0" r="4.4" opacity="0.64"/><circle cx="260.3" cy="1324.2" r="4.4" opacity="0.58"/><circle cx="267.9" cy="1309.4" r="4.4" opacity="0.66"/><circle cx="275.5" cy="1294.6" r="4.4" opacity="0.83"/><circle cx="283.1" cy="1279.8" r="4.4" opacity="1.00"/><circle cx="290.7" cy="1265.0" r="4.4" opacity="1.00"/><circle cx="298.3" cy="1250.2" r="4.4" opacity="1.00"/><circle cx="305.9" cy="1235.4" r="4.4" opacity="1.00"/><circle cx="214.8" cy="1442.0" r="4.4" opacity="1.00"/><circle cx="222.4" cy="1427.2" r="4.4" opacity="1.00"/><circle cx="230.0" cy="1412.4" r="4.4" opacity="1.00"/><circle cx="237.6" cy="1397.6" r="4.4" opacity="1.00"/><circle cx="245.2" cy="1382.8" r="4.4" opacity="1.00"/><circle cx="252.8" cy="1368.0" r="4.4" opacity="0.81"/><circle cx="260.4" cy="1353.2" r="4.4" opacity="0.59"/><circle cx="268.0" cy="1338.4" r="4.4" opacity="0.42"/><circle cx="275.6" cy="1323.6" r="4.4" opacity="0.43"/><circle cx="283.2" cy="1308.8" r="4.4" opacity="0.61"/><circle cx="290.8" cy="1294.0" r="4.4" opacity="0.83"/><circle cx="298.4" cy="1279.2" r="4.4" opacity="1.00"/><circle cx="306.0" cy="1264.4" r="4.4" opacity="1.00"/><circle cx="313.6" cy="1249.6" r="4.4" opacity="1.00"/><circle cx="321.2" cy="1234.8" r="4.4" opacity="1.00"/><circle cx="230.1" cy="1441.3" r="4.4" opacity="1.00"/><circle cx="237.7" cy="1426.5" r="4.4" opacity="1.00"/><circle cx="245.3" cy="1411.7" r="4.4" opacity="1.00"/><circle cx="252.9" cy="1396.9" r="4.4" opacity="1.00"/><circle cx="260.5" cy="1382.1" r="4.4" opacity="0.91"/><circle cx="268.1" cy="1367.3" r="4.4" opacity="0.68"/><circle cx="275.7" cy="1352.5" r="4.4" opacity="0.44"/><circle cx="290.9" cy="1322.9" r="4.4" opacity="0.44"/><circle cx="298.5" cy="1308.1" r="4.4" opacity="0.68"/><circle cx="306.1" cy="1293.3" r="4.4" opacity="0.91"/><circle cx="313.7" cy="1278.5" r="4.4" opacity="1.00"/><circle cx="321.3" cy="1263.7" r="4.4" opacity="1.00"/><circle cx="328.9" cy="1248.9" r="4.4" opacity="1.00"/><circle cx="336.5" cy="1234.1" r="4.4" opacity="1.00"/><circle cx="245.4" cy="1440.6" r="4.4" opacity="1.00"/><circle cx="253.0" cy="1425.8" r="4.4" opacity="1.00"/><circle cx="260.6" cy="1411.0" r="4.4" opacity="1.00"/><circle cx="268.2" cy="1396.2" r="4.4" opacity="1.00"/><circle cx="275.8" cy="1381.5" r="4.4" opacity="0.83"/><circle cx="283.4" cy="1366.6" r="4.4" opacity="0.61"/><circle cx="291.0" cy="1351.8" r="4.4" opacity="0.43"/><circle cx="298.6" cy="1337.0" r="4.4" opacity="0.42"/><circle cx="306.2" cy="1322.2" r="4.4" opacity="0.59"/><circle cx="313.8" cy="1307.5" r="4.4" opacity="0.81"/><circle cx="321.4" cy="1292.6" r="4.4" opacity="1.00"/><circle cx="329.0" cy="1277.8" r="4.4" opacity="1.00"/><circle cx="336.6" cy="1263.0" r="4.4" opacity="1.00"/><circle cx="344.2" cy="1248.2" r="4.4" opacity="1.00"/><circle cx="351.8" cy="1233.5" r="4.4" opacity="1.00"/><circle cx="260.7" cy="1440.0" r="4.4" opacity="1.00"/><circle cx="268.3" cy="1425.2" r="4.4" opacity="1.00"/><circle cx="275.9" cy="1410.4" r="4.4" opacity="1.00"/><circle cx="283.5" cy="1395.6" r="4.4" opacity="1.00"/><circle cx="291.1" cy="1380.8" r="4.4" opacity="0.83"/><circle cx="298.7" cy="1366.0" r="4.4" opacity="0.66"/><circle cx="306.3" cy="1351.2" r="4.4" opacity="0.58"/><circle cx="313.9" cy="1336.4" r="4.4" opacity="0.64"/><circle cx="321.5" cy="1321.6" r="4.4" opacity="0.79"/><circle cx="329.1" cy="1306.8" r="4.4" opacity="0.99"/><circle cx="336.7" cy="1292.0" r="4.4" opacity="1.00"/><circle cx="344.3" cy="1277.2" r="4.4" opacity="1.00"/><circle cx="351.9" cy="1262.4" r="4.4" opacity="1.00"/><circle cx="359.5" cy="1247.6" r="4.4" opacity="1.00"/><circle cx="367.1" cy="1232.8" r="4.4" opacity="1.00"/><circle cx="276.0" cy="1439.3" r="4.4" opacity="1.00"/><circle cx="283.6" cy="1424.5" r="4.4" opacity="1.00"/><circle cx="291.2" cy="1409.8" r="4.4" opacity="1.00"/><circle cx="298.8" cy="1395.0" r="4.4" opacity="1.00"/><circle cx="306.4" cy="1380.2" r="4.4" opacity="0.89"/><circle cx="314.0" cy="1365.3" r="4.4" opacity="0.79"/><circle cx="321.6" cy="1350.5" r="4.4" opacity="0.78"/><circle cx="329.2" cy="1335.8" r="4.4" opacity="0.86"/><circle cx="336.8" cy="1321.0" r="4.4" opacity="1.00"/><circle cx="344.4" cy="1306.2" r="4.4" opacity="1.00"/><circle cx="352.0" cy="1291.3" r="4.4" opacity="1.00"/><circle cx="359.6" cy="1276.5" r="4.4" opacity="1.00"/><circle cx="367.2" cy="1261.8" r="4.4" opacity="1.00"/><circle cx="374.8" cy="1247.0" r="4.4" opacity="1.00"/><circle cx="382.4" cy="1232.2" r="4.4" opacity="1.00"/><circle cx="291.3" cy="1438.7" r="4.4" opacity="1.00"/><circle cx="298.9" cy="1423.9" r="4.4" opacity="1.00"/><circle cx="306.5" cy="1409.1" r="4.4" opacity="1.00"/><circle cx="314.1" cy="1394.3" r="4.4" opacity="1.00"/><circle cx="321.7" cy="1379.5" r="4.4" opacity="1.00"/><circle cx="329.3" cy="1364.7" r="4.4" opacity="0.96"/><circle cx="336.9" cy="1349.9" r="4.4" opacity="0.99"/><circle cx="344.5" cy="1335.1" r="4.4" opacity="1.00"/><circle cx="352.1" cy="1320.3" r="4.4" opacity="1.00"/><circle cx="359.7" cy="1305.5" r="4.4" opacity="1.00"/><circle cx="367.3" cy="1290.7" r="4.4" opacity="1.00"/><circle cx="374.9" cy="1275.9" r="4.4" opacity="1.00"/><circle cx="382.5" cy="1261.1" r="4.4" opacity="1.00"/><circle cx="390.1" cy="1246.3" r="4.4" opacity="1.00"/><circle cx="306.6" cy="1438.0" r="4.4" opacity="1.00"/><circle cx="314.2" cy="1423.2" r="4.4" opacity="1.00"/><circle cx="321.8" cy="1408.5" r="4.4" opacity="1.00"/><circle cx="329.4" cy="1393.7" r="4.4" opacity="1.00"/><circle cx="337.0" cy="1378.9" r="4.4" opacity="1.00"/><circle cx="344.6" cy="1364.0" r="4.4" opacity="1.00"/><circle cx="352.2" cy="1349.2" r="4.4" opacity="1.00"/><circle cx="359.8" cy="1334.5" r="4.4" opacity="1.00"/><circle cx="367.4" cy="1319.7" r="4.4" opacity="1.00"/><circle cx="375.0" cy="1304.9" r="4.4" opacity="1.00"/><circle cx="382.6" cy="1290.0" r="4.4" opacity="1.00"/><circle cx="390.2" cy="1275.2" r="4.4" opacity="1.00"/><circle cx="321.9" cy="1437.4" r="4.4" opacity="1.00"/><circle cx="329.5" cy="1422.6" r="4.4" opacity="1.00"/><circle cx="337.1" cy="1407.8" r="4.4" opacity="1.00"/><circle cx="344.7" cy="1393.0" r="4.4" opacity="1.00"/><circle cx="352.3" cy="1378.2" r="4.4" opacity="1.00"/><circle cx="359.9" cy="1363.4" r="4.4" opacity="1.00"/><circle cx="367.5" cy="1348.6" r="4.4" opacity="1.00"/><circle cx="375.1" cy="1333.8" r="4.4" opacity="1.00"/><circle cx="382.7" cy="1319.0" r="4.4" opacity="1.00"/><circle cx="390.3" cy="1304.2" r="4.4" opacity="1.00"/><circle cx="337.2" cy="1436.8" r="4.4" opacity="1.00"/><circle cx="344.8" cy="1422.0" r="4.4" opacity="1.00"/><circle cx="352.4" cy="1407.2" r="4.4" opacity="1.00"/><circle cx="360.0" cy="1392.4" r="4.4" opacity="1.00"/><circle cx="367.6" cy="1377.6" r="4.4" opacity="1.00"/><circle cx="375.2" cy="1362.8" r="4.4" opacity="1.00"/><circle cx="382.8" cy="1348.0" r="4.4" opacity="1.00"/><circle cx="390.4" cy="1333.2" r="4.4" opacity="1.00"/><circle cx="352.5" cy="1436.1" r="4.4" opacity="1.00"/><circle cx="360.1" cy="1421.3" r="4.4" opacity="1.00"/><circle cx="367.7" cy="1406.5" r="4.4" opacity="1.00"/><circle cx="375.3" cy="1391.7" r="4.4" opacity="1.00"/><circle cx="382.9" cy="1376.9" r="4.4" opacity="1.00"/><circle cx="390.5" cy="1362.1" r="4.4" opacity="1.00"/><circle cx="360.2" cy="1450.3" r="4.4" opacity="1.00"/><circle cx="367.8" cy="1435.5" r="4.4" opacity="1.00"/><circle cx="375.4" cy="1420.7" r="4.4" opacity="1.00"/><circle cx="383.0" cy="1405.9" r="4.4" opacity="1.00"/><circle cx="390.6" cy="1391.1" r="4.4" opacity="1.00"/><circle cx="375.5" cy="1449.6" r="4.4" opacity="1.00"/><circle cx="383.1" cy="1434.8" r="4.4" opacity="1.00"/><circle cx="390.7" cy="1420.0" r="4.4" opacity="1.00"/><circle cx="390.8" cy="1449.0" r="4.4" opacity="1.00"/></g>
</g>
<rect x="0.6" y="1055.9" width="394.4" height="394.0999999999999" fill="none" stroke="#000" stroke-width="2.5"/>
<rect x="19.700000000000003" y="1089.05" width="26" height="6.1" fill="#9b5e2a"/>
<text x="33.7" y="1086.0" font-size="26" text-anchor="middle" font-weight="normal" font-style="italic" fill="#8a4a1c" font-family="'Liberation Serif', 'DejaVu Serif', serif">σ</text>
<text x="329.0" y="1105.2" font-size="29" text-anchor="start" font-weight="normal" font-style="normal" fill="#000" font-family="'Liberation Sans', sans-serif">Kite</text>
</g>
<g id="pe">
<rect x="428.3" y="1055.2" width="387.59999999999997" height="394.79999999999995" fill="#fff"/>
<path d="M504.5 1140.9 L535.0 1138.0 L537.9 1168.1 L507.6 1171.0Z" fill="#f2a9a9" stroke="#c8202e" stroke-width="2.3" stroke-linejoin="miter"/>
<path d="M502.1 1135.7L516.1 1129.3L511.6 1145.0L496.9 1151.3ZM531.1 1132.6L544.6 1124.8L542.1 1140.9L527.5 1148.2ZM504.7 1164.3L519.2 1158.6L514.5 1173.6L500.0 1180.4ZM534.8 1162.2L548.6 1155.4L544.6 1171.0L529.8 1177.2Z" stroke="#111" stroke-width="2.4" fill="none"/>
<g fill="#2aa83a" clip-path="url(#cle)"><circle cx="425.1" cy="1290.7" r="3.55"/><circle cx="427.9" cy="1319.9" r="3.55"/><circle cx="430.7" cy="1349.1" r="3.55"/><circle cx="426.2" cy="1364.3" r="3.55"/><circle cx="433.5" cy="1378.3" r="3.55"/><circle cx="429.0" cy="1393.5" r="3.55"/><circle cx="436.3" cy="1407.5" r="3.55"/><circle cx="431.8" cy="1422.7" r="3.55"/><circle cx="439.1" cy="1436.7" r="3.55"/><circle cx="434.6" cy="1451.9" r="3.55"/><circle cx="432.5" cy="1054.1" r="3.55"/><circle cx="428.0" cy="1069.3" r="3.55"/><circle cx="435.3" cy="1083.3" r="3.55"/><circle cx="430.8" cy="1098.5" r="3.55"/><circle cx="438.1" cy="1112.5" r="3.55"/><circle cx="433.6" cy="1127.7" r="3.55"/><circle cx="425.3" cy="1138.1" r="3.55"/><circle cx="440.9" cy="1141.7" r="3.55"/><circle cx="436.4" cy="1156.9" r="3.55"/><circle cx="428.1" cy="1167.3" r="3.55"/><circle cx="443.7" cy="1170.9" r="3.55"/><circle cx="439.2" cy="1186.1" r="3.55"/><circle cx="430.9" cy="1196.5" r="3.55"/><circle cx="446.5" cy="1200.1" r="3.55"/><circle cx="426.1" cy="1212.2" r="3.55"/><circle cx="442.0" cy="1215.3" r="3.55"/><circle cx="433.7" cy="1225.8" r="3.55"/><circle cx="449.3" cy="1229.3" r="3.55"/><circle cx="428.9" cy="1241.4" r="3.55"/><circle cx="444.8" cy="1244.5" r="3.55"/><circle cx="436.5" cy="1254.9" r="3.55"/><circle cx="452.1" cy="1258.5" r="3.55"/><circle cx="431.7" cy="1270.6" r="3.55"/><circle cx="447.6" cy="1273.7" r="3.55"/><circle cx="439.3" cy="1284.1" r="3.55"/><circle cx="454.9" cy="1287.7" r="3.55"/><circle cx="434.5" cy="1299.8" r="3.55"/><circle cx="450.4" cy="1302.9" r="3.55"/><circle cx="442.1" cy="1313.3" r="3.55"/><circle cx="457.7" cy="1316.9" r="3.55"/><circle cx="437.3" cy="1329.0" r="3.55"/><circle cx="453.2" cy="1332.1" r="3.55"/><circle cx="444.9" cy="1342.5" r="3.55"/><circle cx="460.5" cy="1346.1" r="3.55"/><circle cx="440.1" cy="1358.2" r="3.55"/><circle cx="456.0" cy="1361.3" r="3.55"/><circle cx="447.7" cy="1371.8" r="3.55"/><circle cx="463.3" cy="1375.3" r="3.55"/><circle cx="442.9" cy="1387.4" r="3.55"/><circle cx="458.8" cy="1390.5" r="3.55"/><circle cx="450.5" cy="1400.9" r="3.55"/><circle cx="466.1" cy="1404.5" r="3.55"/><circle cx="445.7" cy="1416.6" r="3.55"/><circle cx="461.6" cy="1419.7" r="3.55"/><circle cx="453.3" cy="1430.1" r="3.55"/><circle cx="468.9" cy="1433.7" r="3.55"/><circle cx="448.5" cy="1445.8" r="3.55"/><circle cx="464.4" cy="1448.9" r="3.55"/><circle cx="441.8" cy="1063.3" r="3.55"/><circle cx="457.7" cy="1066.4" r="3.55"/><circle cx="449.4" cy="1076.8" r="3.55"/><circle cx="465.0" cy="1080.4" r="3.55"/><circle cx="444.6" cy="1092.5" r="3.55"/><circle cx="460.5" cy="1095.6" r="3.55"/><circle cx="452.2" cy="1106.0" r="3.55"/><circle cx="467.8" cy="1109.6" r="3.55"/><circle cx="447.4" cy="1121.7" r="3.55"/><circle cx="463.3" cy="1124.8" r="3.55"/><circle cx="455.0" cy="1135.2" r="3.55"/><circle cx="470.6" cy="1138.8" r="3.55"/><circle cx="450.2" cy="1150.9" r="3.55"/><circle cx="466.1" cy="1154.0" r="3.55"/><circle cx="457.8" cy="1164.4" r="3.55"/><circle cx="473.4" cy="1168.0" r="3.55"/><circle cx="453.0" cy="1180.1" r="3.55"/><circle cx="468.9" cy="1183.2" r="3.55"/><circle cx="460.6" cy="1193.6" r="3.55"/><circle cx="476.2" cy="1197.2" r="3.55"/><circle cx="455.8" cy="1209.3" r="3.55"/><circle cx="471.7" cy="1212.4" r="3.55"/><circle cx="463.4" cy="1222.8" r="3.55"/><circle cx="479.0" cy="1226.4" r="3.55"/><circle cx="458.6" cy="1238.5" r="3.55"/><circle cx="474.5" cy="1241.6" r="3.55"/><circle cx="466.2" cy="1252.0" r="3.55"/><circle cx="481.8" cy="1255.6" r="3.55"/><circle cx="461.4" cy="1267.7" r="3.55"/><circle cx="477.3" cy="1270.8" r="3.55"/><circle cx="469.0" cy="1281.2" r="3.55"/><circle cx="484.6" cy="1284.8" r="3.55"/><circle cx="464.2" cy="1296.9" r="3.55"/><circle cx="480.1" cy="1300.0" r="3.55"/><circle cx="471.8" cy="1310.4" r="3.55"/><circle cx="487.4" cy="1314.0" r="3.55"/><circle cx="467.0" cy="1326.1" r="3.55"/><circle cx="482.9" cy="1329.2" r="3.55"/><circle cx="474.6" cy="1339.6" r="3.55"/><circle cx="490.2" cy="1343.2" r="3.55"/><circle cx="469.8" cy="1355.3" r="3.55"/><circle cx="485.7" cy="1358.4" r="3.55"/><circle cx="477.4" cy="1368.8" r="3.55"/><circle cx="493.0" cy="1372.4" r="3.55"/><circle cx="472.6" cy="1384.5" r="3.55"/><circle cx="488.5" cy="1387.6" r="3.55"/><circle cx="480.2" cy="1398.0" r="3.55"/><circle cx="495.8" cy="1401.6" r="3.55"/><circle cx="475.4" cy="1413.7" r="3.55"/><circle cx="491.3" cy="1416.8" r="3.55"/><circle cx="483.0" cy="1427.2" r="3.55"/><circle cx="498.6" cy="1430.8" r="3.55"/><circle cx="478.2" cy="1442.9" r="3.55"/><circle cx="494.1" cy="1446.0" r="3.55"/><circle cx="471.6" cy="1060.4" r="3.55"/><circle cx="487.5" cy="1063.5" r="3.55"/><circle cx="479.2" cy="1073.9" r="3.55"/><circle cx="494.8" cy="1077.5" r="3.55"/><circle cx="474.4" cy="1089.5" r="3.55"/><circle cx="490.3" cy="1092.6" r="3.55"/><circle cx="482.0" cy="1103.0" r="3.55"/><circle cx="497.6" cy="1106.6" r="3.55"/><circle cx="477.2" cy="1118.8" r="3.55"/><circle cx="493.1" cy="1121.8" r="3.55"/><circle cx="484.8" cy="1132.2" r="3.55"/><circle cx="500.4" cy="1135.8" r="3.55"/><circle cx="480.0" cy="1148.0" r="3.55"/><circle cx="495.9" cy="1151.0" r="3.55"/><circle cx="487.6" cy="1161.5" r="3.55"/><circle cx="503.2" cy="1165.0" r="3.55"/><circle cx="482.8" cy="1177.2" r="3.55"/><circle cx="498.7" cy="1180.2" r="3.55"/><circle cx="490.4" cy="1190.7" r="3.55"/><circle cx="506.0" cy="1194.2" r="3.55"/><circle cx="485.6" cy="1206.4" r="3.55"/><circle cx="501.5" cy="1209.5" r="3.55"/><circle cx="493.2" cy="1219.9" r="3.55"/><circle cx="508.8" cy="1223.5" r="3.55"/><circle cx="488.4" cy="1235.5" r="3.55"/><circle cx="504.3" cy="1238.6" r="3.55"/><circle cx="496.0" cy="1249.0" r="3.55"/><circle cx="511.6" cy="1252.6" r="3.55"/><circle cx="491.2" cy="1264.8" r="3.55"/><circle cx="507.1" cy="1267.8" r="3.55"/><circle cx="498.8" cy="1278.2" r="3.55"/><circle cx="514.4" cy="1281.8" r="3.55"/><circle cx="494.0" cy="1294.0" r="3.55"/><circle cx="509.9" cy="1297.0" r="3.55"/><circle cx="501.6" cy="1307.5" r="3.55"/><circle cx="517.2" cy="1311.0" r="3.55"/><circle cx="496.8" cy="1323.2" r="3.55"/><circle cx="512.7" cy="1326.2" r="3.55"/><circle cx="504.4" cy="1336.7" r="3.55"/><circle cx="520.0" cy="1340.2" r="3.55"/><circle cx="499.6" cy="1352.4" r="3.55"/><circle cx="515.5" cy="1355.5" r="3.55"/><circle cx="507.2" cy="1365.9" r="3.55"/><circle cx="522.8" cy="1369.5" r="3.55"/><circle cx="502.4" cy="1381.5" r="3.55"/><circle cx="518.3" cy="1384.6" r="3.55"/><circle cx="510.0" cy="1395.0" r="3.55"/><circle cx="525.6" cy="1398.6" r="3.55"/><circle cx="505.2" cy="1410.8" r="3.55"/><circle cx="521.1" cy="1413.8" r="3.55"/><circle cx="512.8" cy="1424.2" r="3.55"/><circle cx="528.4" cy="1427.8" r="3.55"/><circle cx="508.0" cy="1440.0" r="3.55"/><circle cx="523.9" cy="1443.0" r="3.55"/><circle cx="515.6" cy="1453.5" r="3.55"/><circle cx="501.3" cy="1057.4" r="3.55"/><circle cx="517.2" cy="1060.5" r="3.55"/><circle cx="508.9" cy="1070.9" r="3.55"/><circle cx="524.5" cy="1074.5" r="3.55"/><circle cx="504.1" cy="1086.6" r="3.55"/><circle cx="520.0" cy="1089.7" r="3.55"/><circle cx="511.7" cy="1100.1" r="3.55"/><circle cx="527.3" cy="1103.7" r="3.55"/><circle cx="506.9" cy="1115.8" r="3.55"/><circle cx="522.8" cy="1118.9" r="3.55"/><circle cx="514.5" cy="1129.3" r="3.55"/><circle cx="530.1" cy="1132.9" r="3.55"/><circle cx="509.7" cy="1145.0" r="3.55"/><circle cx="525.6" cy="1148.1" r="3.55"/><circle cx="517.3" cy="1158.5" r="3.55"/><circle cx="532.9" cy="1162.1" r="3.55"/><circle cx="512.5" cy="1174.2" r="3.55"/><circle cx="528.4" cy="1177.3" r="3.55"/><circle cx="520.1" cy="1187.7" r="3.55"/><circle cx="535.7" cy="1191.3" r="3.55"/><circle cx="515.3" cy="1203.4" r="3.55"/><circle cx="531.2" cy="1206.5" r="3.55"/><circle cx="522.9" cy="1216.9" r="3.55"/><circle cx="538.5" cy="1220.5" r="3.55"/><circle cx="518.1" cy="1232.6" r="3.55"/><circle cx="534.0" cy="1235.7" r="3.55"/><circle cx="525.7" cy="1246.1" r="3.55"/><circle cx="541.3" cy="1249.7" r="3.55"/><circle cx="520.9" cy="1261.8" r="3.55"/><circle cx="536.8" cy="1264.9" r="3.55"/><circle cx="528.5" cy="1275.3" r="3.55"/><circle cx="544.1" cy="1278.9" r="3.55"/><circle cx="523.7" cy="1291.0" r="3.55"/><circle cx="539.6" cy="1294.1" r="3.55"/><circle cx="531.3" cy="1304.5" r="3.55"/><circle cx="546.9" cy="1308.1" r="3.55"/><circle cx="526.5" cy="1320.2" r="3.55"/><circle cx="542.4" cy="1323.3" r="3.55"/><circle cx="534.1" cy="1333.7" r="3.55"/><circle cx="549.7" cy="1337.3" r="3.55"/><circle cx="529.3" cy="1349.4" r="3.55"/><circle cx="545.2" cy="1352.5" r="3.55"/><circle cx="536.9" cy="1362.9" r="3.55"/><circle cx="552.5" cy="1366.5" r="3.55"/><circle cx="532.1" cy="1378.6" r="3.55"/><circle cx="548.0" cy="1381.7" r="3.55"/><circle cx="539.7" cy="1392.1" r="3.55"/><circle cx="555.3" cy="1395.7" r="3.55"/><circle cx="534.9" cy="1407.8" r="3.55"/><circle cx="550.8" cy="1410.9" r="3.55"/><circle cx="542.5" cy="1421.3" r="3.55"/><circle cx="558.1" cy="1424.9" r="3.55"/><circle cx="537.7" cy="1437.0" r="3.55"/><circle cx="553.6" cy="1440.1" r="3.55"/><circle cx="545.3" cy="1450.5" r="3.55"/><circle cx="531.0" cy="1054.5" r="3.55"/><circle cx="546.9" cy="1057.5" r="3.55"/><circle cx="538.6" cy="1068.0" r="3.55"/><circle cx="554.2" cy="1071.5" r="3.55"/><circle cx="533.8" cy="1083.6" r="3.55"/><circle cx="549.7" cy="1086.7" r="3.55"/><circle cx="541.4" cy="1097.1" r="3.55"/><circle cx="557.0" cy="1100.7" r="3.55"/><circle cx="536.6" cy="1112.8" r="3.55"/><circle cx="552.5" cy="1115.9" r="3.55"/><circle cx="544.2" cy="1126.3" r="3.55"/><circle cx="559.8" cy="1129.9" r="3.55"/><circle cx="539.4" cy="1142.0" r="3.55"/><circle cx="555.3" cy="1145.1" r="3.55"/><circle cx="547.0" cy="1155.5" r="3.55"/><circle cx="562.6" cy="1159.1" r="3.55"/><circle cx="542.2" cy="1171.2" r="3.55"/><circle cx="558.1" cy="1174.3" r="3.55"/><circle cx="549.8" cy="1184.8" r="3.55"/><circle cx="565.4" cy="1188.3" r="3.55"/><circle cx="545.0" cy="1200.5" r="3.55"/><circle cx="560.9" cy="1203.5" r="3.55"/><circle cx="552.6" cy="1214.0" r="3.55"/><circle cx="568.2" cy="1217.5" r="3.55"/><circle cx="547.8" cy="1229.6" r="3.55"/><circle cx="563.7" cy="1232.7" r="3.55"/><circle cx="555.4" cy="1243.1" r="3.55"/><circle cx="571.0" cy="1246.7" r="3.55"/><circle cx="550.6" cy="1258.8" r="3.55"/><circle cx="566.5" cy="1261.9" r="3.55"/><circle cx="558.2" cy="1272.3" r="3.55"/><circle cx="573.8" cy="1275.9" r="3.55"/><circle cx="553.4" cy="1288.0" r="3.55"/><circle cx="569.3" cy="1291.1" r="3.55"/><circle cx="561.0" cy="1301.5" r="3.55"/><circle cx="576.6" cy="1305.1" r="3.55"/><circle cx="556.2" cy="1317.2" r="3.55"/><circle cx="572.1" cy="1320.3" r="3.55"/><circle cx="563.8" cy="1330.8" r="3.55"/><circle cx="579.4" cy="1334.3" r="3.55"/><circle cx="559.0" cy="1346.5" r="3.55"/><circle cx="574.9" cy="1349.5" r="3.55"/><circle cx="566.6" cy="1360.0" r="3.55"/><circle cx="582.2" cy="1363.5" r="3.55"/><circle cx="561.8" cy="1375.6" r="3.55"/><circle cx="577.7" cy="1378.7" r="3.55"/><circle cx="569.4" cy="1389.1" r="3.55"/><circle cx="585.0" cy="1392.7" r="3.55"/><circle cx="564.6" cy="1404.8" r="3.55"/><circle cx="580.5" cy="1407.9" r="3.55"/><circle cx="572.2" cy="1418.3" r="3.55"/><circle cx="587.8" cy="1421.9" r="3.55"/><circle cx="567.4" cy="1434.0" r="3.55"/><circle cx="583.3" cy="1437.1" r="3.55"/><circle cx="575.0" cy="1447.5" r="3.55"/><circle cx="590.6" cy="1451.1" r="3.55"/><circle cx="576.7" cy="1054.6" r="3.55"/><circle cx="568.4" cy="1065.0" r="3.55"/><circle cx="584.0" cy="1068.6" r="3.55"/><circle cx="563.6" cy="1080.7" r="3.55"/><circle cx="579.5" cy="1083.8" r="3.55"/><circle cx="571.2" cy="1094.2" r="3.55"/><circle cx="586.8" cy="1097.8" r="3.55"/><circle cx="566.4" cy="1109.9" r="3.55"/><circle cx="582.3" cy="1113.0" r="3.55"/><circle cx="574.0" cy="1123.4" r="3.55"/><circle cx="589.6" cy="1127.0" r="3.55"/><circle cx="569.2" cy="1139.1" r="3.55"/><circle cx="585.1" cy="1142.2" r="3.55"/><circle cx="576.8" cy="1152.6" r="3.55"/><circle cx="592.4" cy="1156.2" r="3.55"/><circle cx="572.0" cy="1168.3" r="3.55"/><circle cx="587.9" cy="1171.4" r="3.55"/><circle cx="579.6" cy="1181.8" r="3.55"/><circle cx="595.2" cy="1185.4" r="3.55"/><circle cx="574.8" cy="1197.5" r="3.55"/><circle cx="590.7" cy="1200.6" r="3.55"/><circle cx="582.4" cy="1211.0" r="3.55"/><circle cx="598.0" cy="1214.6" r="3.55"/><circle cx="577.6" cy="1226.7" r="3.55"/><circle cx="593.5" cy="1229.8" r="3.55"/><circle cx="585.2" cy="1240.2" r="3.55"/><circle cx="580.4" cy="1255.9" r="3.55"/><circle cx="596.3" cy="1259.0" r="3.55"/><circle cx="588.0" cy="1269.4" r="3.55"/><circle cx="583.2" cy="1285.1" r="3.55"/><circle cx="590.8" cy="1298.6" r="3.55"/><circle cx="586.0" cy="1314.3" r="3.55"/><circle cx="593.6" cy="1327.8" r="3.55"/><circle cx="588.8" cy="1343.5" r="3.55"/><circle cx="596.4" cy="1357.0" r="3.55"/><circle cx="591.6" cy="1372.7" r="3.55"/><circle cx="594.4" cy="1401.9" r="3.55"/><circle cx="598.1" cy="1062.1" r="3.55"/><circle cx="613.7" cy="1065.7" r="3.55"/><circle cx="593.3" cy="1077.8" r="3.55"/><circle cx="609.2" cy="1080.8" r="3.55"/><circle cx="600.9" cy="1091.2" r="3.55"/><circle cx="616.5" cy="1094.8" r="3.55"/><circle cx="596.1" cy="1107.0" r="3.55"/><circle cx="612.0" cy="1110.0" r="3.55"/><circle cx="603.7" cy="1120.5" r="3.55"/><circle cx="619.3" cy="1124.0" r="3.55"/><circle cx="598.9" cy="1136.2" r="3.55"/><circle cx="614.8" cy="1139.2" r="3.55"/><circle cx="606.5" cy="1149.7" r="3.55"/><circle cx="622.1" cy="1153.2" r="3.55"/><circle cx="601.7" cy="1165.4" r="3.55"/><circle cx="617.6" cy="1168.5" r="3.55"/><circle cx="609.3" cy="1178.9" r="3.55"/><circle cx="624.9" cy="1182.5" r="3.55"/><circle cx="604.5" cy="1194.6" r="3.55"/><circle cx="620.4" cy="1197.7" r="3.55"/><circle cx="612.1" cy="1208.1" r="3.55"/><circle cx="627.7" cy="1211.7" r="3.55"/><circle cx="607.3" cy="1223.8" r="3.55"/><circle cx="623.2" cy="1226.8" r="3.55"/><circle cx="627.9" cy="1059.1" r="3.55"/><circle cx="643.5" cy="1062.7" r="3.55"/><circle cx="623.1" cy="1074.8" r="3.55"/><circle cx="639.0" cy="1077.9" r="3.55"/><circle cx="630.7" cy="1088.3" r="3.55"/><circle cx="646.3" cy="1091.9" r="3.55"/><circle cx="625.9" cy="1104.0" r="3.55"/><circle cx="641.8" cy="1107.1" r="3.55"/><circle cx="633.5" cy="1117.5" r="3.55"/><circle cx="649.1" cy="1121.1" r="3.55"/><circle cx="628.7" cy="1133.2" r="3.55"/><circle cx="644.6" cy="1136.3" r="3.55"/><circle cx="636.3" cy="1146.7" r="3.55"/><circle cx="651.9" cy="1150.3" r="3.55"/><circle cx="631.5" cy="1162.4" r="3.55"/><circle cx="647.4" cy="1165.5" r="3.55"/><circle cx="639.1" cy="1175.9" r="3.55"/><circle cx="654.7" cy="1179.5" r="3.55"/><circle cx="634.3" cy="1191.6" r="3.55"/><circle cx="650.2" cy="1194.7" r="3.55"/><circle cx="641.9" cy="1205.1" r="3.55"/><circle cx="657.5" cy="1208.7" r="3.55"/><circle cx="637.1" cy="1220.8" r="3.55"/><circle cx="653.0" cy="1223.9" r="3.55"/><circle cx="657.6" cy="1056.2" r="3.55"/><circle cx="673.2" cy="1059.8" r="3.55"/><circle cx="652.8" cy="1071.8" r="3.55"/><circle cx="668.7" cy="1074.9" r="3.55"/><circle cx="660.4" cy="1085.3" r="3.55"/><circle cx="676.0" cy="1088.9" r="3.55"/><circle cx="655.6" cy="1101.0" r="3.55"/><circle cx="671.5" cy="1104.1" r="3.55"/><circle cx="663.2" cy="1114.5" r="3.55"/><circle cx="678.8" cy="1118.1" r="3.55"/><circle cx="658.4" cy="1130.2" r="3.55"/><circle cx="674.3" cy="1133.3" r="3.55"/><circle cx="666.0" cy="1143.8" r="3.55"/><circle cx="681.6" cy="1147.3" r="3.55"/><circle cx="661.2" cy="1159.5" r="3.55"/><circle cx="677.1" cy="1162.5" r="3.55"/><circle cx="668.8" cy="1173.0" r="3.55"/><circle cx="684.4" cy="1176.5" r="3.55"/><circle cx="664.0" cy="1188.7" r="3.55"/><circle cx="679.9" cy="1191.8" r="3.55"/><circle cx="671.6" cy="1202.2" r="3.55"/><circle cx="687.2" cy="1205.8" r="3.55"/><circle cx="666.8" cy="1217.8" r="3.55"/><circle cx="682.7" cy="1220.9" r="3.55"/><circle cx="674.4" cy="1231.3" r="3.55"/><circle cx="687.3" cy="1053.2" r="3.55"/><circle cx="702.9" cy="1056.8" r="3.55"/><circle cx="682.5" cy="1068.9" r="3.55"/><circle cx="698.4" cy="1072.0" r="3.55"/><circle cx="690.1" cy="1082.4" r="3.55"/><circle cx="705.7" cy="1086.0" r="3.55"/><circle cx="685.3" cy="1098.1" r="3.55"/><circle cx="701.2" cy="1101.2" r="3.55"/><circle cx="692.9" cy="1111.6" r="3.55"/><circle cx="708.5" cy="1115.2" r="3.55"/><circle cx="688.1" cy="1127.3" r="3.55"/><circle cx="704.0" cy="1130.4" r="3.55"/><circle cx="695.7" cy="1140.8" r="3.55"/><circle cx="711.3" cy="1144.4" r="3.55"/><circle cx="690.9" cy="1156.5" r="3.55"/><circle cx="706.8" cy="1159.6" r="3.55"/><circle cx="698.5" cy="1170.0" r="3.55"/><circle cx="714.1" cy="1173.6" r="3.55"/><circle cx="693.7" cy="1185.7" r="3.55"/><circle cx="709.6" cy="1188.8" r="3.55"/><circle cx="701.3" cy="1199.2" r="3.55"/><circle cx="716.9" cy="1202.8" r="3.55"/><circle cx="696.5" cy="1214.9" r="3.55"/><circle cx="712.4" cy="1218.0" r="3.55"/><circle cx="704.1" cy="1228.4" r="3.55"/><circle cx="719.7" cy="1232.0" r="3.55"/><circle cx="732.7" cy="1053.8" r="3.55"/><circle cx="712.3" cy="1065.9" r="3.55"/><circle cx="728.2" cy="1069.0" r="3.55"/><circle cx="719.9" cy="1079.4" r="3.55"/><circle cx="735.5" cy="1083.0" r="3.55"/><circle cx="715.1" cy="1095.1" r="3.55"/><circle cx="731.0" cy="1098.2" r="3.55"/><circle cx="722.7" cy="1108.6" r="3.55"/><circle cx="738.3" cy="1112.2" r="3.55"/><circle cx="717.9" cy="1124.3" r="3.55"/><circle cx="733.8" cy="1127.4" r="3.55"/><circle cx="725.5" cy="1137.8" r="3.55"/><circle cx="741.1" cy="1141.4" r="3.55"/><circle cx="720.7" cy="1153.5" r="3.55"/><circle cx="736.6" cy="1156.6" r="3.55"/><circle cx="728.3" cy="1167.0" r="3.55"/><circle cx="743.9" cy="1170.6" r="3.55"/><circle cx="723.5" cy="1182.8" r="3.55"/><circle cx="739.4" cy="1185.8" r="3.55"/><circle cx="731.1" cy="1196.2" r="3.55"/><circle cx="746.7" cy="1199.8" r="3.55"/><circle cx="726.3" cy="1211.9" r="3.55"/><circle cx="742.2" cy="1215.0" r="3.55"/><circle cx="733.9" cy="1225.4" r="3.55"/><circle cx="749.5" cy="1229.0" r="3.55"/><circle cx="742.0" cy="1063.0" r="3.55"/><circle cx="757.9" cy="1066.1" r="3.55"/><circle cx="749.6" cy="1076.5" r="3.55"/><circle cx="765.2" cy="1080.1" r="3.55"/><circle cx="744.8" cy="1092.2" r="3.55"/><circle cx="760.7" cy="1095.3" r="3.55"/><circle cx="752.4" cy="1105.7" r="3.55"/><circle cx="768.0" cy="1109.3" r="3.55"/><circle cx="747.6" cy="1121.4" r="3.55"/><circle cx="763.5" cy="1124.5" r="3.55"/><circle cx="755.2" cy="1134.9" r="3.55"/><circle cx="770.8" cy="1138.5" r="3.55"/><circle cx="750.4" cy="1150.6" r="3.55"/><circle cx="766.3" cy="1153.7" r="3.55"/><circle cx="758.0" cy="1164.1" r="3.55"/><circle cx="773.6" cy="1167.7" r="3.55"/><circle cx="753.2" cy="1179.8" r="3.55"/><circle cx="769.1" cy="1182.9" r="3.55"/><circle cx="760.8" cy="1193.3" r="3.55"/><circle cx="776.4" cy="1196.9" r="3.55"/><circle cx="756.0" cy="1209.0" r="3.55"/><circle cx="771.9" cy="1212.1" r="3.55"/><circle cx="763.6" cy="1222.5" r="3.55"/><circle cx="779.2" cy="1226.1" r="3.55"/><circle cx="771.8" cy="1060.0" r="3.55"/><circle cx="787.7" cy="1063.1" r="3.55"/><circle cx="779.4" cy="1073.5" r="3.55"/><circle cx="795.0" cy="1077.1" r="3.55"/><circle cx="774.6" cy="1089.2" r="3.55"/><circle cx="790.5" cy="1092.3" r="3.55"/><circle cx="782.2" cy="1102.8" r="3.55"/><circle cx="797.8" cy="1106.3" r="3.55"/><circle cx="777.4" cy="1118.5" r="3.55"/><circle cx="793.3" cy="1121.5" r="3.55"/><circle cx="785.0" cy="1132.0" r="3.55"/><circle cx="800.6" cy="1135.5" r="3.55"/><circle cx="780.2" cy="1147.7" r="3.55"/><circle cx="796.1" cy="1150.8" r="3.55"/><circle cx="787.8" cy="1161.2" r="3.55"/><circle cx="803.4" cy="1164.8" r="3.55"/><circle cx="783.0" cy="1176.9" r="3.55"/><circle cx="798.9" cy="1180.0" r="3.55"/><circle cx="790.6" cy="1190.4" r="3.55"/><circle cx="806.2" cy="1194.0" r="3.55"/><circle cx="785.8" cy="1206.0" r="3.55"/><circle cx="801.7" cy="1209.1" r="3.55"/><circle cx="793.4" cy="1219.5" r="3.55"/><circle cx="809.0" cy="1223.1" r="3.55"/><circle cx="801.5" cy="1057.1" r="3.55"/><circle cx="817.4" cy="1060.2" r="3.55"/><circle cx="809.1" cy="1070.6" r="3.55"/><circle cx="804.3" cy="1086.3" r="3.55"/><circle cx="811.9" cy="1099.8" r="3.55"/><circle cx="807.1" cy="1115.5" r="3.55"/><circle cx="814.7" cy="1129.0" r="3.55"/><circle cx="809.9" cy="1144.7" r="3.55"/><circle cx="817.5" cy="1158.2" r="3.55"/><circle cx="812.7" cy="1173.9" r="3.55"/><circle cx="815.5" cy="1203.1" r="3.55"/><circle cx="818.3" cy="1232.3" r="3.55"/></g>
<g clip-path="url(#cie)">
<rect x="593.1" y="1229.7" width="219.79999999999995" height="217.89999999999986" fill="url(#rge)"/>
<g fill="url(#spot)"><circle cx="591.2" cy="1335.9" r="5" opacity="1.00"/><circle cx="594.8" cy="1357.4" r="5" opacity="1.00"/><circle cx="598.4" cy="1378.9" r="5" opacity="1.00"/><circle cx="602.0" cy="1400.4" r="5" opacity="1.00"/><circle cx="605.6" cy="1421.9" r="5" opacity="1.00"/><circle cx="609.2" cy="1443.4" r="5" opacity="1.00"/><circle cx="594.7" cy="1224.8" r="5" opacity="1.00"/><circle cx="598.3" cy="1246.3" r="5" opacity="1.00"/><circle cx="601.9" cy="1267.8" r="5" opacity="1.00"/><circle cx="605.5" cy="1289.3" r="5" opacity="1.00"/><circle cx="609.1" cy="1310.8" r="5" opacity="1.00"/><circle cx="612.7" cy="1332.3" r="5" opacity="1.00"/><circle cx="616.3" cy="1353.8" r="5" opacity="1.00"/><circle cx="619.9" cy="1375.3" r="5" opacity="1.00"/><circle cx="623.5" cy="1396.8" r="5" opacity="1.00"/><circle cx="627.1" cy="1418.3" r="5" opacity="1.00"/><circle cx="630.7" cy="1439.8" r="5" opacity="1.00"/><circle cx="619.8" cy="1242.7" r="5" opacity="1.00"/><circle cx="623.4" cy="1264.2" r="5" opacity="1.00"/><circle cx="627.0" cy="1285.7" r="5" opacity="1.00"/><circle cx="630.6" cy="1307.2" r="5" opacity="1.00"/><circle cx="634.2" cy="1328.7" r="5" opacity="1.00"/><circle cx="637.8" cy="1350.2" r="5" opacity="1.00"/><circle cx="641.4" cy="1371.7" r="5" opacity="1.00"/><circle cx="645.0" cy="1393.2" r="5" opacity="1.00"/><circle cx="648.6" cy="1414.7" r="5" opacity="1.00"/><circle cx="652.2" cy="1436.2" r="5" opacity="1.00"/><circle cx="641.3" cy="1239.1" r="5" opacity="1.00"/><circle cx="644.9" cy="1260.6" r="5" opacity="1.00"/><circle cx="648.5" cy="1282.1" r="5" opacity="1.00"/><circle cx="652.1" cy="1303.6" r="5" opacity="1.00"/><circle cx="655.7" cy="1325.1" r="5" opacity="0.90"/><circle cx="659.3" cy="1346.6" r="5" opacity="0.82"/><circle cx="662.9" cy="1368.1" r="5" opacity="0.90"/><circle cx="666.5" cy="1389.6" r="5" opacity="1.00"/><circle cx="670.1" cy="1411.1" r="5" opacity="1.00"/><circle cx="673.7" cy="1432.6" r="5" opacity="1.00"/><circle cx="662.8" cy="1235.5" r="5" opacity="1.00"/><circle cx="666.4" cy="1257.0" r="5" opacity="1.00"/><circle cx="670.0" cy="1278.5" r="5" opacity="1.00"/><circle cx="673.6" cy="1300.0" r="5" opacity="0.90"/><circle cx="677.2" cy="1321.5" r="5" opacity="0.64"/><circle cx="680.8" cy="1343.0" r="5" opacity="0.51"/><circle cx="684.4" cy="1364.5" r="5" opacity="0.64"/><circle cx="688.0" cy="1386.0" r="5" opacity="0.90"/><circle cx="691.6" cy="1407.5" r="5" opacity="1.00"/><circle cx="695.2" cy="1429.0" r="5" opacity="1.00"/><circle cx="698.8" cy="1450.5" r="5" opacity="1.00"/><circle cx="684.3" cy="1231.9" r="5" opacity="1.00"/><circle cx="687.9" cy="1253.4" r="5" opacity="1.00"/><circle cx="691.5" cy="1274.9" r="5" opacity="1.00"/><circle cx="695.1" cy="1296.4" r="5" opacity="0.82"/><circle cx="698.7" cy="1317.9" r="5" opacity="0.51"/><circle cx="705.9" cy="1360.9" r="5" opacity="0.51"/><circle cx="709.5" cy="1382.4" r="5" opacity="0.82"/><circle cx="713.1" cy="1403.9" r="5" opacity="1.00"/><circle cx="716.7" cy="1425.4" r="5" opacity="1.00"/><circle cx="720.3" cy="1446.9" r="5" opacity="1.00"/><circle cx="705.8" cy="1228.3" r="5" opacity="1.00"/><circle cx="709.4" cy="1249.8" r="5" opacity="1.00"/><circle cx="713.0" cy="1271.3" r="5" opacity="1.00"/><circle cx="716.6" cy="1292.8" r="5" opacity="0.90"/><circle cx="720.2" cy="1314.3" r="5" opacity="0.64"/><circle cx="723.8" cy="1335.8" r="5" opacity="0.51"/><circle cx="727.4" cy="1357.3" r="5" opacity="0.64"/><circle cx="731.0" cy="1378.8" r="5" opacity="0.90"/><circle cx="734.6" cy="1400.3" r="5" opacity="1.00"/><circle cx="738.2" cy="1421.8" r="5" opacity="1.00"/><circle cx="741.8" cy="1443.3" r="5" opacity="1.00"/><circle cx="730.9" cy="1246.2" r="5" opacity="1.00"/><circle cx="734.5" cy="1267.7" r="5" opacity="1.00"/><circle cx="738.1" cy="1289.2" r="5" opacity="1.00"/><circle cx="741.7" cy="1310.7" r="5" opacity="0.90"/><circle cx="745.3" cy="1332.2" r="5" opacity="0.82"/><circle cx="748.9" cy="1353.7" r="5" opacity="0.90"/><circle cx="752.5" cy="1375.2" r="5" opacity="1.00"/><circle cx="756.1" cy="1396.7" r="5" opacity="1.00"/><circle cx="759.7" cy="1418.2" r="5" opacity="1.00"/><circle cx="763.3" cy="1439.7" r="5" opacity="1.00"/><circle cx="752.4" cy="1242.6" r="5" opacity="1.00"/><circle cx="756.0" cy="1264.1" r="5" opacity="1.00"/><circle cx="759.6" cy="1285.6" r="5" opacity="1.00"/><circle cx="763.2" cy="1307.1" r="5" opacity="1.00"/><circle cx="766.8" cy="1328.6" r="5" opacity="1.00"/><circle cx="770.4" cy="1350.1" r="5" opacity="1.00"/><circle cx="774.0" cy="1371.6" r="5" opacity="1.00"/><circle cx="777.6" cy="1393.1" r="5" opacity="1.00"/><circle cx="781.2" cy="1414.6" r="5" opacity="1.00"/><circle cx="784.8" cy="1436.1" r="5" opacity="1.00"/><circle cx="773.9" cy="1239.0" r="5" opacity="1.00"/><circle cx="777.5" cy="1260.5" r="5" opacity="1.00"/><circle cx="781.1" cy="1282.0" r="5" opacity="1.00"/><circle cx="784.7" cy="1303.5" r="5" opacity="1.00"/><circle cx="788.3" cy="1325.0" r="5" opacity="1.00"/><circle cx="791.9" cy="1346.5" r="5" opacity="1.00"/><circle cx="795.5" cy="1368.0" r="5" opacity="1.00"/><circle cx="799.1" cy="1389.5" r="5" opacity="1.00"/><circle cx="802.7" cy="1411.0" r="5" opacity="1.00"/><circle cx="806.3" cy="1432.5" r="5" opacity="1.00"/><circle cx="795.4" cy="1235.4" r="5" opacity="1.00"/><circle cx="799.0" cy="1256.9" r="5" opacity="1.00"/><circle cx="802.6" cy="1278.4" r="5" opacity="1.00"/><circle cx="806.2" cy="1299.9" r="5" opacity="1.00"/><circle cx="809.8" cy="1321.4" r="5" opacity="1.00"/><circle cx="813.4" cy="1342.9" r="5" opacity="1.00"/><circle cx="817.0" cy="1364.4" r="5" opacity="1.00"/><circle cx="816.9" cy="1231.8" r="5" opacity="1.00"/></g>
</g>
<rect x="428.3" y="1055.2" width="387.59999999999997" height="394.79999999999995" fill="none" stroke="#000" stroke-width="2.5"/>
<rect x="444.1" y="1089.05" width="26" height="6.1" fill="#9b5e2a"/>
<text x="458.1" y="1086.0" font-size="26" text-anchor="middle" font-weight="normal" font-style="italic" fill="#8a4a1c" font-family="'Liberation Serif', 'DejaVu Serif', serif">σ</text>
<text x="756.2" y="1105.2" font-size="29" text-anchor="start" font-weight="normal" font-style="normal" fill="#000" font-family="'Liberation Sans', sans-serif">Sig</text>
</g>
<g id="pf">
<rect x="853.4" y="1056.2" width="393.30000000000007" height="393.5" fill="#fff"/>
<path d="M942.6 1152.0 L960.3 1157.5 L961.0 1170.6 L943.4 1165.1Z" fill="#f2a9a9" stroke="#c8202e" stroke-width="2.3" stroke-linejoin="miter"/>
<g fill="#2aa83a" clip-path="url(#clf)"><circle cx="849.9" cy="1341.4" r="3.55"/><circle cx="850.7" cy="1354.4" r="3.55"/><circle cx="851.5" cy="1367.5" r="3.55"/><circle cx="852.2" cy="1380.6" r="3.55"/><circle cx="853.0" cy="1393.7" r="3.55"/><circle cx="853.8" cy="1406.8" r="3.55"/><circle cx="854.6" cy="1419.8" r="3.55"/><circle cx="855.4" cy="1432.9" r="3.55"/><circle cx="856.1" cy="1446.0" r="3.55"/><circle cx="850.4" cy="1059.1" r="3.55"/><circle cx="851.2" cy="1072.2" r="3.55"/><circle cx="852.0" cy="1085.3" r="3.55"/><circle cx="852.7" cy="1098.3" r="3.55"/><circle cx="853.5" cy="1111.4" r="3.55"/><circle cx="854.3" cy="1124.5" r="3.55"/><circle cx="855.1" cy="1137.6" r="3.55"/><circle cx="855.9" cy="1150.7" r="3.55"/><circle cx="856.6" cy="1163.7" r="3.55"/><circle cx="857.4" cy="1176.8" r="3.55"/><circle cx="858.2" cy="1189.9" r="3.55"/><circle cx="859.0" cy="1203.0" r="3.55"/><circle cx="859.8" cy="1216.1" r="3.55"/><circle cx="860.5" cy="1229.1" r="3.55"/><circle cx="861.3" cy="1242.2" r="3.55"/><circle cx="862.1" cy="1255.3" r="3.55"/><circle cx="862.9" cy="1268.4" r="3.55"/><circle cx="863.7" cy="1281.5" r="3.55"/><circle cx="864.4" cy="1294.5" r="3.55"/><circle cx="865.2" cy="1307.6" r="3.55"/><circle cx="866.0" cy="1320.7" r="3.55"/><circle cx="866.8" cy="1333.8" r="3.55"/><circle cx="867.6" cy="1346.9" r="3.55"/><circle cx="868.3" cy="1359.9" r="3.55"/><circle cx="869.1" cy="1373.0" r="3.55"/><circle cx="869.9" cy="1386.1" r="3.55"/><circle cx="870.7" cy="1399.2" r="3.55"/><circle cx="871.5" cy="1412.3" r="3.55"/><circle cx="872.2" cy="1425.3" r="3.55"/><circle cx="873.0" cy="1438.4" r="3.55"/><circle cx="873.8" cy="1451.5" r="3.55"/><circle cx="868.1" cy="1064.6" r="3.55"/><circle cx="868.8" cy="1077.7" r="3.55"/><circle cx="869.6" cy="1090.8" r="3.55"/><circle cx="870.4" cy="1103.8" r="3.55"/><circle cx="871.2" cy="1116.9" r="3.55"/><circle cx="872.0" cy="1130.0" r="3.55"/><circle cx="872.7" cy="1143.1" r="3.55"/><circle cx="873.5" cy="1156.2" r="3.55"/><circle cx="874.3" cy="1169.2" r="3.55"/><circle cx="875.1" cy="1182.3" r="3.55"/><circle cx="875.9" cy="1195.4" r="3.55"/><circle cx="876.6" cy="1208.5" r="3.55"/><circle cx="877.4" cy="1221.6" r="3.55"/><circle cx="878.2" cy="1234.6" r="3.55"/><circle cx="879.0" cy="1247.7" r="3.55"/><circle cx="879.8" cy="1260.8" r="3.55"/><circle cx="880.5" cy="1273.9" r="3.55"/><circle cx="881.3" cy="1287.0" r="3.55"/><circle cx="882.1" cy="1300.0" r="3.55"/><circle cx="882.9" cy="1313.1" r="3.55"/><circle cx="883.7" cy="1326.2" r="3.55"/><circle cx="884.4" cy="1339.3" r="3.55"/><circle cx="885.2" cy="1352.4" r="3.55"/><circle cx="886.0" cy="1365.4" r="3.55"/><circle cx="886.8" cy="1378.5" r="3.55"/><circle cx="887.6" cy="1391.6" r="3.55"/><circle cx="888.3" cy="1404.7" r="3.55"/><circle cx="889.1" cy="1417.8" r="3.55"/><circle cx="889.9" cy="1430.8" r="3.55"/><circle cx="890.7" cy="1443.9" r="3.55"/><circle cx="884.9" cy="1057.0" r="3.55"/><circle cx="885.7" cy="1070.1" r="3.55"/><circle cx="886.5" cy="1083.2" r="3.55"/><circle cx="887.3" cy="1096.3" r="3.55"/><circle cx="888.1" cy="1109.3" r="3.55"/><circle cx="888.8" cy="1122.4" r="3.55"/><circle cx="889.6" cy="1135.5" r="3.55"/><circle cx="890.4" cy="1148.6" r="3.55"/><circle cx="891.2" cy="1161.7" r="3.55"/><circle cx="892.0" cy="1174.7" r="3.55"/><circle cx="892.7" cy="1187.8" r="3.55"/><circle cx="893.5" cy="1200.9" r="3.55"/><circle cx="894.3" cy="1214.0" r="3.55"/><circle cx="895.1" cy="1227.1" r="3.55"/><circle cx="895.9" cy="1240.1" r="3.55"/><circle cx="896.6" cy="1253.2" r="3.55"/><circle cx="897.4" cy="1266.3" r="3.55"/><circle cx="898.2" cy="1279.4" r="3.55"/><circle cx="899.0" cy="1292.5" r="3.55"/><circle cx="899.8" cy="1305.5" r="3.55"/><circle cx="900.5" cy="1318.6" r="3.55"/><circle cx="901.3" cy="1331.7" r="3.55"/><circle cx="902.1" cy="1344.8" r="3.55"/><circle cx="902.9" cy="1357.9" r="3.55"/><circle cx="903.7" cy="1370.9" r="3.55"/><circle cx="904.4" cy="1384.0" r="3.55"/><circle cx="905.2" cy="1397.1" r="3.55"/><circle cx="906.0" cy="1410.2" r="3.55"/><circle cx="906.8" cy="1423.3" r="3.55"/><circle cx="907.6" cy="1436.3" r="3.55"/><circle cx="908.3" cy="1449.4" r="3.55"/><circle cx="902.6" cy="1062.5" r="3.55"/><circle cx="903.4" cy="1075.6" r="3.55"/><circle cx="904.2" cy="1088.7" r="3.55"/><circle cx="904.9" cy="1101.8" r="3.55"/><circle cx="905.7" cy="1114.8" r="3.55"/><circle cx="906.5" cy="1127.9" r="3.55"/><circle cx="907.3" cy="1141.0" r="3.55"/><circle cx="908.1" cy="1154.1" r="3.55"/><circle cx="908.8" cy="1167.2" r="3.55"/><circle cx="909.6" cy="1180.2" r="3.55"/><circle cx="910.4" cy="1193.3" r="3.55"/><circle cx="911.2" cy="1206.4" r="3.55"/><circle cx="912.0" cy="1219.5" r="3.55"/><circle cx="912.7" cy="1232.6" r="3.55"/><circle cx="913.5" cy="1245.6" r="3.55"/><circle cx="914.3" cy="1258.7" r="3.55"/><circle cx="915.1" cy="1271.8" r="3.55"/><circle cx="915.9" cy="1284.9" r="3.55"/><circle cx="916.6" cy="1298.0" r="3.55"/><circle cx="917.4" cy="1311.0" r="3.55"/><circle cx="918.2" cy="1324.1" r="3.55"/><circle cx="919.0" cy="1337.2" r="3.55"/><circle cx="919.8" cy="1350.3" r="3.55"/><circle cx="920.5" cy="1363.4" r="3.55"/><circle cx="921.3" cy="1376.4" r="3.55"/><circle cx="922.1" cy="1389.5" r="3.55"/><circle cx="922.9" cy="1402.6" r="3.55"/><circle cx="923.7" cy="1415.7" r="3.55"/><circle cx="924.4" cy="1428.8" r="3.55"/><circle cx="925.2" cy="1441.8" r="3.55"/><circle cx="919.5" cy="1054.9" r="3.55"/><circle cx="920.3" cy="1068.0" r="3.55"/><circle cx="921.0" cy="1081.1" r="3.55"/><circle cx="921.8" cy="1094.2" r="3.55"/><circle cx="922.6" cy="1107.3" r="3.55"/><circle cx="923.4" cy="1120.3" r="3.55"/><circle cx="924.2" cy="1133.4" r="3.55"/><circle cx="924.9" cy="1146.5" r="3.55"/><circle cx="925.7" cy="1159.6" r="3.55"/><circle cx="926.5" cy="1172.7" r="3.55"/><circle cx="927.3" cy="1185.7" r="3.55"/><circle cx="928.1" cy="1198.8" r="3.55"/><circle cx="928.8" cy="1211.9" r="3.55"/><circle cx="929.6" cy="1225.0" r="3.55"/><circle cx="930.4" cy="1238.1" r="3.55"/><circle cx="931.2" cy="1251.1" r="3.55"/><circle cx="932.0" cy="1264.2" r="3.55"/><circle cx="932.7" cy="1277.3" r="3.55"/><circle cx="933.5" cy="1290.4" r="3.55"/><circle cx="934.3" cy="1303.5" r="3.55"/><circle cx="935.1" cy="1316.5" r="3.55"/><circle cx="935.9" cy="1329.6" r="3.55"/><circle cx="936.6" cy="1342.7" r="3.55"/><circle cx="937.4" cy="1355.8" r="3.55"/><circle cx="938.2" cy="1368.9" r="3.55"/><circle cx="939.0" cy="1381.9" r="3.55"/><circle cx="939.8" cy="1395.0" r="3.55"/><circle cx="940.5" cy="1408.1" r="3.55"/><circle cx="941.3" cy="1421.2" r="3.55"/><circle cx="942.1" cy="1434.3" r="3.55"/><circle cx="942.9" cy="1447.3" r="3.55"/><circle cx="937.1" cy="1060.4" r="3.55"/><circle cx="937.9" cy="1073.5" r="3.55"/><circle cx="938.7" cy="1086.6" r="3.55"/><circle cx="939.5" cy="1099.7" r="3.55"/><circle cx="940.3" cy="1112.8" r="3.55"/><circle cx="941.0" cy="1125.8" r="3.55"/><circle cx="941.8" cy="1138.9" r="3.55"/><circle cx="942.6" cy="1152.0" r="3.55"/><circle cx="943.4" cy="1165.1" r="3.55"/><circle cx="944.2" cy="1178.2" r="3.55"/><circle cx="944.9" cy="1191.2" r="3.55"/><circle cx="945.7" cy="1204.3" r="3.55"/><circle cx="946.5" cy="1217.4" r="3.55"/><circle cx="947.3" cy="1230.5" r="3.55"/><circle cx="948.1" cy="1243.6" r="3.55"/><circle cx="948.8" cy="1256.6" r="3.55"/><circle cx="949.6" cy="1269.7" r="3.55"/><circle cx="950.4" cy="1282.8" r="3.55"/><circle cx="951.2" cy="1295.9" r="3.55"/><circle cx="952.0" cy="1309.0" r="3.55"/><circle cx="952.7" cy="1322.0" r="3.55"/><circle cx="953.5" cy="1335.1" r="3.55"/><circle cx="954.3" cy="1348.2" r="3.55"/><circle cx="955.1" cy="1361.3" r="3.55"/><circle cx="955.9" cy="1374.4" r="3.55"/><circle cx="956.6" cy="1387.4" r="3.55"/><circle cx="957.4" cy="1400.5" r="3.55"/><circle cx="958.2" cy="1413.6" r="3.55"/><circle cx="959.0" cy="1426.7" r="3.55"/><circle cx="959.8" cy="1439.8" r="3.55"/><circle cx="960.5" cy="1452.8" r="3.55"/><circle cx="954.0" cy="1052.9" r="3.55"/><circle cx="954.8" cy="1065.9" r="3.55"/><circle cx="955.6" cy="1079.0" r="3.55"/><circle cx="956.4" cy="1092.1" r="3.55"/><circle cx="957.1" cy="1105.2" r="3.55"/><circle cx="957.9" cy="1118.3" r="3.55"/><circle cx="958.7" cy="1131.3" r="3.55"/><circle cx="959.5" cy="1144.4" r="3.55"/><circle cx="960.3" cy="1157.5" r="3.55"/><circle cx="961.0" cy="1170.6" r="3.55"/><circle cx="961.8" cy="1183.7" r="3.55"/><circle cx="962.6" cy="1196.7" r="3.55"/><circle cx="963.4" cy="1209.8" r="3.55"/><circle cx="964.2" cy="1222.9" r="3.55"/><circle cx="964.9" cy="1236.0" r="3.55"/><circle cx="965.7" cy="1249.1" r="3.55"/><circle cx="966.5" cy="1262.1" r="3.55"/><circle cx="967.3" cy="1275.2" r="3.55"/><circle cx="968.1" cy="1288.3" r="3.55"/><circle cx="968.8" cy="1301.4" r="3.55"/><circle cx="969.6" cy="1314.5" r="3.55"/><circle cx="970.4" cy="1327.5" r="3.55"/><circle cx="971.2" cy="1340.6" r="3.55"/><circle cx="972.0" cy="1353.7" r="3.55"/><circle cx="972.7" cy="1366.8" r="3.55"/><circle cx="973.5" cy="1379.9" r="3.55"/><circle cx="974.3" cy="1392.9" r="3.55"/><circle cx="975.1" cy="1406.0" r="3.55"/><circle cx="975.9" cy="1419.1" r="3.55"/><circle cx="976.6" cy="1432.2" r="3.55"/><circle cx="977.4" cy="1445.3" r="3.55"/><circle cx="971.7" cy="1058.4" r="3.55"/><circle cx="972.5" cy="1071.4" r="3.55"/><circle cx="973.2" cy="1084.5" r="3.55"/><circle cx="974.0" cy="1097.6" r="3.55"/><circle cx="974.8" cy="1110.7" r="3.55"/><circle cx="975.6" cy="1123.8" r="3.55"/><circle cx="976.4" cy="1136.8" r="3.55"/><circle cx="977.1" cy="1149.9" r="3.55"/><circle cx="977.9" cy="1163.0" r="3.55"/><circle cx="978.7" cy="1176.1" r="3.55"/><circle cx="979.5" cy="1189.2" r="3.55"/><circle cx="980.3" cy="1202.2" r="3.55"/><circle cx="981.0" cy="1215.3" r="3.55"/><circle cx="981.8" cy="1228.4" r="3.55"/><circle cx="982.6" cy="1241.5" r="3.55"/><circle cx="983.4" cy="1254.6" r="3.55"/><circle cx="984.2" cy="1267.6" r="3.55"/><circle cx="984.9" cy="1280.7" r="3.55"/><circle cx="985.7" cy="1293.8" r="3.55"/><circle cx="986.5" cy="1306.9" r="3.55"/><circle cx="987.3" cy="1320.0" r="3.55"/><circle cx="988.1" cy="1333.0" r="3.55"/><circle cx="988.8" cy="1346.1" r="3.55"/><circle cx="989.6" cy="1359.2" r="3.55"/><circle cx="990.4" cy="1372.3" r="3.55"/><circle cx="991.2" cy="1385.4" r="3.55"/><circle cx="992.0" cy="1398.4" r="3.55"/><circle cx="992.7" cy="1411.5" r="3.55"/><circle cx="993.5" cy="1424.6" r="3.55"/><circle cx="994.3" cy="1437.7" r="3.55"/><circle cx="995.1" cy="1450.8" r="3.55"/><circle cx="989.3" cy="1063.9" r="3.55"/><circle cx="990.1" cy="1076.9" r="3.55"/><circle cx="990.9" cy="1090.0" r="3.55"/><circle cx="991.7" cy="1103.1" r="3.55"/><circle cx="992.5" cy="1116.2" r="3.55"/><circle cx="993.2" cy="1129.3" r="3.55"/><circle cx="994.0" cy="1142.3" r="3.55"/><circle cx="994.8" cy="1155.4" r="3.55"/><circle cx="995.6" cy="1168.5" r="3.55"/><circle cx="996.4" cy="1181.6" r="3.55"/><circle cx="997.1" cy="1194.7" r="3.55"/><circle cx="997.9" cy="1207.7" r="3.55"/><circle cx="998.7" cy="1220.8" r="3.55"/><circle cx="999.5" cy="1233.9" r="3.55"/><circle cx="1000.3" cy="1247.0" r="3.55"/><circle cx="1001.0" cy="1260.1" r="3.55"/><circle cx="1001.8" cy="1273.1" r="3.55"/><circle cx="1002.6" cy="1286.2" r="3.55"/><circle cx="1003.4" cy="1299.3" r="3.55"/><circle cx="1004.2" cy="1312.4" r="3.55"/><circle cx="1004.9" cy="1325.5" r="3.55"/><circle cx="1005.7" cy="1338.5" r="3.55"/><circle cx="1006.5" cy="1351.6" r="3.55"/><circle cx="1007.3" cy="1364.7" r="3.55"/><circle cx="1008.1" cy="1377.8" r="3.55"/><circle cx="1008.8" cy="1390.9" r="3.55"/><circle cx="1009.6" cy="1403.9" r="3.55"/><circle cx="1010.4" cy="1417.0" r="3.55"/><circle cx="1011.2" cy="1430.1" r="3.55"/><circle cx="1012.0" cy="1443.2" r="3.55"/><circle cx="1006.2" cy="1056.3" r="3.55"/><circle cx="1007.0" cy="1069.4" r="3.55"/><circle cx="1007.8" cy="1082.4" r="3.55"/><circle cx="1008.6" cy="1095.5" r="3.55"/><circle cx="1009.3" cy="1108.6" r="3.55"/><circle cx="1010.1" cy="1121.7" r="3.55"/><circle cx="1010.9" cy="1134.8" r="3.55"/><circle cx="1011.7" cy="1147.8" r="3.55"/><circle cx="1012.5" cy="1160.9" r="3.55"/><circle cx="1013.2" cy="1174.0" r="3.55"/><circle cx="1014.0" cy="1187.1" r="3.55"/><circle cx="1014.8" cy="1200.2" r="3.55"/><circle cx="1015.6" cy="1213.2" r="3.55"/><circle cx="1016.4" cy="1226.3" r="3.55"/><circle cx="1017.1" cy="1239.4" r="3.55"/><circle cx="1017.9" cy="1252.5" r="3.55"/><circle cx="1018.7" cy="1265.6" r="3.55"/><circle cx="1019.5" cy="1278.6" r="3.55"/><circle cx="1020.3" cy="1291.7" r="3.55"/><circle cx="1021.0" cy="1304.8" r="3.55"/><circle cx="1021.8" cy="1317.9" r="3.55"/><circle cx="1022.6" cy="1331.0" r="3.55"/><circle cx="1023.4" cy="1344.0" r="3.55"/><circle cx="1024.2" cy="1357.1" r="3.55"/><circle cx="1024.9" cy="1370.2" r="3.55"/><circle cx="1025.7" cy="1383.3" r="3.55"/><circle cx="1026.5" cy="1396.4" r="3.55"/><circle cx="1027.3" cy="1409.4" r="3.55"/><circle cx="1023.9" cy="1061.8" r="3.55"/><circle cx="1024.7" cy="1074.9" r="3.55"/><circle cx="1025.4" cy="1087.9" r="3.55"/><circle cx="1026.2" cy="1101.0" r="3.55"/><circle cx="1027.0" cy="1114.1" r="3.55"/><circle cx="1027.8" cy="1127.2" r="3.55"/><circle cx="1028.6" cy="1140.3" r="3.55"/><circle cx="1029.3" cy="1153.3" r="3.55"/><circle cx="1030.1" cy="1166.4" r="3.55"/><circle cx="1030.9" cy="1179.5" r="3.55"/><circle cx="1031.7" cy="1192.6" r="3.55"/><circle cx="1032.5" cy="1205.7" r="3.55"/><circle cx="1033.2" cy="1218.7" r="3.55"/><circle cx="1034.0" cy="1231.8" r="3.55"/><circle cx="1040.8" cy="1054.2" r="3.55"/><circle cx="1041.5" cy="1067.3" r="3.55"/><circle cx="1042.3" cy="1080.4" r="3.55"/><circle cx="1043.1" cy="1093.4" r="3.55"/><circle cx="1043.9" cy="1106.5" r="3.55"/><circle cx="1044.7" cy="1119.6" r="3.55"/><circle cx="1045.4" cy="1132.7" r="3.55"/><circle cx="1046.2" cy="1145.8" r="3.55"/><circle cx="1047.0" cy="1158.8" r="3.55"/><circle cx="1047.8" cy="1171.9" r="3.55"/><circle cx="1048.6" cy="1185.0" r="3.55"/><circle cx="1049.3" cy="1198.1" r="3.55"/><circle cx="1050.1" cy="1211.2" r="3.55"/><circle cx="1050.9" cy="1224.2" r="3.55"/><circle cx="1058.4" cy="1059.7" r="3.55"/><circle cx="1059.2" cy="1072.8" r="3.55"/><circle cx="1060.0" cy="1085.9" r="3.55"/><circle cx="1060.8" cy="1098.9" r="3.55"/><circle cx="1061.5" cy="1112.0" r="3.55"/><circle cx="1062.3" cy="1125.1" r="3.55"/><circle cx="1063.1" cy="1138.2" r="3.55"/><circle cx="1063.9" cy="1151.3" r="3.55"/><circle cx="1064.7" cy="1164.3" r="3.55"/><circle cx="1065.4" cy="1177.4" r="3.55"/><circle cx="1066.2" cy="1190.5" r="3.55"/><circle cx="1067.0" cy="1203.6" r="3.55"/><circle cx="1067.8" cy="1216.7" r="3.55"/><circle cx="1068.6" cy="1229.7" r="3.55"/><circle cx="1076.1" cy="1065.2" r="3.55"/><circle cx="1076.9" cy="1078.3" r="3.55"/><circle cx="1077.6" cy="1091.4" r="3.55"/><circle cx="1078.4" cy="1104.4" r="3.55"/><circle cx="1079.2" cy="1117.5" r="3.55"/><circle cx="1080.0" cy="1130.6" r="3.55"/><circle cx="1080.8" cy="1143.7" r="3.55"/><circle cx="1081.5" cy="1156.8" r="3.55"/><circle cx="1082.3" cy="1169.8" r="3.55"/><circle cx="1083.1" cy="1182.9" r="3.55"/><circle cx="1083.9" cy="1196.0" r="3.55"/><circle cx="1084.7" cy="1209.1" r="3.55"/><circle cx="1085.4" cy="1222.2" r="3.55"/><circle cx="1093.0" cy="1057.6" r="3.55"/><circle cx="1093.7" cy="1070.7" r="3.55"/><circle cx="1094.5" cy="1083.8" r="3.55"/><circle cx="1095.3" cy="1096.9" r="3.55"/><circle cx="1096.1" cy="1109.9" r="3.55"/><circle cx="1096.9" cy="1123.0" r="3.55"/><circle cx="1097.6" cy="1136.1" r="3.55"/><circle cx="1098.4" cy="1149.2" r="3.55"/><circle cx="1099.2" cy="1162.3" r="3.55"/><circle cx="1100.0" cy="1175.3" r="3.55"/><circle cx="1100.8" cy="1188.4" r="3.55"/><circle cx="1101.5" cy="1201.5" r="3.55"/><circle cx="1102.3" cy="1214.6" r="3.55"/><circle cx="1103.1" cy="1227.7" r="3.55"/><circle cx="1110.6" cy="1063.1" r="3.55"/><circle cx="1111.4" cy="1076.2" r="3.55"/><circle cx="1112.2" cy="1089.3" r="3.55"/><circle cx="1113.0" cy="1102.4" r="3.55"/><circle cx="1113.7" cy="1115.4" r="3.55"/><circle cx="1114.5" cy="1128.5" r="3.55"/><circle cx="1115.3" cy="1141.6" r="3.55"/><circle cx="1116.1" cy="1154.7" r="3.55"/><circle cx="1116.9" cy="1167.8" r="3.55"/><circle cx="1117.6" cy="1180.8" r="3.55"/><circle cx="1118.4" cy="1193.9" r="3.55"/><circle cx="1119.2" cy="1207.0" r="3.55"/><circle cx="1120.0" cy="1220.1" r="3.55"/><circle cx="1127.5" cy="1055.5" r="3.55"/><circle cx="1128.3" cy="1068.6" r="3.55"/><circle cx="1129.1" cy="1081.7" r="3.55"/><circle cx="1129.8" cy="1094.8" r="3.55"/><circle cx="1130.6" cy="1107.9" r="3.55"/><circle cx="1131.4" cy="1120.9" r="3.55"/><circle cx="1132.2" cy="1134.0" r="3.55"/><circle cx="1133.0" cy="1147.1" r="3.55"/><circle cx="1133.7" cy="1160.2" r="3.55"/><circle cx="1134.5" cy="1173.3" r="3.55"/><circle cx="1135.3" cy="1186.3" r="3.55"/><circle cx="1136.1" cy="1199.4" r="3.55"/><circle cx="1136.9" cy="1212.5" r="3.55"/><circle cx="1137.6" cy="1225.6" r="3.55"/><circle cx="1145.2" cy="1061.0" r="3.55"/><circle cx="1145.9" cy="1074.1" r="3.55"/><circle cx="1146.7" cy="1087.2" r="3.55"/><circle cx="1147.5" cy="1100.3" r="3.55"/><circle cx="1148.3" cy="1113.4" r="3.55"/><circle cx="1149.1" cy="1126.4" r="3.55"/><circle cx="1149.8" cy="1139.5" r="3.55"/><circle cx="1150.6" cy="1152.6" r="3.55"/><circle cx="1151.4" cy="1165.7" r="3.55"/><circle cx="1152.2" cy="1178.8" r="3.55"/><circle cx="1153.0" cy="1191.8" r="3.55"/><circle cx="1153.7" cy="1204.9" r="3.55"/><circle cx="1154.5" cy="1218.0" r="3.55"/><circle cx="1155.3" cy="1231.1" r="3.55"/><circle cx="1162.0" cy="1053.5" r="3.55"/><circle cx="1162.8" cy="1066.5" r="3.55"/><circle cx="1163.6" cy="1079.6" r="3.55"/><circle cx="1164.4" cy="1092.7" r="3.55"/><circle cx="1165.2" cy="1105.8" r="3.55"/><circle cx="1165.9" cy="1118.9" r="3.55"/><circle cx="1166.7" cy="1131.9" r="3.55"/><circle cx="1167.5" cy="1145.0" r="3.55"/><circle cx="1168.3" cy="1158.1" r="3.55"/><circle cx="1169.1" cy="1171.2" r="3.55"/><circle cx="1169.8" cy="1184.3" r="3.55"/><circle cx="1170.6" cy="1197.3" r="3.55"/><circle cx="1171.4" cy="1210.4" r="3.55"/><circle cx="1172.2" cy="1223.5" r="3.55"/><circle cx="1179.7" cy="1059.0" r="3.55"/><circle cx="1180.5" cy="1072.0" r="3.55"/><circle cx="1181.3" cy="1085.1" r="3.55"/><circle cx="1182.0" cy="1098.2" r="3.55"/><circle cx="1182.8" cy="1111.3" r="3.55"/><circle cx="1183.6" cy="1124.4" r="3.55"/><circle cx="1184.4" cy="1137.4" r="3.55"/><circle cx="1185.2" cy="1150.5" r="3.55"/><circle cx="1185.9" cy="1163.6" r="3.55"/><circle cx="1186.7" cy="1176.7" r="3.55"/><circle cx="1187.5" cy="1189.8" r="3.55"/><circle cx="1188.3" cy="1202.8" r="3.55"/><circle cx="1189.1" cy="1215.9" r="3.55"/><circle cx="1189.8" cy="1229.0" r="3.55"/><circle cx="1197.4" cy="1064.5" r="3.55"/><circle cx="1198.1" cy="1077.5" r="3.55"/><circle cx="1198.9" cy="1090.6" r="3.55"/><circle cx="1199.7" cy="1103.7" r="3.55"/><circle cx="1200.5" cy="1116.8" r="3.55"/><circle cx="1201.3" cy="1129.9" r="3.55"/><circle cx="1202.0" cy="1142.9" r="3.55"/><circle cx="1202.8" cy="1156.0" r="3.55"/><circle cx="1203.6" cy="1169.1" r="3.55"/><circle cx="1204.4" cy="1182.2" r="3.55"/><circle cx="1205.2" cy="1195.3" r="3.55"/><circle cx="1205.9" cy="1208.3" r="3.55"/><circle cx="1206.7" cy="1221.4" r="3.55"/><circle cx="1214.2" cy="1056.9" r="3.55"/><circle cx="1215.0" cy="1070.0" r="3.55"/><circle cx="1215.8" cy="1083.0" r="3.55"/><circle cx="1216.6" cy="1096.1" r="3.55"/><circle cx="1217.4" cy="1109.2" r="3.55"/><circle cx="1218.1" cy="1122.3" r="3.55"/><circle cx="1218.9" cy="1135.4" r="3.55"/><circle cx="1219.7" cy="1148.4" r="3.55"/><circle cx="1220.5" cy="1161.5" r="3.55"/><circle cx="1221.3" cy="1174.6" r="3.55"/><circle cx="1222.0" cy="1187.7" r="3.55"/><circle cx="1222.8" cy="1200.8" r="3.55"/><circle cx="1223.6" cy="1213.8" r="3.55"/><circle cx="1224.4" cy="1226.9" r="3.55"/><circle cx="1231.9" cy="1062.4" r="3.55"/><circle cx="1232.7" cy="1075.5" r="3.55"/><circle cx="1233.5" cy="1088.5" r="3.55"/><circle cx="1234.2" cy="1101.6" r="3.55"/><circle cx="1235.0" cy="1114.7" r="3.55"/><circle cx="1235.8" cy="1127.8" r="3.55"/><circle cx="1236.6" cy="1140.9" r="3.55"/><circle cx="1237.4" cy="1153.9" r="3.55"/><circle cx="1238.1" cy="1167.0" r="3.55"/><circle cx="1238.9" cy="1180.1" r="3.55"/><circle cx="1239.7" cy="1193.2" r="3.55"/><circle cx="1240.5" cy="1206.3" r="3.55"/><circle cx="1241.3" cy="1219.3" r="3.55"/><circle cx="1242.0" cy="1232.4" r="3.55"/><circle cx="1248.8" cy="1054.8" r="3.55"/><circle cx="1249.6" cy="1067.9" r="3.55"/></g>
<g clip-path="url(#cif)">
<rect x="1023.9" y="1228.9" width="218.30000000000007" height="217.0999999999999" fill="url(#rgf)"/>
<path d="M918.9 1418.8L1306.1 1390.4M960.5 1287.4L1347.7 1259.0M1084.9 1342.5L939.7 1353.1M1181.7 1335.4L1326.9 1324.7" stroke="#3f5cd4" stroke-width="12" opacity="0.4" fill="none" filter="url(#bl)"/><g fill="url(#spot)"><circle cx="1036.5" cy="1346.0" r="7" opacity="1.00"/><circle cx="1057.3" cy="1280.3" r="7" opacity="1.00"/><circle cx="1064.1" cy="1408.2" r="7" opacity="1.00"/><circle cx="1084.9" cy="1342.5" r="7" opacity="0.89"/><circle cx="1105.7" cy="1276.8" r="7" opacity="1.00"/><circle cx="1112.5" cy="1404.6" r="7" opacity="1.00"/><circle cx="1154.1" cy="1273.2" r="7" opacity="1.00"/><circle cx="1160.9" cy="1401.1" r="7" opacity="1.00"/><circle cx="1181.7" cy="1335.4" r="7" opacity="0.89"/><circle cx="1202.5" cy="1269.7" r="7" opacity="1.00"/><circle cx="1209.3" cy="1397.5" r="7" opacity="1.00"/><circle cx="1230.1" cy="1331.8" r="7" opacity="1.00"/></g>
</g>
<rect x="853.4" y="1056.2" width="393.30000000000007" height="393.5" fill="none" stroke="#000" stroke-width="2.5"/>
<rect x="873.4" y="1089.05" width="26" height="6.1" fill="#9b5e2a"/>
<text x="887.4" y="1086.0" font-size="26" text-anchor="middle" font-weight="normal" font-style="italic" fill="#8a4a1c" font-family="'Liberation Serif', 'DejaVu Serif', serif">σ</text>
<text x="1195.4" y="1105.2" font-size="29" text-anchor="start" font-weight="normal" font-style="normal" fill="#000" font-family="'Liberation Sans', sans-serif">Str</text>
</g>
<g id="pg">
<rect x="1282.0" y="1056.1" width="393.20000000000005" height="393.60000000000014" fill="#fff"/>
<path d="M1401.6 1147.6 L1411.8 1158.8 L1402.9 1171.1 L1392.7 1159.9Z" fill="#f2a9a9" stroke="#c8202e" stroke-width="2.3" stroke-linejoin="miter"/>
<g fill="#2aa83a" clip-path="url(#clg)"><circle cx="1279.8" cy="1190.0" r="3.55"/><circle cx="1281.2" cy="1213.5" r="3.55"/><circle cx="1282.5" cy="1237.0" r="3.55"/><circle cx="1283.9" cy="1260.5" r="3.55"/><circle cx="1285.2" cy="1284.0" r="3.55"/><circle cx="1286.5" cy="1307.5" r="3.55"/><circle cx="1287.9" cy="1331.0" r="3.55"/><circle cx="1279.0" cy="1343.3" r="3.55"/><circle cx="1289.2" cy="1354.5" r="3.55"/><circle cx="1280.4" cy="1366.8" r="3.55"/><circle cx="1290.6" cy="1378.0" r="3.55"/><circle cx="1281.8" cy="1390.3" r="3.55"/><circle cx="1292.0" cy="1401.5" r="3.55"/><circle cx="1283.1" cy="1413.8" r="3.55"/><circle cx="1293.3" cy="1425.0" r="3.55"/><circle cx="1284.5" cy="1437.3" r="3.55"/><circle cx="1294.7" cy="1448.5" r="3.55"/><circle cx="1281.9" cy="1060.2" r="3.55"/><circle cx="1292.1" cy="1071.4" r="3.55"/><circle cx="1283.2" cy="1083.7" r="3.55"/><circle cx="1293.5" cy="1094.9" r="3.55"/><circle cx="1284.6" cy="1107.2" r="3.55"/><circle cx="1294.8" cy="1118.4" r="3.55"/><circle cx="1286.0" cy="1130.7" r="3.55"/><circle cx="1296.2" cy="1141.9" r="3.55"/><circle cx="1287.3" cy="1154.2" r="3.55"/><circle cx="1297.5" cy="1165.4" r="3.55"/><circle cx="1288.6" cy="1177.7" r="3.55"/><circle cx="1298.8" cy="1188.9" r="3.55"/><circle cx="1290.0" cy="1201.2" r="3.55"/><circle cx="1300.2" cy="1212.4" r="3.55"/><circle cx="1291.3" cy="1224.7" r="3.55"/><circle cx="1301.5" cy="1235.9" r="3.55"/><circle cx="1292.7" cy="1248.2" r="3.55"/><circle cx="1302.9" cy="1259.4" r="3.55"/><circle cx="1294.0" cy="1271.7" r="3.55"/><circle cx="1304.2" cy="1282.9" r="3.55"/><circle cx="1295.4" cy="1295.2" r="3.55"/><circle cx="1305.6" cy="1306.4" r="3.55"/><circle cx="1296.8" cy="1318.7" r="3.55"/><circle cx="1307.0" cy="1329.9" r="3.55"/><circle cx="1298.1" cy="1342.2" r="3.55"/><circle cx="1308.3" cy="1353.4" r="3.55"/><circle cx="1299.5" cy="1365.7" r="3.55"/><circle cx="1309.7" cy="1376.9" r="3.55"/><circle cx="1300.8" cy="1389.2" r="3.55"/><circle cx="1311.0" cy="1400.4" r="3.55"/><circle cx="1302.1" cy="1412.7" r="3.55"/><circle cx="1312.3" cy="1423.9" r="3.55"/><circle cx="1303.5" cy="1436.2" r="3.55"/><circle cx="1313.7" cy="1447.4" r="3.55"/><circle cx="1300.9" cy="1059.1" r="3.55"/><circle cx="1311.1" cy="1070.3" r="3.55"/><circle cx="1302.3" cy="1082.6" r="3.55"/><circle cx="1312.5" cy="1093.8" r="3.55"/><circle cx="1303.6" cy="1106.1" r="3.55"/><circle cx="1313.8" cy="1117.3" r="3.55"/><circle cx="1305.0" cy="1129.6" r="3.55"/><circle cx="1315.2" cy="1140.8" r="3.55"/><circle cx="1306.3" cy="1153.1" r="3.55"/><circle cx="1316.5" cy="1164.3" r="3.55"/><circle cx="1307.7" cy="1176.6" r="3.55"/><circle cx="1317.9" cy="1187.8" r="3.55"/><circle cx="1309.0" cy="1200.1" r="3.55"/><circle cx="1319.2" cy="1211.3" r="3.55"/><circle cx="1310.4" cy="1223.6" r="3.55"/><circle cx="1320.6" cy="1234.8" r="3.55"/><circle cx="1311.8" cy="1247.1" r="3.55"/><circle cx="1322.0" cy="1258.3" r="3.55"/><circle cx="1313.1" cy="1270.6" r="3.55"/><circle cx="1323.3" cy="1281.8" r="3.55"/><circle cx="1314.4" cy="1294.1" r="3.55"/><circle cx="1324.6" cy="1305.3" r="3.55"/><circle cx="1315.8" cy="1317.6" r="3.55"/><circle cx="1326.0" cy="1328.8" r="3.55"/><circle cx="1317.1" cy="1341.1" r="3.55"/><circle cx="1327.3" cy="1352.3" r="3.55"/><circle cx="1318.5" cy="1364.6" r="3.55"/><circle cx="1328.7" cy="1375.8" r="3.55"/><circle cx="1319.8" cy="1388.1" r="3.55"/><circle cx="1330.0" cy="1399.3" r="3.55"/><circle cx="1321.2" cy="1411.6" r="3.55"/><circle cx="1331.4" cy="1422.8" r="3.55"/><circle cx="1322.5" cy="1435.1" r="3.55"/><circle cx="1332.8" cy="1446.3" r="3.55"/><circle cx="1320.0" cy="1058.0" r="3.55"/><circle cx="1330.2" cy="1069.2" r="3.55"/><circle cx="1321.3" cy="1081.5" r="3.55"/><circle cx="1331.5" cy="1092.7" r="3.55"/><circle cx="1322.7" cy="1105.0" r="3.55"/><circle cx="1332.9" cy="1116.2" r="3.55"/><circle cx="1324.0" cy="1128.5" r="3.55"/><circle cx="1334.2" cy="1139.7" r="3.55"/><circle cx="1325.4" cy="1152.0" r="3.55"/><circle cx="1335.6" cy="1163.2" r="3.55"/><circle cx="1326.7" cy="1175.5" r="3.55"/><circle cx="1336.9" cy="1186.7" r="3.55"/><circle cx="1328.1" cy="1199.0" r="3.55"/><circle cx="1338.3" cy="1210.2" r="3.55"/><circle cx="1329.4" cy="1222.5" r="3.55"/><circle cx="1339.6" cy="1233.7" r="3.55"/><circle cx="1330.8" cy="1246.0" r="3.55"/><circle cx="1341.0" cy="1257.2" r="3.55"/><circle cx="1332.1" cy="1269.5" r="3.55"/><circle cx="1342.3" cy="1280.7" r="3.55"/><circle cx="1333.5" cy="1293.0" r="3.55"/><circle cx="1343.7" cy="1304.2" r="3.55"/><circle cx="1334.8" cy="1316.5" r="3.55"/><circle cx="1345.0" cy="1327.7" r="3.55"/><circle cx="1336.2" cy="1340.0" r="3.55"/><circle cx="1346.4" cy="1351.2" r="3.55"/><circle cx="1337.5" cy="1363.5" r="3.55"/><circle cx="1347.8" cy="1374.7" r="3.55"/><circle cx="1338.9" cy="1387.0" r="3.55"/><circle cx="1349.1" cy="1398.2" r="3.55"/><circle cx="1340.2" cy="1410.5" r="3.55"/><circle cx="1350.4" cy="1421.7" r="3.55"/><circle cx="1341.6" cy="1434.0" r="3.55"/><circle cx="1351.8" cy="1445.2" r="3.55"/><circle cx="1339.0" cy="1056.9" r="3.55"/><circle cx="1349.2" cy="1068.1" r="3.55"/><circle cx="1340.4" cy="1080.4" r="3.55"/><circle cx="1350.6" cy="1091.6" r="3.55"/><circle cx="1341.7" cy="1103.9" r="3.55"/><circle cx="1351.9" cy="1115.1" r="3.55"/><circle cx="1343.1" cy="1127.4" r="3.55"/><circle cx="1353.3" cy="1138.6" r="3.55"/><circle cx="1344.4" cy="1150.9" r="3.55"/><circle cx="1354.6" cy="1162.1" r="3.55"/><circle cx="1345.8" cy="1174.4" r="3.55"/><circle cx="1356.0" cy="1185.6" r="3.55"/><circle cx="1347.1" cy="1197.9" r="3.55"/><circle cx="1357.3" cy="1209.1" r="3.55"/><circle cx="1348.5" cy="1221.4" r="3.55"/><circle cx="1358.7" cy="1232.6" r="3.55"/><circle cx="1349.8" cy="1244.9" r="3.55"/><circle cx="1360.0" cy="1256.1" r="3.55"/><circle cx="1351.2" cy="1268.4" r="3.55"/><circle cx="1361.4" cy="1279.6" r="3.55"/><circle cx="1352.5" cy="1291.9" r="3.55"/><circle cx="1362.7" cy="1303.1" r="3.55"/><circle cx="1353.9" cy="1315.4" r="3.55"/><circle cx="1364.1" cy="1326.6" r="3.55"/><circle cx="1355.2" cy="1338.9" r="3.55"/><circle cx="1365.4" cy="1350.1" r="3.55"/><circle cx="1356.6" cy="1362.4" r="3.55"/><circle cx="1366.8" cy="1373.6" r="3.55"/><circle cx="1357.9" cy="1385.9" r="3.55"/><circle cx="1368.1" cy="1397.1" r="3.55"/><circle cx="1359.3" cy="1409.4" r="3.55"/><circle cx="1369.5" cy="1420.6" r="3.55"/><circle cx="1360.6" cy="1432.9" r="3.55"/><circle cx="1370.8" cy="1444.1" r="3.55"/><circle cx="1358.1" cy="1055.8" r="3.55"/><circle cx="1368.3" cy="1067.0" r="3.55"/><circle cx="1359.5" cy="1079.3" r="3.55"/><circle cx="1369.7" cy="1090.5" r="3.55"/><circle cx="1360.8" cy="1102.8" r="3.55"/><circle cx="1371.0" cy="1114.0" r="3.55"/><circle cx="1362.2" cy="1126.3" r="3.55"/><circle cx="1372.4" cy="1137.5" r="3.55"/><circle cx="1363.5" cy="1149.8" r="3.55"/><circle cx="1373.7" cy="1161.0" r="3.55"/><circle cx="1364.8" cy="1173.3" r="3.55"/><circle cx="1375.0" cy="1184.5" r="3.55"/><circle cx="1366.2" cy="1196.8" r="3.55"/><circle cx="1376.4" cy="1208.0" r="3.55"/><circle cx="1367.5" cy="1220.3" r="3.55"/><circle cx="1377.8" cy="1231.5" r="3.55"/><circle cx="1368.9" cy="1243.8" r="3.55"/><circle cx="1379.1" cy="1255.0" r="3.55"/><circle cx="1370.2" cy="1267.3" r="3.55"/><circle cx="1380.5" cy="1278.5" r="3.55"/><circle cx="1371.6" cy="1290.8" r="3.55"/><circle cx="1381.8" cy="1302.0" r="3.55"/><circle cx="1373.0" cy="1314.3" r="3.55"/><circle cx="1383.2" cy="1325.5" r="3.55"/><circle cx="1374.3" cy="1337.8" r="3.55"/><circle cx="1384.5" cy="1349.0" r="3.55"/><circle cx="1375.7" cy="1361.3" r="3.55"/><circle cx="1385.9" cy="1372.5" r="3.55"/><circle cx="1377.0" cy="1384.8" r="3.55"/><circle cx="1387.2" cy="1396.0" r="3.55"/><circle cx="1378.3" cy="1408.3" r="3.55"/><circle cx="1388.5" cy="1419.5" r="3.55"/><circle cx="1379.7" cy="1431.8" r="3.55"/><circle cx="1389.9" cy="1443.0" r="3.55"/><circle cx="1377.1" cy="1054.7" r="3.55"/><circle cx="1387.3" cy="1065.9" r="3.55"/><circle cx="1378.5" cy="1078.2" r="3.55"/><circle cx="1388.7" cy="1089.4" r="3.55"/><circle cx="1379.8" cy="1101.7" r="3.55"/><circle cx="1390.0" cy="1112.9" r="3.55"/><circle cx="1381.2" cy="1125.2" r="3.55"/><circle cx="1391.4" cy="1136.4" r="3.55"/><circle cx="1382.5" cy="1148.7" r="3.55"/><circle cx="1392.8" cy="1159.9" r="3.55"/><circle cx="1383.9" cy="1172.2" r="3.55"/><circle cx="1394.1" cy="1183.4" r="3.55"/><circle cx="1385.2" cy="1195.7" r="3.55"/><circle cx="1395.5" cy="1206.9" r="3.55"/><circle cx="1386.6" cy="1219.2" r="3.55"/><circle cx="1396.8" cy="1230.4" r="3.55"/><circle cx="1388.0" cy="1242.7" r="3.55"/><circle cx="1398.2" cy="1253.9" r="3.55"/><circle cx="1389.3" cy="1266.2" r="3.55"/><circle cx="1399.5" cy="1277.4" r="3.55"/><circle cx="1390.6" cy="1289.7" r="3.55"/><circle cx="1400.8" cy="1300.9" r="3.55"/><circle cx="1392.0" cy="1313.2" r="3.55"/><circle cx="1402.2" cy="1324.4" r="3.55"/><circle cx="1393.3" cy="1336.7" r="3.55"/><circle cx="1403.5" cy="1347.9" r="3.55"/><circle cx="1394.7" cy="1360.2" r="3.55"/><circle cx="1404.9" cy="1371.4" r="3.55"/><circle cx="1396.0" cy="1383.7" r="3.55"/><circle cx="1406.2" cy="1394.9" r="3.55"/><circle cx="1397.4" cy="1407.2" r="3.55"/><circle cx="1407.6" cy="1418.4" r="3.55"/><circle cx="1398.8" cy="1430.7" r="3.55"/><circle cx="1409.0" cy="1441.9" r="3.55"/><circle cx="1396.2" cy="1053.6" r="3.55"/><circle cx="1406.4" cy="1064.8" r="3.55"/><circle cx="1397.5" cy="1077.1" r="3.55"/><circle cx="1407.8" cy="1088.3" r="3.55"/><circle cx="1398.9" cy="1100.6" r="3.55"/><circle cx="1409.1" cy="1111.8" r="3.55"/><circle cx="1400.2" cy="1124.1" r="3.55"/><circle cx="1410.5" cy="1135.3" r="3.55"/><circle cx="1401.6" cy="1147.6" r="3.55"/><circle cx="1411.8" cy="1158.8" r="3.55"/><circle cx="1402.9" cy="1171.1" r="3.55"/><circle cx="1413.1" cy="1182.3" r="3.55"/><circle cx="1404.3" cy="1194.6" r="3.55"/><circle cx="1414.5" cy="1205.8" r="3.55"/><circle cx="1405.6" cy="1218.1" r="3.55"/><circle cx="1415.8" cy="1229.3" r="3.55"/><circle cx="1407.0" cy="1241.6" r="3.55"/><circle cx="1417.2" cy="1252.8" r="3.55"/><circle cx="1408.3" cy="1265.1" r="3.55"/><circle cx="1418.5" cy="1276.3" r="3.55"/><circle cx="1409.7" cy="1288.6" r="3.55"/><circle cx="1419.9" cy="1299.8" r="3.55"/><circle cx="1411.0" cy="1312.1" r="3.55"/><circle cx="1421.2" cy="1323.3" r="3.55"/><circle cx="1412.4" cy="1335.6" r="3.55"/><circle cx="1422.6" cy="1346.8" r="3.55"/><circle cx="1413.8" cy="1359.1" r="3.55"/><circle cx="1424.0" cy="1370.3" r="3.55"/><circle cx="1415.1" cy="1382.6" r="3.55"/><circle cx="1425.3" cy="1393.8" r="3.55"/><circle cx="1416.4" cy="1406.1" r="3.55"/><circle cx="1426.6" cy="1417.3" r="3.55"/><circle cx="1417.8" cy="1429.6" r="3.55"/><circle cx="1428.0" cy="1440.8" r="3.55"/><circle cx="1419.1" cy="1453.1" r="3.55"/><circle cx="1425.4" cy="1063.7" r="3.55"/><circle cx="1416.6" cy="1076.0" r="3.55"/><circle cx="1426.8" cy="1087.2" r="3.55"/><circle cx="1417.9" cy="1099.5" r="3.55"/><circle cx="1428.1" cy="1110.7" r="3.55"/><circle cx="1419.3" cy="1123.0" r="3.55"/><circle cx="1429.5" cy="1134.2" r="3.55"/><circle cx="1420.6" cy="1146.5" r="3.55"/><circle cx="1430.8" cy="1157.7" r="3.55"/><circle cx="1422.0" cy="1170.0" r="3.55"/><circle cx="1432.2" cy="1181.2" r="3.55"/><circle cx="1423.3" cy="1193.5" r="3.55"/><circle cx="1433.5" cy="1204.7" r="3.55"/><circle cx="1424.7" cy="1217.0" r="3.55"/><circle cx="1434.9" cy="1228.2" r="3.55"/><circle cx="1426.0" cy="1240.5" r="3.55"/><circle cx="1436.2" cy="1251.7" r="3.55"/><circle cx="1427.4" cy="1264.0" r="3.55"/><circle cx="1437.6" cy="1275.2" r="3.55"/><circle cx="1428.7" cy="1287.5" r="3.55"/><circle cx="1438.9" cy="1298.7" r="3.55"/><circle cx="1430.1" cy="1311.0" r="3.55"/><circle cx="1440.3" cy="1322.2" r="3.55"/><circle cx="1431.4" cy="1334.5" r="3.55"/><circle cx="1441.6" cy="1345.7" r="3.55"/><circle cx="1432.8" cy="1358.0" r="3.55"/><circle cx="1443.0" cy="1369.2" r="3.55"/><circle cx="1434.1" cy="1381.5" r="3.55"/><circle cx="1444.3" cy="1392.7" r="3.55"/><circle cx="1435.5" cy="1405.0" r="3.55"/><circle cx="1445.7" cy="1416.2" r="3.55"/><circle cx="1436.8" cy="1428.5" r="3.55"/><circle cx="1447.0" cy="1439.7" r="3.55"/><circle cx="1438.2" cy="1452.0" r="3.55"/><circle cx="1444.5" cy="1062.6" r="3.55"/><circle cx="1435.6" cy="1074.9" r="3.55"/><circle cx="1445.8" cy="1086.1" r="3.55"/><circle cx="1437.0" cy="1098.4" r="3.55"/><circle cx="1447.2" cy="1109.6" r="3.55"/><circle cx="1438.3" cy="1121.9" r="3.55"/><circle cx="1448.5" cy="1133.1" r="3.55"/><circle cx="1439.7" cy="1145.4" r="3.55"/><circle cx="1449.9" cy="1156.6" r="3.55"/><circle cx="1441.0" cy="1168.9" r="3.55"/><circle cx="1451.2" cy="1180.1" r="3.55"/><circle cx="1442.4" cy="1192.4" r="3.55"/><circle cx="1452.6" cy="1203.6" r="3.55"/><circle cx="1443.7" cy="1215.9" r="3.55"/><circle cx="1453.9" cy="1227.1" r="3.55"/><circle cx="1445.1" cy="1239.4" r="3.55"/><circle cx="1455.3" cy="1250.6" r="3.55"/><circle cx="1446.4" cy="1262.9" r="3.55"/><circle cx="1456.6" cy="1274.1" r="3.55"/><circle cx="1447.8" cy="1286.4" r="3.55"/><circle cx="1449.1" cy="1309.9" r="3.55"/><circle cx="1450.5" cy="1333.4" r="3.55"/><circle cx="1451.8" cy="1356.9" r="3.55"/><circle cx="1453.2" cy="1380.4" r="3.55"/><circle cx="1454.5" cy="1403.9" r="3.55"/><circle cx="1455.9" cy="1427.4" r="3.55"/><circle cx="1457.2" cy="1450.9" r="3.55"/><circle cx="1463.5" cy="1061.5" r="3.55"/><circle cx="1454.7" cy="1073.8" r="3.55"/><circle cx="1464.9" cy="1085.0" r="3.55"/><circle cx="1456.0" cy="1097.3" r="3.55"/><circle cx="1466.2" cy="1108.5" r="3.55"/><circle cx="1457.4" cy="1120.8" r="3.55"/><circle cx="1467.6" cy="1132.0" r="3.55"/><circle cx="1458.8" cy="1144.3" r="3.55"/><circle cx="1469.0" cy="1155.5" r="3.55"/><circle cx="1460.1" cy="1167.8" r="3.55"/><circle cx="1470.3" cy="1179.0" r="3.55"/><circle cx="1461.5" cy="1191.3" r="3.55"/><circle cx="1471.7" cy="1202.5" r="3.55"/><circle cx="1462.8" cy="1214.8" r="3.55"/><circle cx="1473.0" cy="1226.0" r="3.55"/><circle cx="1482.6" cy="1060.4" r="3.55"/><circle cx="1473.8" cy="1072.7" r="3.55"/><circle cx="1484.0" cy="1083.9" r="3.55"/><circle cx="1475.1" cy="1096.2" r="3.55"/><circle cx="1485.3" cy="1107.4" r="3.55"/><circle cx="1476.5" cy="1119.7" r="3.55"/><circle cx="1486.7" cy="1130.9" r="3.55"/><circle cx="1477.8" cy="1143.2" r="3.55"/><circle cx="1488.0" cy="1154.4" r="3.55"/><circle cx="1479.1" cy="1166.7" r="3.55"/><circle cx="1489.3" cy="1177.9" r="3.55"/><circle cx="1480.5" cy="1190.2" r="3.55"/><circle cx="1490.7" cy="1201.4" r="3.55"/><circle cx="1481.8" cy="1213.7" r="3.55"/><circle cx="1492.0" cy="1224.9" r="3.55"/><circle cx="1501.6" cy="1059.3" r="3.55"/><circle cx="1492.8" cy="1071.6" r="3.55"/><circle cx="1503.0" cy="1082.8" r="3.55"/><circle cx="1494.1" cy="1095.1" r="3.55"/><circle cx="1504.3" cy="1106.3" r="3.55"/><circle cx="1495.5" cy="1118.6" r="3.55"/><circle cx="1505.7" cy="1129.8" r="3.55"/><circle cx="1496.8" cy="1142.1" r="3.55"/><circle cx="1507.0" cy="1153.3" r="3.55"/><circle cx="1498.2" cy="1165.6" r="3.55"/><circle cx="1508.4" cy="1176.8" r="3.55"/><circle cx="1499.5" cy="1189.1" r="3.55"/><circle cx="1509.8" cy="1200.3" r="3.55"/><circle cx="1500.9" cy="1212.6" r="3.55"/><circle cx="1511.1" cy="1223.8" r="3.55"/><circle cx="1520.7" cy="1058.2" r="3.55"/><circle cx="1511.8" cy="1070.5" r="3.55"/><circle cx="1522.0" cy="1081.7" r="3.55"/><circle cx="1513.2" cy="1094.0" r="3.55"/><circle cx="1523.4" cy="1105.2" r="3.55"/><circle cx="1514.5" cy="1117.5" r="3.55"/><circle cx="1524.8" cy="1128.7" r="3.55"/><circle cx="1515.9" cy="1141.0" r="3.55"/><circle cx="1526.1" cy="1152.2" r="3.55"/><circle cx="1517.2" cy="1164.5" r="3.55"/><circle cx="1527.4" cy="1175.7" r="3.55"/><circle cx="1518.6" cy="1188.0" r="3.55"/><circle cx="1528.8" cy="1199.2" r="3.55"/><circle cx="1519.9" cy="1211.5" r="3.55"/><circle cx="1530.1" cy="1222.7" r="3.55"/><circle cx="1539.7" cy="1057.1" r="3.55"/><circle cx="1530.9" cy="1069.4" r="3.55"/><circle cx="1541.1" cy="1080.6" r="3.55"/><circle cx="1532.2" cy="1092.9" r="3.55"/><circle cx="1542.4" cy="1104.1" r="3.55"/><circle cx="1533.6" cy="1116.4" r="3.55"/><circle cx="1543.8" cy="1127.6" r="3.55"/><circle cx="1534.9" cy="1139.9" r="3.55"/><circle cx="1545.1" cy="1151.1" r="3.55"/><circle cx="1536.3" cy="1163.4" r="3.55"/><circle cx="1546.5" cy="1174.6" r="3.55"/><circle cx="1537.6" cy="1186.9" r="3.55"/><circle cx="1547.8" cy="1198.1" r="3.55"/><circle cx="1539.0" cy="1210.4" r="3.55"/><circle cx="1549.2" cy="1221.6" r="3.55"/><circle cx="1558.8" cy="1056.0" r="3.55"/><circle cx="1550.0" cy="1068.3" r="3.55"/><circle cx="1560.2" cy="1079.5" r="3.55"/><circle cx="1551.3" cy="1091.8" r="3.55"/><circle cx="1561.5" cy="1103.0" r="3.55"/><circle cx="1552.7" cy="1115.3" r="3.55"/><circle cx="1562.9" cy="1126.5" r="3.55"/><circle cx="1554.0" cy="1138.8" r="3.55"/><circle cx="1564.2" cy="1150.0" r="3.55"/><circle cx="1555.3" cy="1162.3" r="3.55"/><circle cx="1565.5" cy="1173.5" r="3.55"/><circle cx="1556.7" cy="1185.8" r="3.55"/><circle cx="1566.9" cy="1197.0" r="3.55"/><circle cx="1558.0" cy="1209.3" r="3.55"/><circle cx="1568.2" cy="1220.5" r="3.55"/><circle cx="1559.4" cy="1232.8" r="3.55"/><circle cx="1577.8" cy="1054.9" r="3.55"/><circle cx="1569.0" cy="1067.2" r="3.55"/><circle cx="1579.2" cy="1078.4" r="3.55"/><circle cx="1570.3" cy="1090.7" r="3.55"/><circle cx="1580.5" cy="1101.9" r="3.55"/><circle cx="1571.7" cy="1114.2" r="3.55"/><circle cx="1581.9" cy="1125.4" r="3.55"/><circle cx="1573.0" cy="1137.7" r="3.55"/><circle cx="1583.2" cy="1148.9" r="3.55"/><circle cx="1574.4" cy="1161.2" r="3.55"/><circle cx="1584.6" cy="1172.4" r="3.55"/><circle cx="1575.8" cy="1184.7" r="3.55"/><circle cx="1586.0" cy="1195.9" r="3.55"/><circle cx="1577.1" cy="1208.2" r="3.55"/><circle cx="1587.3" cy="1219.4" r="3.55"/><circle cx="1578.5" cy="1231.7" r="3.55"/><circle cx="1596.9" cy="1053.8" r="3.55"/><circle cx="1588.0" cy="1066.1" r="3.55"/><circle cx="1598.2" cy="1077.3" r="3.55"/><circle cx="1589.4" cy="1089.6" r="3.55"/><circle cx="1599.6" cy="1100.8" r="3.55"/><circle cx="1590.8" cy="1113.1" r="3.55"/><circle cx="1601.0" cy="1124.3" r="3.55"/><circle cx="1592.1" cy="1136.6" r="3.55"/><circle cx="1602.3" cy="1147.8" r="3.55"/><circle cx="1593.4" cy="1160.1" r="3.55"/><circle cx="1603.6" cy="1171.3" r="3.55"/><circle cx="1594.8" cy="1183.6" r="3.55"/><circle cx="1605.0" cy="1194.8" r="3.55"/><circle cx="1596.1" cy="1207.1" r="3.55"/><circle cx="1606.3" cy="1218.3" r="3.55"/><circle cx="1597.5" cy="1230.6" r="3.55"/><circle cx="1615.9" cy="1052.7" r="3.55"/><circle cx="1607.1" cy="1065.0" r="3.55"/><circle cx="1617.3" cy="1076.2" r="3.55"/><circle cx="1608.4" cy="1088.5" r="3.55"/><circle cx="1618.6" cy="1099.7" r="3.55"/><circle cx="1609.8" cy="1112.0" r="3.55"/><circle cx="1620.0" cy="1123.2" r="3.55"/><circle cx="1611.1" cy="1135.5" r="3.55"/><circle cx="1621.3" cy="1146.7" r="3.55"/><circle cx="1612.5" cy="1159.0" r="3.55"/><circle cx="1622.7" cy="1170.2" r="3.55"/><circle cx="1613.8" cy="1182.5" r="3.55"/><circle cx="1624.0" cy="1193.7" r="3.55"/><circle cx="1615.2" cy="1206.0" r="3.55"/><circle cx="1625.4" cy="1217.2" r="3.55"/><circle cx="1616.5" cy="1229.5" r="3.55"/><circle cx="1626.1" cy="1063.9" r="3.55"/><circle cx="1636.3" cy="1075.1" r="3.55"/><circle cx="1627.5" cy="1087.4" r="3.55"/><circle cx="1637.7" cy="1098.6" r="3.55"/><circle cx="1628.8" cy="1110.9" r="3.55"/><circle cx="1639.0" cy="1122.1" r="3.55"/><circle cx="1630.2" cy="1134.4" r="3.55"/><circle cx="1640.4" cy="1145.6" r="3.55"/><circle cx="1631.5" cy="1157.9" r="3.55"/><circle cx="1641.7" cy="1169.1" r="3.55"/><circle cx="1632.9" cy="1181.4" r="3.55"/><circle cx="1643.1" cy="1192.6" r="3.55"/><circle cx="1634.2" cy="1204.9" r="3.55"/><circle cx="1644.4" cy="1216.1" r="3.55"/><circle cx="1635.6" cy="1228.4" r="3.55"/><circle cx="1645.2" cy="1062.8" r="3.55"/><circle cx="1655.4" cy="1074.0" r="3.55"/><circle cx="1646.5" cy="1086.3" r="3.55"/><circle cx="1656.8" cy="1097.5" r="3.55"/><circle cx="1647.9" cy="1109.8" r="3.55"/><circle cx="1658.1" cy="1121.0" r="3.55"/><circle cx="1649.2" cy="1133.3" r="3.55"/><circle cx="1659.5" cy="1144.5" r="3.55"/><circle cx="1650.6" cy="1156.8" r="3.55"/><circle cx="1660.8" cy="1168.0" r="3.55"/><circle cx="1652.0" cy="1180.3" r="3.55"/><circle cx="1662.2" cy="1191.5" r="3.55"/><circle cx="1653.3" cy="1203.8" r="3.55"/><circle cx="1663.5" cy="1215.0" r="3.55"/><circle cx="1654.7" cy="1227.3" r="3.55"/><circle cx="1664.2" cy="1061.7" r="3.55"/><circle cx="1674.5" cy="1072.9" r="3.55"/><circle cx="1665.6" cy="1085.2" r="3.55"/><circle cx="1675.8" cy="1096.4" r="3.55"/><circle cx="1667.0" cy="1108.7" r="3.55"/><circle cx="1677.2" cy="1119.9" r="3.55"/><circle cx="1668.3" cy="1132.2" r="3.55"/><circle cx="1678.5" cy="1143.4" r="3.55"/><circle cx="1669.6" cy="1155.7" r="3.55"/><circle cx="1671.0" cy="1179.2" r="3.55"/><circle cx="1672.3" cy="1202.7" r="3.55"/><circle cx="1673.7" cy="1226.2" r="3.55"/></g>
<g clip-path="url(#cig)">
<rect x="1454.1" y="1230" width="218.10000000000014" height="216.4000000000001" fill="url(#rgg)"/>
<path d="M1665.4 1552.1L1295.8 1276.9M1490.9 1561.1L1819.3 1249.9M1706.5 1513.2L1336.9 1238.0M1444.7 1526.7L1773.1 1215.5M1788.5 1435.4L1419.0 1160.2M1352.3 1457.9L1680.7 1146.7M1829.6 1396.5L1460.0 1121.3M1306.1 1423.5L1634.5 1112.3" stroke="#3f5cd4" stroke-width="9" opacity="0.55" fill="none" filter="url(#bl)"/><g fill="url(#spot)"><circle cx="1526.8" cy="1448.9" r="6" opacity="1.00"/><circle cx="1480.6" cy="1414.5" r="6" opacity="1.00"/><circle cx="1614.1" cy="1444.4" r="6" opacity="1.00"/><circle cx="1567.9" cy="1410.0" r="6" opacity="1.00"/><circle cx="1521.7" cy="1375.6" r="6" opacity="1.00"/><circle cx="1475.5" cy="1341.2" r="6" opacity="1.00"/><circle cx="1655.1" cy="1405.5" r="6" opacity="1.00"/><circle cx="1608.9" cy="1371.1" r="6" opacity="1.00"/><circle cx="1516.5" cy="1302.3" r="6" opacity="1.00"/><circle cx="1470.3" cy="1267.9" r="6" opacity="1.00"/><circle cx="1650.0" cy="1332.2" r="6" opacity="1.00"/><circle cx="1603.8" cy="1297.8" r="6" opacity="1.00"/><circle cx="1557.5" cy="1263.4" r="6" opacity="1.00"/><circle cx="1511.3" cy="1229.0" r="6" opacity="1.00"/><circle cx="1644.8" cy="1258.9" r="6" opacity="1.00"/><circle cx="1598.6" cy="1224.5" r="6" opacity="1.00"/></g>
</g>
<rect x="1282.0" y="1056.1" width="393.20000000000005" height="393.60000000000014" fill="none" stroke="#000" stroke-width="2.5"/>
<rect x="1309.8" y="1089.05" width="26" height="6.1" fill="#9b5e2a"/>
<text x="1323.8" y="1086.0" font-size="26" text-anchor="middle" font-weight="normal" font-style="italic" fill="#8a4a1c" font-family="'Liberation Serif', 'DejaVu Serif', serif">σ</text>
<text x="1600.5" y="1105.2" font-size="29" text-anchor="start" font-weight="normal" font-style="normal" fill="#000" font-family="'Liberation Sans', sans-serif">Rho</text>
</g>
<rect x="1683" y="1230.3" width="7.6" height="217.1" fill="url(#cb)"/>
<path d="M1690.6 1230.3h2.8M1690.6 1243.9h2.8M1690.6 1257.4h2.8M1690.6 1271.0h2.8M1690.6 1284.6h2.8M1690.6 1298.1h2.8M1690.6 1311.7h2.8M1690.6 1325.3h2.8M1690.6 1338.9h2.8M1690.6 1352.4h2.8M1690.6 1366.0h2.8M1690.6 1379.6h2.8M1690.6 1393.1h2.8M1690.6 1406.7h2.8M1690.6 1420.3h2.8M1690.6 1433.8h2.8M1690.6 1447.4h2.8" stroke="#000" stroke-width="1.4"/>
<text x="1701.3" y="1239.9" font-size="27" text-anchor="start" font-weight="normal" font-style="normal" fill="#000" font-family="'Liberation Sans', sans-serif">4</text>
<text x="1701.3" y="1294.2" font-size="27" text-anchor="start" font-weight="normal" font-style="normal" fill="#000" font-family="'Liberation Sans', sans-serif">2</text>
<text x="1701.3" y="1348.5" font-size="27" text-anchor="start" font-weight="normal" font-style="normal" fill="#000" font-family="'Liberation Sans', sans-serif">0</text>
<text x="1701.3" y="1402.7" font-size="27" text-anchor="start" font-weight="normal" font-style="normal" fill="#000" font-family="'Liberation Sans', sans-serif">−2</text>
<text x="1701.3" y="1457.0" font-size="27" text-anchor="start" font-weight="normal" font-style="normal" fill="#000" font-family="'Liberation Sans', sans-serif">−4</text>
</svg>
</body></html>
